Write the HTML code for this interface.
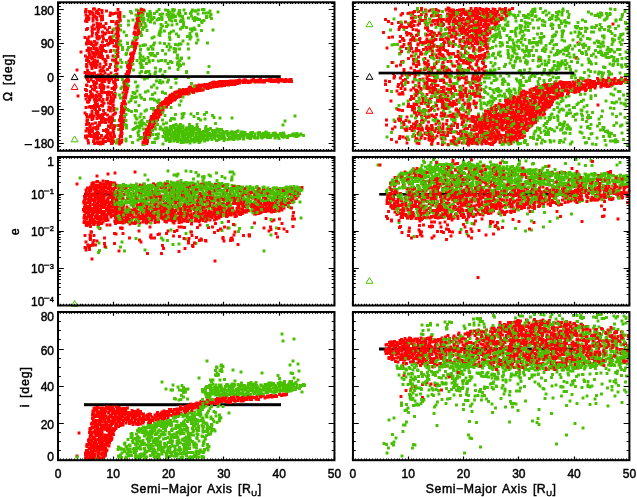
<!DOCTYPE html>
<html><head><meta charset="utf-8"><style>
html,body{margin:0;padding:0;background:#fff;}
svg{display:block;filter:blur(0.35px);}
text{font-family:"Liberation Sans",sans-serif;fill:#000;stroke:#000;stroke-width:0.45px;}
</style></head><body>
<svg width="637" height="497" viewBox="0 0 637 497">
<rect x="84" y="193" width="32" height="2.6" fill="#000"/>
<rect x="379.2" y="193" width="195" height="2.6" fill="#000"/>
<rect x="84" y="403.2" width="197" height="3" fill="#000"/>
<rect x="379" y="347.5" width="195" height="3" fill="#000"/>
<g transform="scale(.5)" stroke-width="5.8" stroke-linecap="square" fill="none"><path stroke="#ff0000" d="M1025 17h0m-19 2h0m-72 7h0m-5 0h0m-2-7h0m-5 12h0m-12-8h0m-3-3h0m-12 8h0m-14 3h0m-8 0h0m-11-11h0m-57 7h0m-3 3h0m-566-11h0m-65 5h0m6 15h0m1-3h0m8 0h0m0 6h0m7-6h0m30 7h0m548-4h0m6 4h0m7 4h0m13-2h0m26-9h0m7 7h0m16-2h0m27 0h0m6-6h0m69 11h0m3-9h0m4-5h0m0 5h0m1 8h0m41-3h0m229 6h0m-241 9h0m-16-8h0m-26 12h0m-14-13h0m-6 5h0m-16-3h0m-52 4h0m-27-3h0m-15 4h0m-536 6h0m-6-9h0m-77 24h0m5 0h0m8 2h0m3-10h0m629 11h0m1-2h0m30 2h0m10-11h0m2 7h0m274 11h0m-187 4h0m-3-7h0m-41 10h0m-5-13h0m-33 7h0m-22 7h0m-5-5h0m-9-5h0m-21-3h0m-28 13h0m-586-4h0m-11 2h0m-11-6h0m-7 5h0m-3-2h0m-22 15h0m22 0h0m4 2h0m19-5h0m15 0h0m47-3h0m569 3h0m3 7h0m1-3h0m12-6h0m11 3h0m30 0h0m5 5h0m5 1h0m34-12h0m0 15h0m33 3h0m-2 1h0m-16 8h0m-65-7h0m-15 8h0m-13-11h0m-12 12h0m-584-4h0m-50-9h0m-9 6h0m-4-3h0m-12 12h0m-4-2h0m-2 12h0m19 3h0m5 2h0m53-6h0m532-4h0m8-2h0m7 9h0m25-8h0m21 3h0m8 2h0m26-3h0m0 9h0m7-4h0m4 2h0m21-10h0m37 6h0m12-2h0m2-1h0m224 24h0m-244 2h0m-50-11h0m-1 10h0m-31-5h0m-43-6h0m-4 0h0m-18 4h0m-3 5h0m-12-3h0m-232 6h0m-302-4h0m-3-6h0m-29 9h0m-3-4h0m-4-4h0m-10 1h0m-33 0h0m0 19h0m75-7h0m131 12h0m11-3h0m11-1h0m9-2h0m5 0h0m19 4h0m3-9h0m11-1h0m31 3h0m39-6h0m0 4h0m44-3h0m209 8h0m25 4h0m20-8h0m51 10h0m21-1h0m13-10h0m46 2h0m5 5h0m6-1h0m140 0h0m12-5h0m29 0h0m2 3h0m35-8h0m10 13h0m3-10h0m0 2h0m52-5h0m2 6h0m-84 14h0m-35 5h0m-38-5h0m-35 4h0m-90-4h0m-2 8h0m-20-5h0m-38 1h0m-3-5h0m-7 8h0m-8 3h0m-15-14h0m-63 9h0m-411-3h0m-42 2h0m-122 3h0m-59-8h0m-15 13h0m36 1h0m6 7h0m17-4h0m2 10h0m4-4h0m5 2h0m21-8h0m2 7h0m572-4h0m29 8h0m2-10h0m24 6h0m20-11h0m11 1h0m54 1h0m120 10h0m13-4h0m7-2h0m2-4h0m2 9h0m-13 15h0m-14-9h0m-12 0h0m-5 5h0m-20-1h0m-8 7h0m-30-10h0m-17 13h0m-3-7h0m-55-7h0m-4 7h0m-11 2h0m-8-6h0m-1-2h0m-43 10h0m-3 1h0m-1-12h0m-19 5h0m-10-6h0m-495 6h0m-7 8h0m-83-9h0m-21 3h0m-15 5h0m-11 2h0m-22 10h0m10-4h0m1 6h0m9-5h0m6 6h0m19 0h0m578 2h0m3-5h0m43-1h0m89-8h0m15 13h0m33-11h0m1 3h0m56 1h0m50-6h0m-24 20h0m-5 11h0m-13-3h0m-16 1h0m-5-1h0m-11 1h0m-4-8h0m-23 7h0m-27-7h0m-7-1h0m-66 4h0m-7 6h0m-1-9h0m-32-3h0m-2-2h0m-12 5h0m-533 4h0m-56-2h0m-4-7h0m-12 11h0m-24-9h0m-11 13h0m-1-9h0m-16-6h0m-2 9h0m71 18h0m45 0h0m4-8h0m492-1h0m69 11h0m28 1h0m42-3h0m11-10h0m5 13h0m66-10h0m18 11h0m29-15h0m-25 26h0m-6 5h0m-20-8h0m-15 5h0m-9-9h0m-8 3h0m-2-2h0m-2 3h0m-32 8h0m-58 0h0m-18-12h0m-24 3h0m0 8h0m-22-10h0m-12-3h0m-557 0h0m-1 12h0m-4-6h0m-9-6h0m-23 14h0m-11-3h0m6 4h0m781 1h0m-98 43h0m21-5h0m5 1h0m311 20h0m-150 0h0m-107 1h0m-26-9h0m-46 7h0m-58-10h0m-16 12h0m-548-5h0m-83 22h0m674-9h0m41-1h0m58 8h0m58-9h0m35 0h0m142 6h0m7-2h0m56 23h0m-52-6h0m-16 1h0m-19 1h0m-36 5h0m-10-5h0m-25 3h0m-14-7h0m-72 5h0m-57 3h0m-39 1h0m-32-6h0m-40-7h0m-61 12h0m-553-12h0m-25-2h0m-53 0h0m265 22h0m180-3h0m221 8h0m7-7h0m6 3h0m31-5h0m6 3h0m54 7h0m41-1h0m12 2h0m9-7h0m23 2h0m11-3h0m1-3h0m14 1h0m63 5h0m32 6h0m21 1h0m33-4h0m40 4h0m18-14h0m5 1h0m-134 21h0m-9-2h0m-38 2h0m-29-1h0m-15 8h0m-6-4h0m-13 4h0m-24-5h0m-20 4h0m-12 1h0m-31-7h0m-33-2h0m-15 0h0m-14-2h0m-44 1h0m-12 7h0m-9 0h0m-9-6h0m-6-4h0m-197 12h0m-27-9h0m-46 4h0m-5 2h0m-107 3h0m-89-9h0m-6 4h0m-75 6h0m-13 1h0m-6-7h0m0 3h0m-34-11h0m-1 6h0m39 17h0m7 7h0m2-5h0m10-5h0m21 6h0m3 3h0m27-5h0m15-5h0m3 1h0m86-3h0m32 14h0m6-3h0m52-4h0m3-7h0m0 4h0m7 8h0m2-11h0m29 10h0m8-2h0m15-4h0m5 0h0m265 3h0m37 4h0m12-4h0m29 6h0m28-2h0m6-7h0m33-4h0m2 11h0m1-9h0m3 6h0m10 4h0m4-5h0m2 0h0m15-3h0m11 5h0m3-4h0m9 2h0m11-2h0m6-7h0m30 0h0m12 1h0m-1 28h0m-87-2h0m-73-7h0m-11 1h0m-1-5h0m-51 5h0m-32-5h0m-9 3h0m-21 7h0m-194-4h0m-4 0h0m-26 0h0m-50 8h0m-78 1h0m-15-13h0m-4 8h0m-5-1h0m-44-8h0m0 1h0m-41 2h0m-18 4h0m-11 6h0m-19-2h0m-8 2h0m-22-13h0m-3 12h0m-19-11h0m-8 1h0m-17-2h0m-24 18h0m15-2h0m53 7h0m95 6h0m33-7h0m490-2h0m71 1h0m28 7h0m-15 15h0m-445-6h0m-52 7h0m-137-1h0m-100 0h0m-37 8h0m10 7h0m6-10h0m94 3h0m117-3h0m-41 22h0m-174 15h0m831 132h0m38-10h0m29 2h0m8 4h0m9-5h0m24 4h0m7 0h0m34 10h0m1-4h0m7 2h0m50 2h0m21 9h0m-110-1h0m-12-1h0m-13 0h0m-5 4h0m-9 5h0m-5-14h0m-11 2h0m-1 5h0m-23 1h0m0 2h0m-2-1h0m-10 3h0m-19 2h0m-50-11h0m-2 8h0m-37 0h0m-140 17h0m29-4h0m2-1h0m9 3h0m8 3h0m6-8h0m6-1h0m8 2h0m40 4h0m5-7h0m15 2h0m9 1h0m47 6h0m3 0h0m7-13h0m31 9h0m41 6h0m32-6h0m11-1h0m13-5h0m11 1h0m1 9h0m36-5h0m9 7h0m13-13h0m18 8h0m29 2h0m18 3h0m4 13h0m-8-11h0m-82 8h0m-1-7h0m-5 2h0m-2-2h0m-15 4h0m-14 7h0m-49-8h0m-16 10h0m-8-12h0m-1-2h0m-1 10h0m-29-2h0m-33-7h0m-4 8h0m-14-4h0m-11-6h0m-82 6h0m-19-2h0m-24 0h0m-5 3h0m-16 0h0m-3 3h0m-22-1h0m-11 10h0m5 3h0m24 2h0m9 6h0m9-14h0m0 14h0m6-5h0m10 5h0m8-12h0m5 5h0m3 4h0m5-6h0m84-3h0m9 10h0m97-9h0m0 8h0m4-1h0m2 4h0m1-4h0m34-4h0m39 7h0m42-4h0m22-1h0m-137 14h0m-31-3h0m-225 9h0m287 4h0m8 0h0m55 0h0m-343 45h0m35 18h0m-2-4h0m-275-5h0m-17 3h0m-5 0h0m-14 1h0m-4 2h0m-93 1h0m-2 0h0m-217 17h0m2 1h0m155-2h0m2-2h0m5-3h0m79-3h0m10-3h0m-96 20h0m-1-4h0m-20 0h0m-10 13h0m-29-6h0m-32 3h0m-7-8h0m-51 2h0m-31-4h0m0 6h0m-2-6h0m-2-2h0m22 16h0m85 14h0m4-1h0m27-7h0m-97 15h0m-27 7h0m-24-3h0m-22 9h0m52 4h0m5 1h0m-1 16h0m-8-4h0m-29 7h0m-6 16h0m4-4h0m23 2h0m13-8h0m3 4h0"/>
<path stroke="#48c000" d="M1124 30h0m-97 0h0m-9 0h0m-3-8h0m-38 6h0m-7 3h0m-78-12h0m-57-2h0m-427 2h0m-25 5h0m-23 3h0m-2-2h0m-2 3h0m-8 2h0m-3-8h0m-11 7h0m-33-2h0m-1-4h0m-23 1h0m-4-4h0m-32 21h0m60 3h0m2-5h0m21 0h0m20-4h0m21-2h0m423 5h0m34 7h0m250-13h0m18 12h0m22-11h0m2 1h0m16 7h0m7-6h0m1 11h0m61-12h0m1-1h0m32 7h0m9-1h0m10 6h0m-20 12h0m-31-8h0m-49 4h0m-27 9h0m-67-1h0m-15-1h0m-12 2h0m-38-10h0m-54 4h0m-1-7h0m-55 13h0m-557-10h0m-1 0h0m-43 13h0m1 2h0m22 9h0m35-2h0m41-7h0m0 5h0m13-4h0m444 1h0m32-2h0m14 6h0m81-4h0m20 4h0m48-1h0m8-6h0m68 4h0m16 3h0m114 4h0m2-3h0m-34 10h0m-39 11h0m-43-15h0m-16 10h0m-29-7h0m-4 2h0m-5 0h0m-8 1h0m-20-1h0m-5 8h0m-3-1h0m-6-1h0m-36 1h0m-7 3h0m-96-11h0m-56-4h0m-38 9h0m-11 1h0m-391-4h0m-42 3h0m-60 1h0m-5 1h0m-20-9h0m-9 13h0m39 3h0m4 9h0m5-9h0m0 9h0m10 0h0m536 1h0m1-2h0m7-10h0m0 6h0m5-5h0m57 9h0m95 1h0m14-7h0m15 0h0m28 1h0m19-3h0m21 9h0m13-7h0m5-4h0m34 11h0m18 4h0m8-10h0m29 2h0m1-4h0m19 10h0m18-5h0m-14 13h0m-91-2h0m-37 10h0m-19 0h0m-67-1h0m-5-11h0m-24-1h0m-79 3h0m-89 3h0m-470-2h0m-46 6h0m-21-7h0m-52 10h0m-16-3h0m54 8h0m0 5h0m1 8h0m766-3h0m5-12h0m34 15h0m1-4h0m52 0h0m42-11h0m60 2h0m10 3h0m-30 15h0m-60 9h0m-12-1h0m-77-9h0m-7 3h0m-24 0h0m-25 2h0m-4-5h0m-20 11h0m-6-6h0m-69-2h0m-22-1h0m-2 0h0m-9 9h0m-57 0h0m-456-13h0m-43 10h0m-5-4h0m-78 15h0m72-1h0m595 2h0m92 2h0m1-6h0m3 0h0m6 5h0m1 1h0m30 2h0m29-8h0m171 27h0m-149-3h0m-4-4h0m-56 4h0m-19-1h0m-22-3h0m-21 5h0m-54-9h0m0 4h0m-25 2h0m-62 3h0m-476-9h0m-95 14h0m9 1h0m10 2h0m6 3h0m550 7h0m12 1h0m31-4h0m11-6h0m1 4h0m46-3h0m27-3h0m1 11h0m53-14h0m101 11h0m35 3h0m95-6h0m-4 8h0m-20 9h0m-23 5h0m-51-13h0m-5 6h0m-2 0h0m-9-4h0m-203 6h0m-36-3h0m-61 3h0m-9 2h0m-36-2h0m-451-2h0m-84 6h0m12 10h0m10 3h0m86-1h0m2-6h0m14 1h0m6 5h0m7-6h0m45 9h0m150-4h0m269 2h0m31-7h0m24 1h0m53 0h0m8 7h0m48-5h0m114-3h0m10 6h0m30-2h0m73 4h0m-9 17h0m-65 1h0m-1 2h0m-13-1h0m-34-3h0m-12-10h0m-2 14h0m-21-8h0m-58-7h0m-193 11h0m-28 3h0m-244-12h0m-4 8h0m-135-3h0m-104 1h0m-35 2h0m-4-3h0m-4-2h0m-6 1h0m-3 7h0m-4-7h0m-25 8h0m32 2h0m28 13h0m14-11h0m4 0h0m7-2h0m19 12h0m8 3h0m8-2h0m23-12h0m12 8h0m6-2h0m31 1h0m7 6h0m3-1h0m5-5h0m1-1h0m11 1h0m17 0h0m4 0h0m93 7h0m3 0h0m4-3h0m8-1h0m189-2h0m31-4h0m53-1h0m23 5h0m4-7h0m22 9h0m33-6h0m119 7h0m12-11h0m2 8h0m9 4h0m6-4h0m24-5h0m6 6h0m13-8h0m44 9h0m17-7h0m6 0h0m16 7h0m6 4h0m27-11h0m-62 16h0m-21 9h0m-5-10h0m-24 9h0m-14-6h0m-55 1h0m-26 6h0m-14-1h0m-153-8h0m-372 0h0m-60 2h0m-12 1h0m-46 3h0m-53 1h0m-8-7h0m-97 4h0m-1 6h0m93 2h0m538 1h0m50 1h0m122-2h0m156 1h0m-325 30h0m69 8h0m17 7h0m20-1h0m27 0h0m7 1h0m2-9h0m5 8h0m25-5h0m26 0h0m66-1h0m27 1h0m24-7h0m2 2h0m50 7h0m-45 17h0m-11 3h0m0 1h0m-28-4h0m-18 0h0m-29 4h0m-19-2h0m-39-6h0m-10 6h0m-15 0h0m-14-4h0m-26-7h0m-19 2h0m-42-1h0m-17 1h0m-13-1h0m-5 8h0m-2-10h0m-18 0h0m-4 3h0m-5-2h0m-13-1h0m-1 6h0m-41 5h0m-335-4h0m-5 0h0m-112 6h0m-58 0h0m30 16h0m29 0h0m19 0h0m40-10h0m11 9h0m44-5h0m339-1h0m3-7h0m1 4h0m61 4h0m11-4h0m15 2h0m30 8h0m8 0h0m15-5h0m0 1h0m92 1h0m16 4h0m10-10h0m8-5h0m5 12h0m6-5h0m3 7h0m16-5h0m10-6h0m3 4h0m12-3h0m21-4h0m24 3h0m14 6h0m21-1h0m13-4h0m5 5h0m2-1h0m19-4h0m-6 15h0m-40 11h0m-21-10h0m-8 1h0m-30 10h0m-45-1h0m-21-3h0m-42-3h0m-11 2h0m-19 2h0m-29 0h0m-11-5h0m-17-4h0m-27-2h0m-9 2h0m-25 8h0m-4-7h0m-20-4h0m-5 10h0m-18-6h0m-11 2h0m-3 0h0m-5 2h0m-38 3h0m-180-1h0m-3-3h0m-51 1h0m-33-3h0m-29 1h0m-7-1h0m-39 4h0m-9-9h0m-5 3h0m-2-2h0m-43 7h0m-29 6h0m-25 1h0m-1-7h0m-28-5h0m-8-3h0m-20 9h0m-1-6h0m19 28h0m30-7h0m2 1h0m31-8h0m126 0h0m18 6h0m281-1h0m1-3h0m69-2h0m3 0h0m13 14h0m59-11h0m5-3h0m52 14h0m37-7h0m37-8h0m39 8h0m1 3h0m8 1h0m9-1h0m3 2h0m24-4h0m5-2h0m34 11h0m-9-1h0m-6 2h0m-100 4h0m-1-3h0m-49 0h0m-104-4h0m-9 6h0m-24 7h0m-9-3h0m-2 5h0m-42-6h0m-11 1h0m-4-4h0m-216-3h0m-2 2h0m-33-3h0m-16-1h0m-39 9h0m-13 1h0m-24-2h0m-147-1h0m-67 6h0m10 4h0m63 11h0m18-11h0m50 1h0m41 6h0m19 6h0m19-7h0m84-1h0m282-6h0m70 6h0m62 3h0m41 16h0m-208 3h0m-563-13h0m209 29h0m35-4h0m25-2h0m314 7h0m162-9h0m15 2h0m36 2h0m32 3h0m-129 8h0m-106 5h0m-286-3h0m-356 20h0m26 5h0m114-15h0m9 1h0m193 21h0m-238-2h0m914 137h0m-50-6h0m-53 3h0m-154 4h0m-86 9h0m165-2h0m24 1h0m15 2h0m34-4h0m56-1h0m8 5h0m11 6h0m72 16h0m-10-11h0m-20 9h0m-52-1h0m-23-7h0m-59 9h0m-7 0h0m-48 1h0m-3-12h0m-108 19h0m49-3h0m16 12h0m55-1h0m63 1h0m42-6h0m53-3h0m26-4h0m37 23h0m-7-1h0m-8-7h0m-8 13h0m-1-6h0m-11 8h0m-27-8h0m-24 2h0m-17 1h0m-52-8h0m-100 0h0m-5 12h0m-13-6h0m-7 2h0m-86 2h0m-54 16h0m39 3h0m14-3h0m9-10h0m19 2h0m14 6h0m1 5h0m35-13h0m39 0h0m17 6h0m12 7h0m2-5h0m24-10h0m22 9h0m9 5h0m85-12h0m2 10h0m8-2h0m2 4h0m3-9h0m5 0h0m19 8h0m14-3h0m12-6h0m-3 21h0m-18 2h0m-35 2h0m-2-6h0m-27 4h0m-13 4h0m-1-5h0m-19-7h0m-67 5h0m-12-4h0m-81 2h0m0 5h0m-14-11h0m-20 15h0m-8-7h0m-11 6h0m-47-1h0m-19-5h0m-15-1h0m-37 5h0m-348 1h0m-4-1h0m-9 19h0m149-5h0m213-10h0m16 2h0m36 11h0m23-4h0m9-5h0m12 3h0m33 3h0m13-10h0m48 12h0m4 3h0m44-6h0m6-3h0m31-2h0m5 0h0m105 8h0m11-11h0m23 10h0m29-8h0m-11 27h0m-43-7h0m-40 2h0m-79 3h0m-28-1h0m-22-3h0m-57-8h0m-37 15h0m-7-13h0m-4-2h0m-5 15h0m-2-6h0m-50-2h0m-27-2h0m-9-3h0m-262 10h0m-13 3h0m-9-1h0m-36-1h0m-19 1h0m-60-3h0m-91 15h0m44 0h0m39-3h0m11-7h0m28 1h0m1 3h0m3 4h0m5-6h0m16 5h0m4-3h0m39-2h0m7 10h0m5 1h0m15 1h0m9-11h0m6-3h0m30 2h0m9 1h0m6 0h0m222 6h0m12 2h0m9-10h0m8 2h0m4 6h0m2 3h0m47-8h0m22 6h0m75 0h0m23 4h0m8-6h0m87 7h0m23-10h0m73 0h0m0 7h0m25 0h0m-46 8h0m-59 1h0m-38 7h0m-141-11h0m-9 6h0m-6 1h0m-50 5h0m-5 1h0m-75-3h0m-306-5h0m-15 2h0m-2-5h0m-51 3h0m-33 4h0m-7-10h0m-39 10h0m-9 6h0m65 9h0m380-3h0m31 2h0m38 2h0m20-3h0m57-7h0m205 7h0m90-2h0m-166 14h0m-87-3h0m-64 3h0m-59 8h0m-51-2h0m-386 0h0m-36 4h0m-13-6h0m-54 21h0m3 1h0m3-6h0m22-6h0m1-1h0m10 12h0m8-9h0m11 11h0m12-4h0m28-3h0m2 4h0m401-10h0m247 4h0m-202 14h0m-444 11h0m-7-13h0m-1 5h0m-15-1h0m-12-5h0m-9 7h0m-17-7h0m-4 4h0m-22-1h0m0 9h0m-12 2h0m-4-5h0m-4-4h0m-10 1h0m-12-3h0m-4 4h0m-1-4h0m-6 10h0m-4-1h0m-2-3h0m-5 2h0m-15 14h0m7 4h0m4-3h0m1-1h0m29-8h0m7 12h0m4-13h0m2 12h0m2-3h0m10-4h0m26 5h0m10 4h0m4-2h0m2 0h0m15-6h0m7-2h0m0 7h0m739-5h0m-20 18h0m-707 3h0m-8-9h0m-5 8h0m-3-4h0m-2 8h0m-1-6h0m-9-2h0m-3 3h0m-8 0h0m-17 4h0m-20 1h0m-15-12h0m-35 10h0m-39 18h0m13-12h0m0 9h0m2-3h0m4 6h0m8-5h0m1-2h0m7-7h0m7 12h0m16-7h0m33 5h0m12-1h0m7 4h0m27-13h0m4 9h0m3 0h0m13 2h0m9-2h0m9-5h0m361-4h0m48 0h0m-21 16h0m-406 2h0m-6 0h0m-8 2h0m-75-2h0m-16 0h0m-21 3h0"/>
<path stroke="#ff0000" d="M1019 20h0m-88 9h0m-6-9h0m-10 1h0m-17-4h0m-5 3h0m-50 0h0m0 9h0m-6-6h0m-8 0h0m-9 3h0m-542-4h0m-50 5h0m-39-9h0m-9 10h0m-8-5h0m1 13h0m0 4h0m1 3h0m2-10h0m16 1h0m34 9h0m12 0h0m585 2h0m7-12h0m46 7h0m0 6h0m23-3h0m1-6h0m9 4h0m10-4h0m18-5h0m5 11h0m11-11h0m10 5h0m8 5h0m15-8h0m1 4h0m5 2h0m-29 22h0m-24-9h0m-22-4h0m-645 7h0m-35-6h0m-1 6h0m-4-8h0m-17 12h0m-8-8h0m-22 6h0m-15 17h0m14-3h0m1-6h0m34 10h0m5-11h0m54-1h0m507 10h0m67-4h0m32 0h0m43 5h0m7 3h0m12-7h0m11-4h0m18 2h0m-2 12h0m-3 10h0m-63-1h0m-17-5h0m-3 5h0m-8 4h0m-29-8h0m-29 6h0m-13-11h0m0 8h0m-595-8h0m-8 3h0m-16-1h0m-7 1h0m-9 4h0m5 17h0m1 5h0m23-12h0m0 7h0m601-2h0m17-7h0m15 5h0m25-4h0m12 13h0m2-9h0m8 8h0m5-10h0m4 2h0m25 2h0m43-1h0m9 9h0m2-4h0m5-3h0m177 12h0m-190-2h0m-14 2h0m-7 8h0m-3 3h0m-6-2h0m-105-6h0m-24 5h0m-540 0h0m-27-11h0m-3 1h0m-2 6h0m-5-8h0m-31 10h0m-11-8h0m-10 3h0m10 16h0m8 2h0m20-6h0m9 0h0m10 4h0m24-1h0m0 11h0m567-7h0m42 0h0m46-4h0m27 5h0m1 0h0m20 3h0m0 2h0m259 14h0m-284-2h0m-5-10h0m-74 10h0m-8 4h0m-10-13h0m-6 8h0m-18-4h0m-589 6h0m-6-1h0m-15-1h0m-13-1h0m-19-7h0m23 20h0m7 10h0m9-12h0m7-3h0m15 0h0m212 12h0m6-1h0m4-2h0m37-4h0m34-1h0m48-1h0m294-1h0m10 9h0m5-11h0m21 12h0m41 3h0m130-1h0m30-5h0m13-2h0m14 3h0m9 2h0m27-11h0m14 0h0m5 2h0m13-3h0m40 1h0m-57 18h0m-29 5h0m-28-8h0m-7 8h0m-9 2h0m-13 1h0m-3-2h0m-15-9h0m-2 12h0m-9-9h0m-2-1h0m-102 0h0m-23 7h0m-8-5h0m0 3h0m-3-3h0m-61-1h0m-1-2h0m-4 0h0m-18 11h0m-489-4h0m-12 7h0m-1-1h0m-2 1h0m-146-7h0m-9-6h0m-1 10h0m-13 3h0m5 2h0m1 11h0m13-1h0m12-10h0m4 6h0m2 7h0m112 1h0m10-5h0m1-2h0m7-6h0m522 4h0m3-3h0m7-2h0m10 0h0m9 4h0m25 3h0m11-6h0m11 7h0m76 4h0m16-6h0m25-4h0m15 11h0m1-8h0m11 1h0m28-5h0m-8 17h0m-26 3h0m-42-6h0m-17 14h0m-17-14h0m-62 1h0m-20 14h0m-3-15h0m-65 11h0m-2 3h0m-17-6h0m-611-2h0m-13-2h0m-2-1h0m-4 8h0m-21-5h0m-8 12h0m9 8h0m5 5h0m17-8h0m4-2h0m0 3h0m20 4h0m6-10h0m12 1h0m4-2h0m55 11h0m1-3h0m546-9h0m4 11h0m18 1h0m30-5h0m17-4h0m5 9h0m57 1h0m6-1h0m25 2h0m35-14h0m40 6h0m3-2h0m87 8h0m-112 14h0m-15 1h0m-4-4h0m-22-1h0m-5-2h0m-3 0h0m-1-3h0m-19 11h0m-5-7h0m-2-2h0m-35 11h0m-6-1h0m-19-13h0m-18 6h0m-3-4h0m-13-1h0m-22 7h0m-15-4h0m-3 8h0m-46-3h0m-4 5h0m-31-14h0m-548 13h0m-3-2h0m-1 4h0m-4-2h0m-12-9h0m-4 1h0m-2 0h0m-14 3h0m-5 3h0m-6 6h0m12-1h0m9 15h0m20-5h0m7 4h0m4-10h0m17 1h0m2-4h0m44 12h0m12-3h0m509-8h0m2 3h0m17 10h0m7-14h0m21 9h0m30 4h0m16-12h0m25 2h0m3-4h0m18 14h0m21 1h0m7-13h0m13 11h0m43-11h0m3 3h0m4 1h0m8-5h0m6 0h0m-9 18h0m-19-1h0m-7 13h0m-2-14h0m-10 11h0m-17-11h0m-7 13h0m-20-7h0m-1-1h0m-8 5h0m-6-7h0m-17 0h0m-7 1h0m-17-3h0m-17 4h0m-1-6h0m-24 10h0m-7-3h0m-59-2h0m-555 3h0m-3-7h0m-1-1h0m-1 13h0m-29-10h0m-19 11h0m-3-7h0m-1 4h0m-4-10h0m-7 8h0m687 7h0m48 0h0m-18 43h0m94 11h0m0 2h0m-89 7h0m-76-4h0m-627 16h0m5 3h0m13 1h0m8-2h0m576 1h0m5-12h0m4 3h0m25-2h0m42 2h0m60 2h0m5 0h0m61-2h0m35 7h0m9-10h0m55 9h0m112-5h0m-37 23h0m-16-4h0m-9 6h0m-12-15h0m-3 1h0m-15 4h0m-13-2h0m-1 8h0m-5-9h0m-3 10h0m-6 2h0m-61-2h0m-204-1h0m-7 0h0m-11-9h0m-18 2h0m-349 2h0m-11 1h0m-26-7h0m-23 4h0m-11-3h0m-148 7h0m-9-3h0m-1-3h0m-2 0h0m-13 6h0m-6 7h0m-8-2h0m-10-1h0m11 18h0m7 1h0m1-12h0m0 8h0m5 0h0m12 4h0m8 0h0m3-4h0m150-7h0m98 8h0m38 0h0m91-4h0m179 4h0m19-9h0m46 5h0m10-2h0m15 2h0m60 0h0m0 0h0m10 0h0m26-7h0m4-1h0m21 11h0m5-4h0m61 3h0m12-3h0m62 1h0m23 7h0m6-4h0m18-5h0m13 7h0m22-1h0m3-1h0m4-2h0m40 12h0m-105-3h0m-7-2h0m-2 2h0m-18 7h0m-22-4h0m0 6h0m-46-8h0m-3 2h0m0 4h0m-13 3h0m-32-12h0m-7 7h0m-3-3h0m-14 8h0m-6-9h0m-3 10h0m-3-1h0m-3-1h0m-19 1h0m-18-6h0m-16-3h0m-6 0h0m-21 6h0m-39-9h0m-23 13h0m-3-8h0m-10 10h0m-6-7h0m-11-3h0m0 6h0m-15-8h0m-7 4h0m-217 7h0m-17-9h0m-23-4h0m-11 9h0m-20-1h0m0 4h0m-3-6h0m-59-4h0m-26 9h0m-28-6h0m-35-4h0m-15 7h0m-12 1h0m-20-8h0m-21 12h0m-50 0h0m-1-2h0m-20-12h0m-16 10h0m-4-5h0m-4 5h0m-1-3h0m-1-7h0m-2 4h0m27 12h0m0 1h0m0 5h0m2 3h0m8-2h0m5 7h0m5-13h0m10 14h0m22-11h0m2 11h0m3-11h0m41 10h0m5 0h0m26-2h0m66-9h0m9 1h0m34 7h0m17-11h0m9 10h0m16-7h0m34 9h0m40-6h0m38 3h0m203-1h0m4 5h0m9 0h0m5-7h0m20 9h0m10-12h0m20 7h0m22-5h0m22 8h0m35 0h0m31-7h0m2-2h0m2 4h0m9-4h0m23 5h0m18 0h0m92-2h0m94 9h0m-87 1h0m-126 12h0m-9-1h0m-53-3h0m-17-4h0m-12 3h0m-19-5h0m-14 0h0m-2 9h0m-1-12h0m-8 4h0m-20 6h0m-1-8h0m-14-1h0m-3 4h0m-20-2h0m-27 2h0m-2-4h0m-187-1h0m-38 8h0m-4 2h0m-89-10h0m-25 1h0m-1 7h0m-9 0h0m-16-2h0m-13 4h0m-7-10h0m-18 6h0m-6 4h0m-12 4h0m-9-6h0m-12-5h0m-1 3h0m-26-6h0m-54 9h0m-5 2h0m-8-6h0m-37-1h0m-5-1h0m-11 6h0m-8 7h0m9 5h0m63 4h0m56-3h0m95 1h0m22 0h0m111 1h0m271-1h0m145 8h0m-39 1h0m-62 0h0m-26 7h0m0 0h0m-355 6h0m-160-7h0m-56-3h0m-65 12h0m-3 15h0m13-4h0m88-10h0m106 11h0m18-11h0m45 2h0m-121 15h0m673 148h0m3 6h0m6-2h0m8 4h0m13-9h0m6-3h0m7 11h0m10 1h0m26-10h0m5 1h0m2-4h0m3 10h0m5-5h0m39-2h0m0 9h0m8 1h0m51 12h0m-17-7h0m-27-2h0m-61 4h0m-2 7h0m-2-10h0m-14 14h0m-3-1h0m-3-6h0m-2 3h0m-6 1h0m-29-12h0m-8 3h0m-1 11h0m-36-7h0m-24-3h0m-17 10h0m-1-3h0m-158 17h0m40-7h0m9 1h0m5 0h0m43 1h0m4 5h0m9 1h0m8-8h0m0 6h0m9-11h0m50 12h0m52 1h0m17-9h0m9-2h0m9 4h0m32-4h0m10 8h0m18 1h0m62-3h0m1-1h0m4-2h0m3 6h0m18 3h0m43-13h0m4 10h0m-154 5h0m0 14h0m-7-13h0m-4 13h0m-46-12h0m-7 4h0m-10 0h0m-31 2h0m-32-1h0m-8-1h0m-15-4h0m-31 10h0m-11-9h0m-5 11h0m-21-12h0m-9 11h0m-7 1h0m-3 0h0m-5-2h0m-11-3h0m-9 5h0m-4-2h0m-11-5h0m-8-5h0m-19 17h0m38 0h0m12 0h0m5 0h0m20-2h0m12 3h0m12-2h0m21 4h0m13 1h0m7-1h0m8 4h0m49-5h0m14 8h0m25-1h0m13-6h0m7 8h0m40-4h0m2 1h0m3-6h0m23 6h0m2-8h0m144-1h0m15 6h0m-8 13h0m-41 6h0m-84-5h0m-9 3h0m-2-3h0m-90 7h0m-3-2h0m-1-4h0m-109-5h0m-3 4h0m-12 6h0m-26-5h0m-8-5h0m-6 4h0m-59-2h0m-5-1h0m17 28h0m230-13h0m-184 27h0m-32 13h0m8-5h0m40-3h0m-343 22h0m-34 7h0m-45-3h0m-253 19h0m200-1h0m6-8h0m22 0h0m43-6h0m-89 17h0m-9 4h0m-6 6h0m-15 1h0m-1-5h0m-51 7h0m-14-7h0m0 3h0m-18 1h0m-46-1h0m-5-4h0m-6-6h0m-2 14h0m-7-6h0m-11 1h0m1 17h0m4-9h0m21 12h0m2-9h0m2 6h0m16-2h0m9 11h0m-38 0h0m-12-1h0m21 22h0m6 3h0m0 17h0m-9-3h0m-2 5h0m-15-9h0m-4 0h0m-16 22h0m18 1h0m20-9h0m1 11h0m-21 5h0m-11 2h0m-25-5h0"/>
<path stroke="#48c000" d="M1250 23h0m-54 5h0m-103 2h0m-30 1h0m-42-3h0m-1-3h0m-57 5h0m-23-2h0m-7-6h0m-32 5h0m-35 0h0m-20-2h0m-424 4h0m-9-3h0m-42 1h0m-3-7h0m-9 1h0m0 9h0m-10-10h0m-12 4h0m-40 6h0m-2-2h0m-34-5h0m-23 18h0m94 4h0m8-5h0m11 1h0m9-9h0m1 11h0m33-6h0m9 5h0m414 5h0m34-10h0m8 1h0m1 0h0m26 9h0m22-12h0m123 0h0m40-2h0m8 5h0m7 3h0m15-5h0m21 6h0m11 3h0m23 0h0m76-3h0m-61 14h0m0 7h0m-44-1h0m-25-11h0m-25 5h0m-34-4h0m-11 6h0m-23 0h0m-130-7h0m-71 8h0m-382 1h0m-72-12h0m-7 14h0m-3-12h0m-50 11h0m26 10h0m33-3h0m498 0h0m14-2h0m81-2h0m3 4h0m41 11h0m10-7h0m19 4h0m31 3h0m18-2h0m43-7h0m114 8h0m5-7h0m26-5h0m-13 23h0m-14-9h0m-13 15h0m-19-10h0m-26 6h0m-12-4h0m-54-7h0m-23 1h0m-45 0h0m-12-1h0m-24 12h0m-14-9h0m-11 5h0m-98 5h0m-17-13h0m-15 8h0m-25-2h0m-459 2h0m-6 2h0m-47-4h0m-2 4h0m-27 2h0m-12 2h0m-13-7h0m-13 3h0m3 9h0m36 12h0m21-1h0m29-2h0m18-4h0m6 6h0m581-4h0m41 2h0m9 3h0m11-2h0m20 0h0m12-3h0m5 2h0m17 3h0m2-12h0m5 7h0m5-5h0m4 10h0m42-1h0m5-1h0m4-3h0m16 5h0m11-13h0m14 3h0m5 4h0m42 6h0m46 5h0m-71 8h0m-2-2h0m-1 3h0m-23 0h0m-15-11h0m-58 7h0m-34-6h0m-13 0h0m-15 11h0m-3-11h0m-140 1h0m-521 8h0m-45-12h0m-12 12h0m-6 3h0m-13-1h0m40 16h0m1-3h0m37-6h0m500 7h0m12-4h0m73-2h0m11-3h0m71 1h0m59-4h0m7 0h0m13 12h0m16-8h0m1-1h0m11 6h0m119-8h0m5 23h0m-52 1h0m-6-9h0m-56 1h0m-25 10h0m-4 1h0m-7-2h0m-8-4h0m-4-2h0m-24 5h0m-5-3h0m-77-1h0m-7 0h0m-2 7h0m-23-10h0m-58 8h0m-584 0h0m-15-2h0m-42 20h0m65-6h0m20 9h0m489-4h0m34-4h0m5 0h0m50 6h0m39 2h0m13-1h0m69-13h0m0 2h0m0 8h0m18-10h0m30 6h0m26 6h0m125 10h0m-59-2h0m-98 6h0m-1 2h0m-62-8h0m-6 0h0m-19 0h0m-3-2h0m-21 6h0m-24-3h0m-24 2h0m-45 2h0m-8 2h0m0 3h0m-21-15h0m-3 13h0m-63-6h0m-395 1h0m-78 2h0m-36-4h0m-6 4h0m-2-1h0m5 19h0m35-6h0m56 4h0m509 4h0m4-3h0m11-5h0m4-5h0m16 0h0m54 8h0m9 6h0m13-13h0m2-2h0m2 4h0m2 4h0m12 1h0m120-7h0m47 6h0m15-8h0m47 14h0m-90 14h0m-157-7h0m-31-2h0m-592-1h0m-44 5h0m31 22h0m18-1h0m46 2h0m18-3h0m416 0h0m73-5h0m12 6h0m28-8h0m144 8h0m17-12h0m15 7h0m13 2h0m29 2h0m10-10h0m18 8h0m38-5h0m-46 24h0m-13-3h0m-107-8h0m-109 5h0m-39 7h0m-124 2h0m-418 0h0m-1-2h0m-5-4h0m-18 0h0m-1 5h0m-35-14h0m-92 11h0m44 20h0m44-14h0m26 8h0m13 0h0m33 2h0m6-1h0m7-1h0m9 1h0m1 3h0m11-2h0m19-4h0m28 0h0m57 3h0m1-2h0m14 3h0m1 4h0m20-5h0m19 3h0m9 1h0m12 1h0m292-7h0m124 4h0m15-12h0m41 3h0m18 10h0m37-12h0m7 1h0m19 6h0m4 2h0m43 7h0m-29 4h0m-57 4h0m-72 1h0m-43 3h0m-30-9h0m-73 11h0m-14-1h0m-74-12h0m-240 1h0m-17 2h0m-34-1h0m-48 2h0m-3-2h0m-17 3h0m-20-6h0m-21 7h0m-13 1h0m-4 4h0m-3-7h0m-6-1h0m-9 9h0m-13-2h0m-2-9h0m-7 0h0m-24-1h0m-8-1h0m-17 12h0m746 4h0m18-1h0m68 0h0m44 0h0m70 2h0m-382 41h0m31-1h0m20 1h0m3-8h0m29 5h0m7 4h0m20-2h0m22-8h0m90 11h0m145-8h0m14 26h0m-37 0h0m-8 0h0m-6-3h0m-31 1h0m-2-1h0m-32-3h0m-8 1h0m-23 2h0m-3-4h0m-38-4h0m-9 7h0m-7-7h0m-6-3h0m-2 12h0m-1-8h0m-46 10h0m-10-13h0m-1 9h0m-13 0h0m-5-2h0m-2-6h0m-22-1h0m-9-2h0m-19 14h0m-14-14h0m0 14h0m-18-11h0m-9 1h0m-22 10h0m-1-8h0m-4 7h0m-22-1h0m-406 2h0m-21 0h0m-25-8h0m-36 0h0m-40 18h0m34 6h0m32-5h0m46 5h0m4 0h0m25 1h0m345-2h0m9 1h0m5-1h0m1-11h0m12 3h0m5-3h0m2 3h0m35 6h0m2-9h0m3 8h0m9-9h0m16 2h0m26 0h0m2 4h0m13-4h0m6 11h0m4-11h0m19 2h0m2 0h0m25-4h0m0 4h0m1-1h0m2-3h0m59 2h0m10 10h0m3 1h0m15-1h0m9-7h0m11 4h0m49 2h0m1-3h0m8-1h0m2-5h0m13 3h0m10 0h0m5-2h0m12-4h0m15 3h0m1 9h0m15 2h0m14-13h0m1 5h0m2 4h0m3-5h0m-1 23h0m-37-5h0m-9-1h0m-64 9h0m-1-5h0m-13-4h0m-3 2h0m-3-2h0m-9-5h0m-10-1h0m-7 1h0m-3 12h0m-7-13h0m-26 2h0m-13 2h0m-45-1h0m-21 4h0m-2 6h0m-47-11h0m-52 4h0m-14 1h0m-5-2h0m-12-2h0m0 11h0m-10-14h0m-228 8h0m-15-2h0m-36 3h0m-12 1h0m-44-1h0m-11 5h0m-64-5h0m-12-4h0m-12-5h0m-10 15h0m-30-8h0m-5 4h0m-1 4h0m-10-14h0m-10 13h0m-4 0h0m-22-9h0m-41-1h0m-18 1h0m-1-2h0m-6 26h0m1-6h0m48 5h0m4-12h0m5 13h0m46 2h0m54-15h0m3 9h0m17 5h0m64-3h0m1-5h0m7-2h0m1-4h0m5 2h0m7 3h0m1-3h0m58 10h0m39-2h0m5-9h0m215 0h0m7 2h0m23 4h0m34-2h0m3 5h0m4 2h0m16 0h0m32-1h0m1-11h0m6 14h0m83-6h0m2 2h0m34 5h0m53-4h0m22-11h0m13 8h0m78 4h0m8-7h0m-79 16h0m-48-3h0m-29 4h0m-13-4h0m-37 3h0m-23-4h0m-35 9h0m-29-8h0m-6 11h0m-5-2h0m-37-5h0m-19 1h0m-34 7h0m-1-11h0m-28 4h0m-233 2h0m-19-1h0m-45-1h0m-5 0h0m-6-4h0m-6 4h0m-54-1h0m-80-4h0m-27 8h0m-14-3h0m-7 3h0m-10 2h0m-12-9h0m-14 24h0m72-2h0m75-7h0m27 4h0m342-3h0m17-2h0m44 9h0m12 0h0m10 5h0m19-6h0m3-6h0m38-1h0m-335 18h0m-209 1h0m-25-5h0m-16 7h0m-17-4h0m-96-3h0m133 46h0m-131 16h0m151-7h0m-193 14h0m762 136h0m-4 1h0m-102 13h0m6-1h0m14 0h0m18 5h0m75-7h0m86-4h0m69 8h0m66 0h0m55-10h0m-30 26h0m-11 1h0m-30-5h0m-18-8h0m-41 12h0m-88-6h0m-3 3h0m-41-7h0m-11 10h0m-51 3h0m-74 7h0m22 1h0m31 7h0m27-12h0m95 5h0m61 5h0m11-11h0m12 14h0m1-14h0m50 13h0m17-7h0m6-1h0m9 6h0m36-7h0m6-4h0m13 5h0m-44 15h0m-16 7h0m-13 3h0m-39-8h0m-1 1h0m-4 0h0m-25-1h0m-70 5h0m-4 2h0m-50-9h0m-22 1h0m-10-6h0m-6 13h0m-18-4h0m-11-7h0m-2 13h0m-61 8h0m31-3h0m11 6h0m21 5h0m19-10h0m0 5h0m1-1h0m44 2h0m25-6h0m11 8h0m39-4h0m35 2h0m37-11h0m24 12h0m9-10h0m7-1h0m2 8h0m36 3h0m5-8h0m30 6h0m3-8h0m14 6h0m-40 10h0m-1 1h0m-11 5h0m-31 0h0m-38-4h0m-60 10h0m-48 1h0m-1-10h0m-12 2h0m-11 6h0m-7 2h0m-27-2h0m-6-6h0m0 6h0m-6-2h0m-26 3h0m-8-2h0m-6-12h0m0 11h0m-19-7h0m-6-4h0m-5 12h0m-3-5h0m0 7h0m-7-12h0m-54 13h0m-238-5h0m-137 9h0m23 1h0m16 4h0m319-7h0m19 0h0m6 3h0m9 0h0m1 1h0m19 4h0m11 4h0m34-13h0m17 10h0m4 1h0m18-2h0m26-9h0m11 9h0m9-7h0m11 4h0m1 5h0m10 3h0m13-12h0m29 1h0m48 0h0m8-3h0m22 4h0m14 2h0m6-5h0m87 10h0m1-5h0m18 10h0m-25 11h0m-8-1h0m-129-1h0m-53-8h0m-61 1h0m-71-2h0m-1 5h0m-19 10h0m-2-2h0m-31-13h0m-28 6h0m-17 1h0m-220-3h0m-162 4h0m-28-4h0m-74 8h0m40 17h0m6-3h0m35 1h0m14-8h0m2-1h0m0 6h0m1-5h0m0 2h0m17-3h0m3 0h0m23-2h0m14 4h0m16 10h0m5-12h0m6 9h0m7-8h0m1 2h0m11 7h0m26-7h0m2 10h0m13-4h0m11-10h0m0 5h0m4 8h0m225-13h0m15 13h0m11-10h0m10 5h0m16 3h0m17-12h0m17 0h0m11 11h0m12 2h0m2-6h0m52-1h0m12-6h0m58 14h0m47-5h0m2 1h0m45 5h0m9-13h0m42 2h0m-10 20h0m-166-4h0m-6 9h0m-135-6h0m-26-3h0m-8 2h0m-7 7h0m-281-13h0m-23 2h0m-5 4h0m-8-4h0m-1 1h0m-19 4h0m-3-2h0m-31 0h0m-11 0h0m-81 2h0m75 18h0m365-2h0m10 2h0m131-1h0m19-8h0m170 11h0m47-2h0m-195 16h0m-41-2h0m-516 0h0m-11-1h0m-29 6h0m-3 1h0m-22 0h0m20 14h0m3-3h0m6-1h0m22-5h0m25 3h0m0 4h0m339-1h0m10-4h0m25 8h0m126-1h0m139 6h0m-268 1h0m-3 0h0m-379 9h0m-4 2h0m-3-4h0m-6 6h0m-1-15h0m-10 3h0m-7 2h0m-24 1h0m-2-3h0m-11 6h0m-16 4h0m-4-11h0m-23 1h0m-10 0h0m-1 4h0m-8-4h0m-6 11h0m-17-1h0m-19 18h0m33-7h0m65 3h0m19-1h0m3-9h0m5 2h0m13 10h0m11-4h0m1-9h0m5 14h0m10-10h0m522 9h0m-156 13h0m-406-9h0m-10 7h0m-2 6h0m-4-14h0m-10 10h0m-15-9h0m-1 4h0m-2 10h0m-16-11h0m-18 8h0m-1-3h0m-13-1h0m-1-1h0m-10-5h0m-6 8h0m-19 3h0m6 10h0m7-5h0m5 13h0m9-14h0m8 1h0m1-1h0m12 1h0m7 0h0m35 13h0m10-5h0m1 5h0m7-12h0m7 1h0m3 8h0m23-5h0m7-3h0m3 13h0m-16 0h0m-15 5h0m-9-1h0m-15-5h0m-16 4h0m-19-4h0m-40 2h0m-17-2h0m-103 2h0"/>
<path stroke="#ff0000" d="M983 24h0m-16 4h0m-16-10h0m-20 8h0m-11 3h0m-24-13h0m-53 1h0m-52 1h0m-551 12h0m-8-4h0m-7 2h0m-5 3h0m-7-9h0m-30 2h0m11 23h0m40-4h0m6-9h0m0 6h0m571 4h0m15-2h0m3 1h0m9-10h0m13 0h0m12-1h0m18 5h0m2 8h0m12-3h0m7-5h0m11 10h0m6-7h0m4-1h0m19-5h0m9 13h0m2-2h0m9-2h0m5-2h0m5-4h0m18 7h0m9-7h0m-25 14h0m-4-3h0m-8 1h0m-5 3h0m-3 1h0m-15 10h0m-5-13h0m-6 5h0m-5 0h0m-5-2h0m0 3h0m-10 5h0m-9-1h0m-4-4h0m-19-7h0m-13 14h0m-6-1h0m-59-3h0m-564 2h0m-37-4h0m-1 3h0m-12-6h0m-9 3h0m3 17h0m19-1h0m15-7h0m56 1h0m6 5h0m493-7h0m130 14h0m7-9h0m19-3h0m9 3h0m6 3h0m14-4h0m1 5h0m4-1h0m8-5h0m1-3h0m8 5h0m-2 19h0m-15-5h0m0 2h0m-9 9h0m-13-12h0m-4 9h0m-11-8h0m-13-1h0m-33 10h0m-7-12h0m-5 3h0m-4 8h0m-6-7h0m-11 0h0m-5 3h0m-11-8h0m-592 2h0m0 11h0m-15-6h0m-9 4h0m-7 0h0m-10-2h0m-15 7h0m5 1h0m7 14h0m2-2h0m7-5h0m6-3h0m32 4h0m35-9h0m552 1h0m9 5h0m12 6h0m3-9h0m18 12h0m30-8h0m1 4h0m66-7h0m116 18h0m-112 1h0m0 3h0m-8-6h0m-19 0h0m-20 2h0m-17 5h0m-15-9h0m-1 12h0m-1-14h0m-35 5h0m-13-3h0m-9 10h0m-22-1h0m-543-10h0m-31 14h0m-27-14h0m-11 10h0m-11 4h0m-1-11h0m-4 7h0m-2-8h0m-3 6h0m-2-9h0m2 17h0m2 12h0m17-13h0m8 0h0m4 14h0m27-1h0m1-1h0m27-2h0m568-10h0m9 15h0m19-9h0m35 2h0m25 4h0m25-7h0m5 5h0m6 4h0m2-13h0m15 13h0m-15 14h0m-28-9h0m-85 12h0m-8-10h0m-2-3h0m-11 4h0m-11-6h0m-21 3h0m-215 12h0m-30 0h0m-288-1h0m-3-5h0m-16 6h0m-1-11h0m-2 1h0m-5 5h0m-18 4h0m-10 0h0m-7-2h0m-10 0h0m-4-11h0m14 30h0m3-15h0m11 11h0m2 3h0m22-11h0m20 1h0m148 6h0m22-3h0m11-2h0m0 8h0m12-10h0m19 6h0m8-7h0m5 5h0m14-3h0m11 0h0m2-2h0m31-2h0m6 2h0m4 1h0m13-2h0m11-1h0m236 6h0m2 6h0m1-11h0m32 5h0m0 8h0m19-13h0m6 9h0m68-4h0m6-1h0m19-3h0m3-2h0m135 10h0m26-6h0m4 7h0m4 4h0m12 0h0m6-11h0m11-3h0m22 6h0m5-1h0m3 0h0m15 8h0m13-1h0m6-1h0m16-9h0m0 2h0m11-3h0m6 1h0m-106 21h0m-4-1h0m-13-7h0m-3 6h0m-10 9h0m-3-9h0m-4-2h0m-6-1h0m-4 0h0m-7-2h0m-16 9h0m-5 4h0m-4-13h0m-16 8h0m-2 5h0m-5 0h0m-4-1h0m0 2h0m-88-9h0m-9-6h0m-36 1h0m-15 1h0m-22 1h0m-14-1h0m-16 1h0m-68 2h0m-388 4h0m-9-7h0m-1 10h0m-26-3h0m-5 3h0m-90-11h0m-9 9h0m-19 3h0m-10-5h0m-2 6h0m-10-6h0m-7 5h0m-16-1h0m-9 1h0m0 2h0m6 9h0m6-6h0m7 5h0m12 4h0m129-3h0m2-1h0m6-5h0m1 2h0m5-2h0m14-1h0m421 9h0m41-9h0m29 12h0m30-2h0m11-4h0m5 1h0m9 3h0m13-5h0m1-5h0m92 11h0m14-11h0m9 9h0m3-4h0m9 5h0m13 3h0m8 1h0m3-11h0m3 0h0m3 8h0m7 2h0m7-7h0m3-6h0m-9 17h0m-44 4h0m-1-6h0m-3 11h0m-10-5h0m-2 7h0m-4-7h0m-1 8h0m-1-6h0m-9-4h0m-3-1h0m-29 11h0m-41-14h0m-45 1h0m-38 1h0m-50 11h0m-6-1h0m-3-1h0m-460-10h0m-12 12h0m-5-12h0m-98 13h0m-24-9h0m-2-5h0m-22 21h0m20-4h0m17 2h0m9 12h0m7-9h0m18 3h0m59 4h0m18-9h0m1 0h0m479 11h0m30-13h0m2 6h0m11-8h0m45 8h0m38-2h0m5 4h0m12-1h0m1 0h0m11 2h0m1-3h0m13-2h0m8 8h0m9-2h0m3-6h0m2-3h0m0 10h0m1-8h0m1 6h0m5-8h0m0 12h0m4-8h0m30 1h0m5 7h0m4-14h0m3 7h0m9-7h0m13 6h0m1-4h0m-5 22h0m-2-9h0m-36 1h0m-7-1h0m-3 7h0m-3 7h0m-5-13h0m0 2h0m-43 1h0m-14 4h0m-25-4h0m-10 11h0m-39-13h0m-12 9h0m-1 0h0m-40 2h0m-50-3h0m-472-9h0m-83 3h0m-14 0h0m-9 8h0m-21-12h0m1 18h0m4 2h0m0 6h0m9 3h0m1-13h0m6 9h0m19 6h0m3-4h0m75-3h0m528-7h0m7-1h0m11 2h0m13 9h0m22-10h0m3 1h0m26 7h0m29 3h0m34 1h0m22-4h0m21 6h0m19-11h0m5 7h0m9-2h0m6-7h0m1 2h0m-7 12h0m-2 4h0m-10 0h0m-2 2h0m-20 8h0m-7-1h0m-9-3h0m-13 5h0m-6-4h0m-1-10h0m-2 10h0m-8 0h0m-11-6h0m-3 0h0m-22 9h0m-7-5h0m-34-3h0m-14-2h0m-6 1h0m-14 0h0m-35 2h0m-9-5h0m-23 5h0m-490 8h0m-50-4h0m-17-6h0m-4 6h0m-5-5h0m-13 6h0m-15 3h0m97 2h0m669-1h0m30 1h0m4 45h0m196-11h0m31 22h0m-19 6h0m-42-3h0m-51-3h0m-140-3h0m-24-6h0m-37 14h0m-93-6h0m-7 7h0m-579 15h0m111 0h0m446 1h0m44-12h0m35 7h0m21-4h0m34-1h0m40 1h0m1-2h0m15 9h0m32-12h0m51 1h0m46-2h0m52 5h0m18 6h0m6-2h0m17 4h0m2-1h0m53 13h0m0 5h0m-12-1h0m-8-13h0m-35 10h0m-53-6h0m-4-2h0m-27 6h0m-17 7h0m-3 0h0m-11-1h0m-17 1h0m-18-2h0m-70 0h0m-8-1h0m-5-11h0m-4 1h0m-4 11h0m-29-9h0m-1 8h0m-64-4h0m-19 6h0m-359-1h0m-46-2h0m-3-10h0m-78 12h0m-40-11h0m-9 13h0m-56-6h0m-2-1h0m-25-6h0m-5 7h0m-8-1h0m-15 5h0m-1-3h0m-11 1h0m-8 12h0m4 8h0m16-6h0m6-3h0m8 4h0m9 2h0m6-12h0m15 7h0m2 1h0m53-2h0m33 2h0m15-4h0m24 0h0m3 6h0m146 5h0m14-4h0m63-6h0m186 2h0m10-2h0m1 6h0m29-8h0m16 0h0m4-2h0m18 5h0m5 1h0m17-3h0m14 3h0m18 7h0m19 0h0m2-14h0m5 6h0m5 0h0m7 7h0m3-4h0m2-6h0m10 7h0m6-2h0m12 1h0m3-3h0m4-5h0m8 5h0m19 3h0m17-9h0m7 4h0m1 6h0m3 0h0m29 4h0m59-10h0m5 0h0m7 4h0m8-7h0m9 14h0m3-8h0m1 3h0m11-2h0m2 2h0m1 1h0m14 1h0m6-7h0m25-3h0m5 11h0m3-10h0m3 0h0m6 0h0m5 5h0m1-4h0m0 8h0m12-3h0m1 0h0m-54 19h0m-66-11h0m-12-1h0m-5 8h0m-16-5h0m-24 7h0m-1 2h0m-10 0h0m-1-3h0m-3 6h0m-23-6h0m-5 4h0m-3-5h0m-4-6h0m-6 9h0m-16 1h0m-15-1h0m-1-2h0m-5-8h0m-29 7h0m-4 2h0m-4-8h0m-6-2h0m-3 14h0m-10-11h0m-17 1h0m-16 3h0m-16-7h0m-51 7h0m0 4h0m-8 0h0m-21-11h0m0 11h0m-9-8h0m-11 11h0m-213-7h0m-44 4h0m-5 1h0m-2-6h0m-11 3h0m-4 4h0m-25 2h0m-2-4h0m-22-2h0m-16-7h0m-14 11h0m-51 0h0m-16-2h0m-7-3h0m-23-7h0m-80 9h0m-11 4h0m-11-13h0m-6 4h0m-12-5h0m-2 0h0m-16 4h0m-13 15h0m6 4h0m10-5h0m7 4h0m2-3h0m17 5h0m21 1h0m1 1h0m2-3h0m18 8h0m1-11h0m3 1h0m24-5h0m9 6h0m8 9h0m8-5h0m3-2h0m6-1h0m1-5h0m8 4h0m2-4h0m13 7h0m6-5h0m6 6h0m23-4h0m10 3h0m0 2h0m7-1h0m0 4h0m7-10h0m10 6h0m10 4h0m2 0h0m25-3h0m1-5h0m4 7h0m28-2h0m8-3h0m21 2h0m17-6h0m5-2h0m11 5h0m21-7h0m239 4h0m13 9h0m23-3h0m6 0h0m23 4h0m8-12h0m5 1h0m2-1h0m7 8h0m7 5h0m10-12h0m22 2h0m18 9h0m25-12h0m1 9h0m14-11h0m14 7h0m24 0h0m1-3h0m30 3h0m149-4h0m-4 14h0m-41 10h0m-183 4h0m-34-14h0m-9-1h0m-12 3h0m-11-3h0m-10 3h0m-25 11h0m-82-5h0m-366-4h0m-11-4h0m-2-1h0m-5 2h0m-3 8h0m-18-3h0m-33-2h0m-2 2h0m0 6h0m-8-4h0m-6 0h0m-27 3h0m-1-6h0m-3 5h0m-3-11h0m-9 3h0m-8 0h0m-1 9h0m-12 2h0m-36-9h0m-2 4h0m-7 0h0m-4-5h0m-44 5h0m-2-2h0m-4-1h0m0 7h0m-13 0h0m5 3h0m41 2h0m186 0h0m25 4h0m376-1h0m17 10h0m44-9h0m20 0h0m177 4h0m-172 7h0m-43 7h0m-3-3h0m-18 7h0m-19-11h0m-305 7h0m-12-1h0m-41 4h0m-263-11h0m-2 8h0m0 6h0m-1-1h0m-4 13h0m10-5h0m191-2h0m84-2h0m15 8h0m-181 18h0m-123-10h0m0 3h0m849 152h0m18-1h0m7 2h0m63-7h0m7-2h0m1 2h0m11 9h0m19-7h0m15 1h0m71 16h0m-4 1h0m-5-8h0m-13 7h0m-12 2h0m-6 4h0m-24 0h0m-8-1h0m0 1h0m-13-3h0m-2 2h0m-1-4h0m-14 0h0m-4-6h0m0 8h0m-18-12h0m-1 2h0m-1 10h0m-16-4h0m-12-5h0m-7 10h0m-4-10h0m0 4h0m-22 5h0m-4-5h0m-4-2h0m-8 10h0m-11-7h0m-14-5h0m0 11h0m-5-4h0m-3 0h0m0 3h0m-4-9h0m-9 11h0m-28-7h0m-38 2h0m-1 3h0m-21 2h0m-93 8h0m5 3h0m11-6h0m3 11h0m18-6h0m12 5h0m20 0h0m8-7h0m14 7h0m5-4h0m9-3h0m5 5h0m4 2h0m1 0h0m1-4h0m29 5h0m31-8h0m10-4h0m12 2h0m22 6h0m13-1h0m16 2h0m2-2h0m3-3h0m3-6h0m0 2h0m5 12h0m9-14h0m25 1h0m3 4h0m13-6h0m3 15h0m5-14h0m23 11h0m19-12h0m9 1h0m3 9h0m12-4h0m10 2h0m25-6h0m3 6h0m9 0h0m13 7h0m-6 12h0m-9-2h0m-10-7h0m-16 9h0m-28-6h0m-13 7h0m-28-9h0m-19 3h0m-5-3h0m-6 9h0m-18-10h0m-21 5h0m-24 1h0m-18-8h0m-4 14h0m-6-9h0m0 3h0m-19-8h0m-22 15h0m-11-14h0m-37 3h0m-21-3h0m0 2h0m-9 11h0m-28-11h0m-1 6h0m-10-4h0m-23-5h0m-1 2h0m-8-2h0m-1 5h0m-6 7h0m-25-12h0m-1 3h0m-6 5h0m-2-7h0m-8 8h0m-1-4h0m-6 6h0m-1 3h0m13 17h0m2-15h0m5 2h0m1 3h0m5-2h0m10 9h0m9 1h0m10-5h0m9-1h0m23-2h0m15 0h0m7 1h0m6-2h0m66-1h0m2 10h0m9-8h0m5 0h0m16 9h0m16-10h0m21 6h0m14-2h0m11-6h0m4 4h0m9-1h0m3-1h0m14 5h0m13 6h0m4-5h0m27-1h0m19 0h0m13-5h0m3 6h0m10-8h0m2-2h0m5 7h0m6 7h0m16-14h0m5 5h0m21 16h0m-99 1h0m-12-6h0m-23 7h0m-74-1h0m-26 6h0m-48-11h0m-44 0h0m-13 6h0m-15 7h0m-5-9h0m-7 5h0m-1-8h0m-46 4h0m285 13h0m-230 29h0m-311 23h0m-4 1h0m-26 2h0m-7 0h0m-8 1h0m-1-1h0m-36 4h0m-37 1h0m-199 15h0m128-1h0m21 0h0m2 1h0m41-10h0m5 3h0m5 0h0m19-5h0m7 0h0m21 0h0m4 0h0m-127 16h0m-20 1h0m-11 3h0m-14 6h0m-4 2h0m-12-1h0m-19-5h0m-14 7h0m-20-9h0m-3 1h0m-7-7h0m0 10h0m-14 5h0m-5-14h0m-9 2h0m-3 2h0m-2 5h0m-8-10h0m-6 12h0m-2-6h0m-1 8h0m3 4h0m1 8h0m4-1h0m25-7h0m9 1h0m1 9h0m4 3h0m15-6h0m18-6h0m22-2h0m38 5h0m4-2h0m-53 13h0m-39 4h0m-23 2h0m-5-5h0m-4 4h0m-9-2h0m-9 3h0m-5 2h0m10 15h0m4-6h0m8 2h0m0 4h0m7 5h0m7-7h0m4-3h0m5 2h0m-6 12h0m-3 2h0m-5 0h0m-4 7h0m-1-8h0m-3 2h0m-7 1h0m-7-5h0m-2 8h0m-3 7h0m-2-13h0m-7-1h0m-3 8h0m-3 21h0m6-1h0m9-3h0m2-5h0m23 5h0m-4 9h0m-8 3h0m-19-4h0m-8 4h0"/>
<path stroke="#48c000" d="M1213 27h0m-12-1h0m-18 2h0m-45 1h0m-3-6h0m-9-2h0m-2 4h0m-11 0h0m-47-6h0m-1 3h0m0 6h0m-18 3h0m-11 0h0m-27-11h0m-27 8h0m-66-2h0m-50-7h0m-469 1h0m-16 7h0m-43-2h0m-13 3h0m-30 3h0m-13-13h0m-3 6h0m-16 2h0m9 20h0m3-13h0m33 2h0m6 5h0m10-5h0m13-2h0m25 7h0m21-8h0m7 3h0m30-2h0m3 4h0m427 8h0m64-3h0m29-8h0m35 0h0m3 0h0m23-2h0m28 10h0m67-3h0m13 1h0m53 0h0m6 3h0m82 15h0m-16-6h0m-53 2h0m-10 3h0m-22-2h0m-21-3h0m-42-1h0m-39 3h0m-5 9h0m-5-12h0m-6 5h0m-37 2h0m-63-6h0m-13 1h0m-1 3h0m-8 0h0m-40-1h0m-499 0h0m-40-2h0m-11-4h0m0 8h0m-32-3h0m-5 5h0m-58 13h0m48 4h0m44-10h0m20 1h0m36 6h0m7 1h0m482 3h0m65-9h0m59 4h0m3 2h0m2-6h0m38-1h0m74 6h0m4-1h0m33-6h0m8-2h0m58 8h0m16 17h0m-18-3h0m-49 3h0m-28-7h0m-16 7h0m-9-8h0m-29 9h0m-16-9h0m0 5h0m-38 8h0m-16-4h0m-68-9h0m-53 13h0m-40-5h0m-26 1h0m-489-3h0m-88-5h0m-9 23h0m20 4h0m3-9h0m25 7h0m17-9h0m9 0h0m42-1h0m3 6h0m26-5h0m577 2h0m72-3h0m2-1h0m31 15h0m26-11h0m5 3h0m48 4h0m39-9h0m26 11h0m26-5h0m-121 19h0m-10-10h0m-41-1h0m-5 9h0m-19-5h0m-73 0h0m-35-3h0m-48 10h0m-48-11h0m-451 4h0m-48 6h0m-7-1h0m-41-1h0m-15 20h0m92-9h0m2 0h0m12 12h0m403-10h0m66 6h0m38 1h0m4-10h0m7 9h0m30-8h0m10 9h0m57 0h0m21-7h0m32 9h0m52-13h0m22 3h0m11-4h0m110 1h0m-29 17h0m-10 2h0m-19 4h0m-17 4h0m-102 0h0m-13-9h0m-45 5h0m-18-3h0m-9-1h0m-1 8h0m-5 0h0m-21-5h0m-32 2h0m-43-5h0m-1 2h0m-57 0h0m-535 3h0m-34 6h0m-1 15h0m69-12h0m13 2h0m26 2h0m480-6h0m6 1h0m10 2h0m2 10h0m4-5h0m129-2h0m22-6h0m0 7h0m35 4h0m7 0h0m5-8h0m36-2h0m11 0h0m6 8h0m69-7h0m34-2h0m11 8h0m18 15h0m-46 8h0m-30-2h0m-15-8h0m-13-4h0m-55 0h0m-13 4h0m-34 5h0m-3-8h0m-6 5h0m-25-4h0m-126 6h0m-32-3h0m-9 6h0m-505-4h0m-29-2h0m-16 8h0m-32-1h0m-6-12h0m-11 12h0m10 7h0m6-2h0m23 1h0m19 4h0m12-1h0m65-4h0m492 8h0m5-9h0m115 13h0m7-3h0m25-10h0m19 10h0m2-9h0m51-2h0m44 9h0m12-9h0m86 13h0m9-1h0m-69 17h0m-31-9h0m-15-4h0m-24 8h0m-9 7h0m-18-11h0m-4 5h0m-26-7h0m-15 9h0m-94 2h0m-2-6h0m-1-5h0m-29 7h0m-3-6h0m-9 5h0m-14-4h0m-24 10h0m-568-11h0m-5 11h0m-10 1h0m25 12h0m109 2h0m432-11h0m29 4h0m45 8h0m7-1h0m190 0h0m15-5h0m19-6h0m99 7h0m21 13h0m-48 9h0m-55-15h0m-24 11h0m-35 4h0m-86-2h0m-4-3h0m-55 4h0m-73-14h0m-3 0h0m-459 13h0m-46 2h0m-33-9h0m-12 8h0m-11-1h0m-28-10h0m-2 12h0m-8 0h0m-43-14h0m-3 13h0m44 3h0m17 1h0m26 11h0m36 2h0m7-8h0m1-2h0m23 5h0m4-2h0m8 5h0m1-13h0m6 3h0m0 2h0m1 9h0m5 1h0m4-1h0m9-10h0m1 7h0m6-6h0m0 1h0m12-3h0m0 12h0m17-7h0m8 4h0m3 3h0m1-3h0m12 3h0m3-2h0m2-4h0m6 1h0m12 0h0m4-1h0m12 4h0m17-3h0m4 1h0m5 4h0m47-3h0m10 2h0m227-1h0m34-6h0m5-6h0m41 7h0m15-2h0m16 6h0m7-11h0m15 1h0m34 9h0m50 3h0m26-7h0m23 3h0m1-1h0m6-8h0m25-1h0m9 2h0m46-1h0m36 8h0m16 15h0m-1 4h0m-11-11h0m-10 8h0m-39 5h0m-91-11h0m-63 4h0m-18 0h0m-14-3h0m-13-1h0m-9 4h0m-14 8h0m-6-14h0m-8 9h0m-4-9h0m-3 7h0m0 5h0m-3-10h0m-8 3h0m-50-3h0m-42-2h0m-248-1h0m-5 1h0m-4 1h0m-33 1h0m-2-2h0m-11 1h0m-35 4h0m-9-6h0m-7 1h0m-6 0h0m-16 3h0m-32 2h0m-4 1h0m-6-2h0m-5-4h0m-2 11h0m-10-5h0m-5 0h0m-21 6h0m-2-6h0m-46-4h0m-36 0h0m-15 10h0m632 5h0m12-2h0m303 2h0m-338 34h0m5 5h0m20 0h0m7 6h0m20-7h0m3 0h0m29 4h0m3-8h0m13 10h0m117-1h0m112 17h0m-18 0h0m-41-2h0m-4-3h0m-36 5h0m-16-3h0m-12 3h0m-6-8h0m-3 3h0m-7-2h0m-6 0h0m-7 1h0m-23-4h0m-1 11h0m-10-13h0m-1 8h0m-2 5h0m-4-15h0m0 12h0m-9-1h0m-25-1h0m-2-6h0m-11-4h0m-11 3h0m-8 0h0m-13 6h0m-8 2h0m-7 4h0m-1-10h0m-6 8h0m-9-1h0m-7-1h0m-10-5h0m-4-3h0m-3 10h0m-13-4h0m-2 1h0m-12 2h0m-34-1h0m-343 1h0m-308 8h0m175 7h0m11 3h0m8-14h0m10 15h0m32-3h0m20 2h0m18-5h0m16-5h0m14-2h0m0 4h0m323 7h0m3-3h0m15 2h0m13-4h0m2 5h0m17-12h0m5 11h0m4-5h0m44-7h0m0 5h0m12-3h0m8 6h0m1-8h0m43 14h0m5-5h0m3-1h0m9-8h0m1 2h0m9 9h0m5-8h0m30 4h0m8 2h0m0 5h0m6-5h0m16-9h0m17 2h0m14 1h0m2 3h0m3-3h0m16 3h0m18 0h0m6 2h0m2-1h0m4 1h0m12-2h0m15-3h0m3 12h0m7-12h0m9 9h0m6-6h0m5 7h0m9 2h0m5 0h0m10-4h0m6 4h0m9-5h0m14 0h0m10 6h0m-40 4h0m-2 7h0m-22-8h0m-17 10h0m-6-4h0m-46-8h0m-34 2h0m-10 1h0m-1 7h0m-1-2h0m-2 1h0m-26-6h0m-17 8h0m-25-3h0m-15-7h0m-7 13h0m-19-4h0m-20-7h0m-6 5h0m-15-9h0m0 6h0m-4-1h0m-6 8h0m-9-3h0m-23 3h0m-9-2h0m-18 3h0m-10-7h0m-12 0h0m-10 2h0m-17-1h0m-205-2h0m-3 3h0m-7 0h0m-3-3h0m-10 4h0m-57-3h0m0 7h0m-8-6h0m-17 5h0m-14-1h0m-6-8h0m-5-1h0m-30 2h0m-5 4h0m-9-1h0m-22-7h0m-11 6h0m-45-5h0m-49 3h0m-1 1h0m-5-6h0m-8 12h0m-1 2h0m-1-2h0m-15-10h0m-6 4h0m-10-4h0m-8 26h0m1-10h0m1 2h0m0 4h0m7 6h0m7-8h0m1 7h0m7-10h0m3 2h0m5 8h0m11-12h0m2 4h0m5 2h0m14 8h0m5-6h0m18 6h0m5-13h0m22-2h0m14 1h0m6 14h0m25-6h0m10-5h0m3-1h0m6 11h0m19-10h0m5 11h0m3 0h0m4-10h0m6-3h0m33 5h0m13 5h0m2-10h0m7 6h0m25 4h0m3-3h0m23-1h0m0 5h0m6-4h0m3-3h0m216 3h0m11-7h0m29-2h0m11 5h0m8 9h0m63-14h0m37 2h0m19 2h0m35 5h0m16-8h0m10 0h0m42 13h0m1-14h0m4 9h0m7-4h0m7-5h0m19 8h0m28 5h0m7 1h0m83-3h0m-39 6h0m-82 0h0m-37 4h0m-17 10h0m-27-2h0m-44-5h0m-22-7h0m-37 0h0m-4 1h0m-38 6h0m-16-1h0m-36 8h0m-5-15h0m-5 1h0m-30 1h0m-182 2h0m-47 8h0m-6-5h0m-3-6h0m-1 4h0m-8-5h0m-43 1h0m-2 0h0m-64 10h0m-20-10h0m-15 12h0m-11-4h0m-43 6h0m-29-9h0m-4 7h0m-8-3h0m-3-3h0m0 5h0m-5-3h0m-2 4h0m-11 2h0m-1-9h0m0 7h0m-4-11h0m-8 8h0m-10-9h0m-13 3h0m33 14h0m17 4h0m24-3h0m4-1h0m26 2h0m11 0h0m1-1h0m36 8h0m1 3h0m86-9h0m77 0h0m267-2h0m5 9h0m7-3h0m1-5h0m28 4h0m21 3h0m11 1h0m67-10h0m37 6h0m-146 12h0m-311 3h0m-126-1h0m-5 1h0m-74-7h0m5 28h0m128-10h0m581 12h0m-670 2h0m-109 13h0m74 12h0m-97 13h0m952 127h0m-14 5h0m-99-4h0m-57 6h0m-136 13h0m8-4h0m66 9h0m30-3h0m77-7h0m13-1h0m4 9h0m5 2h0m3-5h0m41 0h0m12-6h0m3 10h0m88 11h0m-17-7h0m-100 13h0m-35-6h0m-85-2h0m-46 0h0m-17 5h0m-2-5h0m-51 17h0m6-1h0m18 8h0m19-3h0m19-2h0m15-5h0m133 6h0m30-8h0m6 1h0m16 7h0m53-1h0m11 0h0m10 1h0m19-4h0m8 24h0m-29 1h0m-5-4h0m-40-3h0m-17-8h0m-7 5h0m-9 8h0m-12-1h0m-16-8h0m-26 5h0m-18-8h0m-27 7h0m-24-6h0m-237 16h0m9 10h0m44-9h0m43 9h0m29 3h0m21-1h0m9-8h0m5 1h0m46-5h0m31 0h0m10-1h0m4 9h0m1 2h0m3 0h0m25-10h0m11 5h0m10-3h0m9 6h0m3 1h0m1 0h0m18 2h0m24-4h0m18-6h0m3 5h0m27 3h0m12 3h0m3-10h0m0 4h0m12 4h0m8-4h0m7 3h0m13-4h0m2 4h0m5 13h0m-13 7h0m-9-11h0m-3 7h0m-25-1h0m-6-9h0m-13 8h0m-27 3h0m-12-9h0m-35 11h0m-2-4h0m-7-8h0m-4 0h0m-8-2h0m-2 0h0m-1 9h0m-3 5h0m-1-5h0m-6-7h0m-32 8h0m-1 2h0m-2 3h0m-18-13h0m-8 10h0m-21-1h0m-12 2h0m-4-10h0m0 12h0m-11-9h0m0 5h0m-12 0h0m-7-10h0m-1 14h0m-18-13h0m-24 13h0m-8-11h0m-8 2h0m-2-2h0m-16 0h0m-1-1h0m-6-1h0m-14 6h0m0 4h0m-417 3h0m-1-1h0m-19-12h0m171 25h0m222-11h0m18 12h0m62 3h0m16-4h0m11-5h0m0 3h0m2-8h0m7 6h0m6-3h0m25 6h0m6 0h0m5-1h0m7 5h0m17-1h0m18-5h0m29-8h0m29 1h0m11 12h0m32-10h0m6 0h0m0 5h0m10-4h0m8-4h0m14 6h0m23-4h0m24 9h0m19-10h0m-43 26h0m-24 0h0m-23-8h0m-19 0h0m-81-2h0m-10 7h0m-77 6h0m-34-13h0m-31 13h0m-279 1h0m-25-1h0m-6 0h0m-20 1h0m-70-5h0m-128 18h0m80-3h0m37 0h0m13 2h0m13-1h0m5-6h0m0 6h0m10-1h0m3-5h0m2-3h0m7 9h0m7 0h0m18-10h0m5 4h0m5-2h0m3 1h0m1 6h0m0 6h0m11-2h0m8-3h0m4-7h0m1 8h0m11-11h0m14 3h0m224 0h0m0 5h0m1-8h0m125 2h0m25 5h0m12 3h0m17-2h0m6 6h0m10 1h0m102-10h0m24-5h0m18 7h0m66 17h0m-257 6h0m-9-6h0m-100-3h0m-40 10h0m-2-8h0m-3-2h0m-267-5h0m-37 0h0m-29 1h0m-3 2h0m-1 1h0m-8 3h0m-23-4h0m-2 3h0m-24-2h0m0 11h0m-8-9h0m-1-3h0m-2 4h0m-52 8h0m57 5h0m384 7h0m29-1h0m37 4h0m142 0h0m25 7h0m-597 9h0m-34-11h0m-7 7h0m-1-1h0m-1-6h0m0 10h0m-6-5h0m-7 0h0m-4 2h0m-5 2h0m-57 16h0m24-3h0m2 4h0m8-10h0m12 12h0m3-14h0m7-1h0m18 11h0m13-6h0m2 8h0m16-8h0m18-2h0m710 12h0m-727 8h0m-8 2h0m-4 6h0m-14-7h0m-10-4h0m-1 11h0m-11-4h0m-11 2h0m-6 2h0m-13-5h0m-22-7h0m-11-3h0m-8 11h0m-3-3h0m-9 0h0m-5-2h0m0 8h0m-8 14h0m23-3h0m2 2h0m10-7h0m1 9h0m1-13h0m11 14h0m4-1h0m5-2h0m2-10h0m15 6h0m8-3h0m52 3h0m9-7h0m515 6h0m-153 17h0m-376-5h0m-29 6h0m0 2h0m-8 2h0m-17-3h0m-9-7h0m-1 5h0m-11 3h0m-18 0h0m-9-8h0m-20-1h0m-1 8h0m-2-2h0m-17-2h0m-1-3h0m-6 8h0m-10-2h0m13 16h0m23 7h0m5-3h0m8-11h0m9 12h0m2-8h0m2 5h0m5-6h0m20-2h0m13 5h0m11-2h0m0-1h0m8-4h0m5 4h0m6-3h0m13 6h0m11 1h0m5-2h0m-1 12h0m-24 0h0m-5 2h0m-16-1h0m-7 3h0m-41-3h0m-6-2h0m-18 3h0m-2-4h0m-6 2h0m-3 2h0m-41-2h0m-1-2h0"/>
<path stroke="#ff0000" d="M998 30h0m-12-12h0m0 9h0m-5-4h0m-8-5h0m-7 7h0m-6-8h0m-9 14h0m-7 0h0m-2-14h0m-3 6h0m-16 5h0m-8-5h0m-13-3h0m-1 11h0m-5-2h0m-21 1h0m-11 1h0m-39-3h0m-539 0h0m-3-9h0m-46 7h0m-33-5h0m-6-2h0m-1 8h0m-4-3h0m-7 6h0m-7-7h0m-7 7h0m17 2h0m14 5h0m2-5h0m0 6h0m7 9h0m21-1h0m43 1h0m2-11h0m2 6h0m4-5h0m541 7h0m1-8h0m24 5h0m2 1h0m22 0h0m32 1h0m17 3h0m4-6h0m3 0h0m8-1h0m12-6h0m6 14h0m5-8h0m8-6h0m7 9h0m6 2h0m1-6h0m11 9h0m8-8h0m-13 17h0m-2 0h0m-7 6h0m-19-6h0m-2 5h0m-32-3h0m-7 3h0m-13-3h0m-3 2h0m-17-11h0m-24 1h0m-12 6h0m-25 3h0m-3-6h0m-16 1h0m-8 1h0m-517-6h0m-49 7h0m-7 4h0m-7-5h0m-12-2h0m-6 1h0m-17 8h0m-11-3h0m21 10h0m2-5h0m8 8h0m1-8h0m1 9h0m26-5h0m5 4h0m541 3h0m27 3h0m1-1h0m7-12h0m1 5h0m9 1h0m1 8h0m9-8h0m45-5h0m22 7h0m3 1h0m9-10h0m19 2h0m4 0h0m0 3h0m8 9h0m1-2h0m10 3h0m6-13h0m2 1h0m0 12h0m7-3h0m3 2h0m1-14h0m2 14h0m5-12h0m-8 28h0m-9-7h0m-8 1h0m-3-6h0m-1-2h0m-1 7h0m-8-1h0m-13-2h0m-2-2h0m-7 9h0m-22 0h0m-11 3h0m-19-4h0m-14-9h0m-7 5h0m-2-1h0m-39 8h0m-6-10h0m-526 4h0m-2-7h0m0 10h0m-7-4h0m-29 1h0m-1-3h0m-1 8h0m-6 0h0m-3-7h0m-10 3h0m-10 7h0m-25 4h0m0 11h0m8-13h0m8 4h0m2 9h0m23-7h0m48-2h0m544-4h0m13 7h0m39 4h0m13 0h0m2-8h0m36 10h0m15-7h0m28-7h0m0 15h0m5-1h0m2-11h0m-17 18h0m-2 1h0m-1-5h0m-4 2h0m-7 7h0m-1 5h0m-20-4h0m-3-10h0m-30 3h0m-28 11h0m-30-15h0m-591 10h0m-22-3h0m-13-5h0m-7 0h0m-5 4h0m-5 9h0m-3-4h0m-3 11h0m8-4h0m9 4h0m3-4h0m6 12h0m6-6h0m2-3h0m7 6h0m4-4h0m37-6h0m3 13h0m574-9h0m7 9h0m9-3h0m3-1h0m5-9h0m7 9h0m0 0h0m5-9h0m16 7h0m358 20h0m-37 3h0m-246-3h0m-12 2h0m-24-3h0m-30-1h0m-3-2h0m-1-1h0m-36 7h0m-3-10h0m-40 11h0m-23-3h0m-208 3h0m-59 0h0m-304-8h0m-13 8h0m-2-10h0m-5 1h0m-4 1h0m-9 3h0m-7-6h0m-2-4h0m-1 4h0m8 12h0m7 11h0m1 2h0m1 2h0m9-5h0m18-5h0m33-1h0m1-3h0m5 1h0m137 10h0m11-2h0m8 0h0m15-6h0m1 4h0m1-1h0m8 3h0m2-7h0m13 0h0m4 7h0m13-7h0m7-2h0m2-1h0m7 5h0m0 0h0m5-5h0m5 5h0m8-5h0m14 2h0m10-1h0m9 0h0m20 3h0m22-1h0m247 1h0m28 1h0m7-4h0m11 0h0m28 2h0m8 8h0m18 1h0m16-6h0m19 3h0m140 4h0m8-1h0m1-4h0m12-4h0m4 5h0m1-4h0m1 2h0m5-2h0m2 3h0m13 7h0m8-2h0m13-3h0m4-8h0m4 4h0m1 6h0m8-1h0m4-4h0m7-5h0m14 10h0m2-11h0m0 8h0m3-7h0m0 10h0m1 0h0m5-6h0m11 1h0m12-5h0m-75 17h0m-8-1h0m-7-1h0m-5 7h0m-8-3h0m-17 8h0m-3-2h0m0 2h0m-4-11h0m-6 9h0m-12-2h0m-15-7h0m-4 2h0m-7 7h0m-1-7h0m0 5h0m-26-3h0m-4 2h0m-88-8h0m-4 11h0m-3 0h0m-2 1h0m-2 1h0m-1-1h0m-9 2h0m-2-13h0m-14 12h0m-7-8h0m-6-5h0m-4 3h0m-35 1h0m-1 5h0m-29-1h0m-3-3h0m-11-1h0m-20-3h0m-4 11h0m-395-8h0m-11 1h0m-19-2h0m-1 2h0m-10 0h0m-4 1h0m-104 0h0m-3 8h0m-22-10h0m-5-3h0m-1 8h0m-13 0h0m-11 5h0m-10-10h0m-16 1h0m5 14h0m1 3h0m2-6h0m5 1h0m5 12h0m2-4h0m6-9h0m15 7h0m7 8h0m5-9h0m4-4h0m17 8h0m93-4h0m1-2h0m10 2h0m504 4h0m20-1h0m2-2h0m1 1h0m18 0h0m18 1h0m43-9h0m69 10h0m8-3h0m1 5h0m6 1h0m4-10h0m15-3h0m4 10h0m5-8h0m22 5h0m0 8h0m9-14h0m12-1h0m-9 17h0m-7 5h0m-3 0h0m-4-4h0m-12 12h0m-10-7h0m-1 8h0m-11-13h0m-1 11h0m-9-5h0m-11 4h0m-25 2h0m-10-12h0m-7 11h0m-2 1h0m-1-8h0m-5 3h0m-43 3h0m-5-5h0m-19 6h0m-28-4h0m-4-9h0m0 6h0m-22 3h0m-6 5h0m-20 1h0m-9-6h0m-1-4h0m-2 7h0m-8-12h0m-491 9h0m-5 5h0m-70-5h0m-25-6h0m-5 7h0m-15-10h0m-12 5h0m-3-5h0m-2 3h0m-8 2h0m4 23h0m3-4h0m6 5h0m9-6h0m12-1h0m6 4h0m23-6h0m0 11h0m5-5h0m589-6h0m26 3h0m4 2h0m5-4h0m24 3h0m27 4h0m1-5h0m7 2h0m46-3h0m13 8h0m10-6h0m5-7h0m7 2h0m3 11h0m1-3h0m8-3h0m1-7h0m4 9h0m3-10h0m3 10h0m3 5h0m1-15h0m15 5h0m8 0h0m4 5h0m2-2h0m3 3h0m8-1h0m-11 6h0m-12 6h0m-5 3h0m-3-9h0m-7 3h0m-4 9h0m-1 3h0m-1-9h0m-1 4h0m-1-1h0m-2-8h0m-28 6h0m-1 3h0m-7-2h0m-6 3h0m-7-7h0m-3 4h0m-3 4h0m-9-2h0m-19 4h0m-3-11h0m-7 10h0m-46-5h0m-47-3h0m-9 9h0m-3-11h0m-3 6h0m-4-1h0m-15-7h0m-508 13h0m-7 0h0m-52-1h0m-5-11h0m-11 11h0m-55-9h0m-2 18h0m12-3h0m1 4h0m5 7h0m2-3h0m4-11h0m1 11h0m16-8h0m0 4h0m14-7h0m1 1h0m14 12h0m48-1h0m2-3h0m8 3h0m1-2h0m3-8h0m539 1h0m1-3h0m0 15h0m10-15h0m11 15h0m12-6h0m4-7h0m14 13h0m1-13h0m17 6h0m21 7h0m30-7h0m8 6h0m9-6h0m3 6h0m3-14h0m2 1h0m3 0h0m2 6h0m2 2h0m1 5h0m7-11h0m7-1h0m6 9h0m4-4h0m6 0h0m4 2h0m0 1h0m13-6h0m11 0h0m-18 12h0m-10 3h0m-2 3h0m-3-4h0m-4 9h0m-25-11h0m-1 2h0m-5 11h0m-5-7h0m-5 0h0m-5 9h0m-9-15h0m-7 3h0m0 4h0m-7 1h0m-8-1h0m-4-1h0m-1 6h0m-26 3h0m-4-6h0m-608-6h0m-4 11h0m-1-11h0m-3 0h0m-1 3h0m-1-2h0m-75-1h0m-6 9h0m-8 0h0m-21-12h0m-1 14h0m-6-14h0m702 53h0m33-4h0m9 6h0m86-1h0m143 11h0m-15 8h0m-9 0h0m-133-7h0m-45 12h0m-11-13h0m-8 14h0m-12-12h0m-82 7h0m-2-8h0m-641 28h0m28-3h0m576-8h0m3 1h0m20 5h0m35 3h0m20-1h0m6 4h0m1-6h0m27 4h0m24 1h0m10-8h0m15-4h0m14 10h0m23-9h0m92 2h0m10 0h0m2-3h0m92 7h0m16 6h0m55 6h0m-12-1h0m-13-4h0m-21 15h0m-10-3h0m-2 1h0m-18-4h0m-13-3h0m-2 5h0m-3-8h0m-82 5h0m-12-5h0m-3 7h0m-27 2h0m-7-4h0m-8-2h0m-30-4h0m-2 4h0m-18-4h0m-10 6h0m-25 2h0m-9 2h0m-3-11h0m-11 3h0m-4 11h0m-6-13h0m0 7h0m-12 6h0m-17-4h0m-7 3h0m-16 0h0m-33-14h0m-5 10h0m-34-3h0m-176 0h0m-25 2h0m-40 2h0m-12 0h0m-60-5h0m-59-4h0m-78-2h0m-2 6h0m-6 1h0m-97 3h0m-5 4h0m-2-7h0m-1 1h0m-8-3h0m-8 4h0m0 3h0m-4-5h0m-2-4h0m-3 0h0m-4 7h0m-2-7h0m-11 5h0m-3 11h0m19 4h0m2 1h0m6 4h0m1-1h0m4-2h0m8-3h0m2-5h0m7 7h0m4-1h0m6 5h0m25 0h0m25-9h0m35-2h0m35 11h0m12-3h0m23 6h0m13-8h0m8 5h0m36-1h0m4 4h0m13-10h0m1 6h0m23 4h0m4 0h0m2-13h0m2 2h0m8-4h0m62 2h0m24 4h0m2 4h0m7-9h0m185 2h0m9-3h0m12 3h0m9 9h0m10 1h0m6 0h0m37-5h0m1 3h0m26-3h0m16 7h0m3-5h0m4-8h0m5 12h0m15-7h0m0 8h0m4-15h0m6 6h0m12 8h0m16 1h0m16-2h0m5-10h0m8 11h0m41-12h0m5 11h0m10-2h0m4-4h0m12-7h0m0 4h0m10-4h0m0 5h0m1 6h0m5 3h0m18-6h0m7-5h0m2 3h0m30 8h0m9-3h0m1-7h0m14-3h0m47 2h0m6 12h0m3-13h0m4 0h0m15 8h0m10-8h0m-65 14h0m-6 0h0m-47 4h0m-39-4h0m-4 1h0m-13 3h0m-26-2h0m-5 13h0m-5-9h0m-9-6h0m-1 12h0m-14-9h0m-10 8h0m-13-3h0m-8 7h0m-2-6h0m-6-7h0m-52 1h0m0 7h0m-7-6h0m-3 10h0m-19-1h0m-15-11h0m-1 13h0m-5-6h0m-2 4h0m-13-10h0m-5 4h0m-10 5h0m-2 1h0m-6-7h0m-11-4h0m-2 9h0m-25-10h0m-16-1h0m-207 5h0m-17 5h0m-1-5h0m-16 2h0m0 1h0m-12-3h0m-6 5h0m-7-3h0m-7 8h0m-19-5h0m-46 0h0m-9 3h0m-6-3h0m-13-8h0m-6 0h0m-6 2h0m-4 11h0m-3-12h0m0 6h0m-2 4h0m-6-11h0m0 4h0m-18-6h0m-29 2h0m-3 12h0m-2-4h0m-29-8h0m-1 13h0m-12-6h0m-11-3h0m-22 3h0m-37-6h0m-5 3h0m-5-1h0m-12 2h0m-6 6h0m-5-9h0m-21 9h0m-6-2h0m-3 8h0m5 7h0m5 3h0m4-12h0m0 14h0m5-14h0m4-1h0m5 10h0m5-8h0m4 10h0m9-8h0m2-1h0m3 9h0m2-5h0m1-3h0m4 4h0m2-4h0m0 4h0m2-4h0m1 9h0m3-2h0m1-4h0m23 8h0m5-3h0m2 2h0m1-8h0m47 7h0m1-11h0m16 10h0m14-3h0m3-4h0m3 2h0m2-2h0m0 9h0m10 0h0m9-8h0m12 6h0m8-11h0m19 9h0m2-5h0m3 6h0m9-3h0m6-1h0m5-1h0m1-4h0m2 10h0m6-4h0m0 3h0m2-7h0m1 6h0m11-7h0m8-3h0m1 5h0m3 5h0m2 4h0m7-2h0m7-9h0m4 5h0m3-4h0m18 5h0m7 2h0m2-8h0m1-3h0m5 7h0m9-7h0m3 0h0m4 1h0m2 2h0m0 5h0m4-3h0m11 1h0m6-2h0m213 3h0m27 4h0m2 1h0m1 2h0m14-6h0m4 5h0m15-3h0m18-9h0m15 11h0m3-3h0m1-7h0m17 13h0m28-6h0m2-7h0m12 7h0m6 5h0m18-1h0m49 0h0m1-3h0m4-3h0m13-3h0m8-4h0m8 1h0m-17 22h0m-75 3h0m-5-10h0m-12 7h0m-44 5h0m-4-10h0m-6 1h0m-17-2h0m-7 1h0m-10-1h0m-3 6h0m-373-6h0m-17 0h0m-15 3h0m-5 2h0m-19 1h0m-14 2h0m-10-7h0m-6 8h0m-6-2h0m-15 4h0m-27-4h0m-6 3h0m-8-8h0m-20 5h0m-9-1h0m0 3h0m-7 2h0m-15 2h0m-9-1h0m-9-8h0m-2 4h0m-21 1h0m-23-4h0m-14-6h0m-7 14h0m-10-2h0m-7 0h0m-1-8h0m11 12h0m7 0h0m11 1h0m3 8h0m78 5h0m76-1h0m9-7h0m20-6h0m66 6h0m18-5h0m75 10h0m44-6h0m252 7h0m9-10h0m18 3h0m34 10h0m43-5h0m6-10h0m-84 28h0m-309-2h0m-56-4h0m-31 0h0m-75 5h0m-10-11h0m-36 8h0m-46 2h0m-42 2h0m-30-9h0m-41 4h0m-6-7h0m-12 7h0m0 24h0m15-5h0m9-8h0m16 11h0m167-7h0m9 7h0m3-7h0m76-6h0m-227 22h0m192 20h0m598 133h0m10 0h0m3-13h0m14 10h0m4 2h0m9-4h0m0 2h0m2-4h0m2-5h0m7 10h0m5-4h0m12-5h0m25 9h0m16-4h0m119 22h0m-25-7h0m-15-4h0m-11-1h0m-12 0h0m-3 1h0m-20-2h0m-22 0h0m-3 0h0m-8 1h0m-1-1h0m-4 0h0m-10 6h0m-2 1h0m-2 0h0m-3-9h0m-1 4h0m-22-1h0m0 3h0m-9 2h0m-2 1h0m-2-3h0m-18 1h0m-1-1h0m-8-1h0m-7 10h0m-3-13h0m-12 4h0m-33 0h0m-12 3h0m-185 16h0m0 6h0m10-10h0m4 9h0m4-7h0m0 5h0m1 3h0m9-5h0m14-6h0m6 7h0m9-7h0m12 7h0m43-7h0m18 2h0m7-5h0m5 12h0m19-5h0m9 4h0m3-11h0m4 5h0m8 3h0m3-1h0m7 3h0m39-4h0m4-7h0m1 9h0m2 1h0m6 5h0m19-10h0m9 8h0m10-2h0m32 0h0m4-4h0m9 5h0m3 3h0m7-11h0m31 6h0m15-1h0m68 21h0m-7-2h0m-7-1h0m-16-3h0m-7-7h0m-17 0h0m-6 1h0m-5 1h0m-18 5h0m-4-3h0m-18-2h0m0 8h0m-5-6h0m-14-4h0m0 11h0m-12-4h0m-8-5h0m-6 6h0m-6-7h0m-9 5h0m-3 8h0m-50-5h0m-13-1h0m0 2h0m-32 0h0m-30 4h0m-28-14h0m-12 14h0m-15 0h0m-22-13h0m-31 8h0m-22-1h0m-3-7h0m-25 7h0m-21 2h0m-1-8h0m-7 8h0m-2-9h0m6 25h0m24-5h0m1 9h0m1-11h0m16 2h0m2 5h0m28-10h0m2 14h0m27-7h0m0 2h0m65-10h0m1 11h0m19-10h0m1 14h0m2-7h0m14 3h0m10-3h0m26 3h0m12-7h0m18 3h0m6-7h0m18 12h0m16 3h0m2-6h0m16-1h0m4 1h0m4-7h0m3 2h0m26-1h0m4 12h0m39-2h0m5-13h0m9 0h0m12 6h0m22-6h0m-28 25h0m-10-6h0m-53-3h0m-1 3h0m-1-3h0m-5 2h0m-1 12h0m-11 0h0m-42-6h0m-22-7h0m-13 14h0m-17 0h0m-15-4h0m-32-3h0m-21 4h0m-28-1h0m-6-5h0m-86 5h0m-5-5h0m-9-2h0m-6 0h0m268 14h0m-206 42h0m-346 14h0m-15-1h0m-21 1h0m-1 5h0m-26-5h0m-11 1h0m0 3h0m-1-1h0m-4 0h0m-245 17h0m162-2h0m2 0h0m2 1h0m5 2h0m12-8h0m6-4h0m13-3h0m0 9h0m6-8h0m22 2h0m33-2h0m-87 15h0m-32 11h0m-2-4h0m-2-4h0m-3 1h0m-1-1h0m-7 0h0m-2 1h0m-1 10h0m-2-4h0m-2 5h0m-2-7h0m-2-1h0m-9 4h0m-1 2h0m-20 0h0m-41 1h0m-8-13h0m-5 0h0m0 8h0m-3-7h0m-3 7h0m-1-8h0m-8 9h0m-14-1h0m-8-7h0m-5 6h0m-14-7h0m0 26h0m6-10h0m3 2h0m2 6h0m2 3h0m6 0h0m13-12h0m3 15h0m1-7h0m2 0h0m11 7h0m3-14h0m9 13h0m30-6h0m5-1h0m5 0h0m9 4h0m11-3h0m4-2h0m10-6h0m-80 18h0m-3 0h0m-20-1h0m-1 3h0m-2 4h0m-7-7h0m-1 6h0m-13-6h0m-14 5h0m-5 6h0m-1 5h0m1 9h0m4-3h0m7-3h0m4-2h0m19 12h0m8-7h0m1 8h0m-9 2h0m0 9h0m-11-6h0m-4 0h0m-5 7h0m-4 1h0m-5-2h0m-3-3h0m-9 14h0m24 6h0m5-10h0m5 9h0m1-7h0m3 7h0m2-5h0m-17 11h0m-8 5h0m-5 0h0"/>
<path stroke="#48c000" d="M1230 19h0m-9-1h0m-17 12h0m-14 1h0m-13-7h0m-51-6h0m-8 5h0m-13 8h0m-14-9h0m-10-5h0m-11 1h0m0 5h0m-71-5h0m-27 7h0m-52-3h0m-7 3h0m-38-4h0m-22 10h0m-435-5h0m-26-4h0m-54 9h0m-20-12h0m-29 3h0m-3 0h0m-14 8h0m-24 3h0m18 7h0m22-1h0m12 4h0m5-5h0m4 8h0m8-7h0m1-2h0m5-3h0m20-1h0m45 5h0m25-3h0m428 0h0m10 8h0m17-11h0m14 1h0m45 4h0m70 1h0m46 3h0m15-5h0m12-3h0m47 5h0m97-2h0m1-4h0m27 7h0m2-6h0m8 14h0m-33 6h0m-65 3h0m-98-3h0m-4-5h0m-36 3h0m-10 6h0m-15 3h0m-18-6h0m-17 2h0m-669-1h0m-9 0h0m-21-5h0m-16 10h0m-17 15h0m47-1h0m37 0h0m32 5h0m17-7h0m0 1h0m23 5h0m14-6h0m431 1h0m12-8h0m31 8h0m18-1h0m11 1h0m12 0h0m79-3h0m11-2h0m20 11h0m1-4h0m25-2h0m68-9h0m12 4h0m36-1h0m0 11h0m44-6h0m3 4h0m34-6h0m3 10h0m-44 14h0m-7-12h0m-58 12h0m-33-11h0m-3 4h0m-34-2h0m-51 8h0m-53 1h0m-566-14h0m-58 8h0m-18-2h0m-67 21h0m28-8h0m44 2h0m27-3h0m7 0h0m473 10h0m97-11h0m56 13h0m12-4h0m29-7h0m0 3h0m12-5h0m47 4h0m17 3h0m29-3h0m3-2h0m1 2h0m52 7h0m10-3h0m4-3h0m14 5h0m9-7h0m11-1h0m17 5h0m-37 11h0m-23 12h0m-58 0h0m-12-1h0m-41-11h0m-40 7h0m-17-10h0m-33 4h0m-9 9h0m-14-3h0m-28-5h0m-7 0h0m-42 1h0m-23 0h0m-5-3h0m-77 10h0m-426-4h0m-16 4h0m-3-2h0m-10-2h0m-45-7h0m-12 7h0m56 22h0m25-14h0m63 4h0m458 8h0m17-6h0m24 0h0m20 6h0m44-1h0m5-8h0m54 9h0m20-3h0m16-5h0m15-3h0m2 0h0m114 4h0m10 9h0m2 2h0m-17 0h0m-12-1h0m-21 1h0m-26 10h0m-42 4h0m-3-10h0m-14 0h0m-5 8h0m-17-4h0m-4-8h0m-68 8h0m-10-9h0m-4 6h0m-88-5h0m-13 7h0m-1-1h0m-4 6h0m-32-7h0m-23 5h0m-399-10h0m-90 5h0m-26-1h0m-71 2h0m47 21h0m44-11h0m15 3h0m2-4h0m46 7h0m551-7h0m17 4h0m11 3h0m30-7h0m43 2h0m4 3h0m3 0h0m41 8h0m29-10h0m40 0h0m16-3h0m42 3h0m14 8h0m27-6h0m-29 23h0m-52 0h0m-23-10h0m-34 4h0m-2 7h0m-19 2h0m-12-12h0m-8 10h0m-7-1h0m-26-11h0m-9 3h0m-28 2h0m-6-5h0m-8 8h0m-60 6h0m-10-9h0m-57 0h0m-20 3h0m-462 2h0m-109 0h0m-8 12h0m0 2h0m52 1h0m514-5h0m5 6h0m11-9h0m31 1h0m62 8h0m39 2h0m15-8h0m54-2h0m9 9h0m9-1h0m10 4h0m27-6h0m24-5h0m118 10h0m8 2h0m-76 3h0m-47 9h0m-3-2h0m-16 1h0m-35 0h0m-46-11h0m-50 11h0m-3-9h0m-26-2h0m-53 8h0m-8 6h0m-30-10h0m-3-3h0m-526 6h0m-21 2h0m0 3h0m-53-1h0m-20-1h0m-8 3h0m99 4h0m18 12h0m8-8h0m62-4h0m410 7h0m19-6h0m14 7h0m36 0h0m8-9h0m4 12h0m60 3h0m22 0h0m15-14h0m11 10h0m86 0h0m43-9h0m13 2h0m9 0h0m2 4h0m79 18h0m-11-4h0m-34 1h0m-26-4h0m-35 11h0m-9-10h0m-4 5h0m-5-2h0m-29 0h0m-3 4h0m-70-1h0m-84-8h0m-24-1h0m-4-1h0m-29 15h0m-7-13h0m-67 4h0m-408 9h0m-1 0h0m-28-3h0m-10 0h0m-4-3h0m-5 2h0m-6-10h0m-26 8h0m-34 1h0m-44 9h0m41 3h0m14 8h0m10 0h0m15-2h0m17-12h0m1 5h0m0 4h0m1 5h0m4-8h0m1 6h0m2 3h0m8-8h0m2 7h0m7-13h0m11 9h0m1 4h0m3-11h0m2 8h0m3-6h0m7 2h0m9 0h0m15-6h0m0 7h0m3-2h0m11 7h0m9-11h0m7 8h0m2-7h0m11 9h0m22-6h0m5 9h0m14-2h0m8-3h0m7 2h0m17-1h0m6 2h0m50 2h0m246-9h0m71-1h0m10 2h0m40 6h0m3 1h0m29-14h0m70 2h0m52 1h0m107 4h0m7 4h0m17 16h0m-8-1h0m-119 0h0m-8-1h0m-15-1h0m-8-8h0m-10 2h0m-6 1h0m-11 8h0m-9 4h0m-82-2h0m-4-10h0m-26 0h0m-4-3h0m-4 4h0m-7 8h0m-10 0h0m-16-7h0m-71 2h0m-224-6h0m-23-1h0m-14 0h0m-33 1h0m-14 1h0m-22 0h0m-19 5h0m-4-1h0m-3 0h0m-13-3h0m-6-2h0m-30-1h0m-5 3h0m-11-1h0m-8 10h0m-12-1h0m-8-6h0m-1 5h0m-10-2h0m-15 2h0m-5-5h0m-2 2h0m-3 2h0m-108-1h0m64 9h0m468 41h0m101 2h0m3-2h0m23-1h0m33 6h0m15-5h0m11-1h0m9 3h0m4-3h0m13 1h0m13-6h0m6 6h0m34 4h0m16-5h0m30-2h0m191 2h0m-17 21h0m-1 1h0m-27-3h0m-5 1h0m-16 1h0m-2-2h0m-7 0h0m-24 2h0m-28 1h0m-3-5h0m-14 0h0m-11 0h0m0 3h0m-7-3h0m-1 0h0m-4 0h0m-13-5h0m-39 1h0m-2-1h0m-5 8h0m-4-12h0m-12 2h0m-13-1h0m-4-2h0m-22 0h0m-3 15h0m-38-2h0m-12-3h0m-10-10h0m-19 14h0m-1-11h0m-9 6h0m-5-1h0m-11-6h0m0 6h0m-6 4h0m-14-3h0m-4 1h0m-4 3h0m-2-10h0m-2 10h0m-13-8h0m-3 3h0m-388 2h0m-41-1h0m-10-2h0m-65 24h0m5 0h0m20-3h0m20 3h0m21-1h0m23-5h0m2-8h0m36 0h0m350 9h0m11-4h0m0 3h0m3 4h0m1-5h0m7 4h0m10-1h0m15-5h0m9-3h0m17 1h0m15 4h0m9 0h0m4 0h0m17 1h0m4 2h0m4-6h0m3 3h0m4 0h0m1-5h0m11 0h0m4 2h0m2 9h0m1-14h0m43 5h0m7 0h0m8 0h0m26 9h0m1-8h0m6-2h0m1-3h0m20 2h0m1 4h0m12-4h0m6 10h0m5-2h0m14 0h0m19-7h0m27 4h0m11 2h0m19 5h0m30-15h0m15 3h0m11 8h0m19-10h0m2-1h0m3 8h0m2-1h0m1-4h0m-13 19h0m-11 7h0m-55 0h0m-21-9h0m-23 4h0m-7-4h0m-8 6h0m-10 1h0m-2-4h0m0 6h0m-8-12h0m-34 3h0m-17 2h0m-4-6h0m-22 2h0m-17 1h0m-4 2h0m-8 7h0m-10 0h0m-1-7h0m-6-2h0m-22 7h0m-1-3h0m-5 6h0m-2-3h0m-18-9h0m-17 11h0m-12-7h0m-11 10h0m-1-15h0m-11 2h0m-23-2h0m-1 13h0m-12-2h0m-8-2h0m-11 6h0m-10-13h0m-3 6h0m-17 2h0m-4 1h0m-1-11h0m-2 2h0m-9 13h0m-169-3h0m-20 0h0m-19-3h0m-10 2h0m-1-3h0m-18 0h0m-15 6h0m-5-5h0m-4-2h0m-12-2h0m-2 5h0m-5-4h0m-2 9h0m-10-8h0m-8 3h0m-8 3h0m-2 2h0m-3-3h0m-4-4h0m-6-6h0m-4 3h0m-5-3h0m-3-1h0m-14 9h0m-5 3h0m-6-10h0m-14 2h0m0 6h0m-4-7h0m-7 1h0m-1 8h0m-2-10h0m0 6h0m-8 2h0m-2-7h0m-9 10h0m-2-6h0m-1-7h0m-1 2h0m-7 9h0m0 3h0m-12-2h0m-1-2h0m-3-2h0m-8-2h0m-1 2h0m-6-5h0m-13 5h0m-4-9h0m-3 10h0m-1-1h0m-1-7h0m-1 4h0m-18 5h0m-4-6h0m-5 3h0m-6-2h0m-21-5h0m-3 8h0m0 6h0m-12 5h0m7 9h0m3-9h0m18 11h0m7-10h0m3 9h0m3-14h0m10 8h0m7-7h0m1 4h0m6 3h0m5-7h0m4 12h0m4-8h0m3 7h0m18-5h0m13-6h0m10 12h0m3-11h0m32 2h0m0 2h0m4-4h0m2 10h0m10-7h0m4 9h0m2-8h0m10 0h0m29-1h0m9 4h0m1-9h0m21 9h0m8 5h0m2 0h0m3 0h0m2-5h0m11 3h0m2-9h0m2 6h0m19 6h0m10-5h0m7-9h0m4 12h0m8-10h0m28 0h0m9 3h0m200 1h0m19-6h0m47 11h0m8-12h0m14 9h0m31-4h0m2 7h0m32 2h0m34-4h0m0 2h0m1-12h0m27 3h0m35 8h0m9-11h0m62 5h0m5 0h0m24 9h0m7-12h0m0 6h0m32-4h0m6 3h0m20-5h0m1 0h0m18-2h0m8 12h0m-194 7h0m-33 12h0m-31-7h0m-70-7h0m-3 9h0m-1-2h0m-1 2h0m-7 0h0m-12-1h0m-21-1h0m-9-5h0m-14 7h0m-259-8h0m-11 8h0m-6 3h0m-33-2h0m-11 2h0m-26 0h0m-13-11h0m-15-2h0m-2 4h0m-3-4h0m-3 10h0m-1-7h0m-1 6h0m-2 6h0m-12-8h0m-44 8h0m-13-12h0m-11 4h0m-5 2h0m-13-3h0m-8 5h0m-27-9h0m-12-2h0m-9 13h0m-12-7h0m-3-3h0m-5-2h0m-11 3h0m-5 3h0m-13-1h0m-12 7h0m-6-10h0m-1 6h0m17 11h0m9 2h0m20-3h0m4 9h0m2-8h0m30 5h0m10-8h0m9 6h0m4 0h0m6-7h0m20 3h0m4 6h0m6-6h0m1 5h0m33-8h0m30 5h0m59 1h0m320 8h0m36 0h0m119-10h0m92 3h0m24 2h0m26 11h0m-52 6h0m-129 3h0m-118-9h0m-416-1h0m-25 6h0m-23-7h0m-53 3h0m-50 8h0m-53 8h0m219-2h0m62 12h0m76-7h0m-230 20h0m35 12h0m-161 17h0m1038 128h0m-3 3h0m-24 1h0m-5-9h0m-39 9h0m-52 1h0m-67-6h0m-5 0h0m-79 7h0m-117 11h0m84 2h0m77 3h0m17-4h0m33-10h0m12 1h0m48 5h0m41 5h0m13 3h0m29-1h0m31-6h0m-26 10h0m-53-1h0m-2 4h0m-35 9h0m-2-11h0m-27 2h0m-9 9h0m-4-11h0m-15 8h0m-8-8h0m-23 5h0m-53-2h0m-5 1h0m-13-2h0m-60-4h0m-1 1h0m-29 13h0m-7-11h0m-11 1h0m52 24h0m8-1h0m53-5h0m24-5h0m2 2h0m16 6h0m8-6h0m18 11h0m36-2h0m6-10h0m3 5h0m25 7h0m25-2h0m22-10h0m42 12h0m7-14h0m19 3h0m8 6h0m11 3h0m1-8h0m10 13h0m-9-1h0m-1 13h0m-4-11h0m-6 1h0m-13 3h0m-24-6h0m-23 9h0m-3 1h0m-4 3h0m-38-2h0m-31-9h0m-1 12h0m-5-4h0m-6-9h0m-31 13h0m-22 0h0m-28-10h0m-34 3h0m-2 5h0m-8 0h0m-7-9h0m-7 0h0m-25 4h0m-3 0h0m-17-5h0m-15 9h0m-10-4h0m-24-5h0m-23 16h0m36 3h0m1 7h0m20-3h0m28-1h0m17-3h0m8-6h0m28 3h0m37-2h0m5 0h0m8 6h0m60 5h0m10-2h0m1-8h0m6 1h0m15-1h0m4 1h0m32 4h0m3-3h0m21 2h0m8 9h0m20-11h0m1 2h0m7 8h0m14-14h0m4 14h0m8 0h0m9-10h0m2 3h0m24-3h0m2 8h0m-9 5h0m-2-1h0m-2 6h0m-8-4h0m-1-2h0m-9 9h0m-20-4h0m-22 6h0m-6-1h0m-14 1h0m-2 4h0m-5-10h0m-6-1h0m-10 5h0m-6 5h0m-5-13h0m-24 12h0m-1-2h0m-42-11h0m-10 5h0m-14-5h0m-2 3h0m-3 5h0m-1-5h0m-12 11h0m-1 1h0m-3-1h0m-4 0h0m-24-14h0m-3 5h0m-19-2h0m-12 6h0m-8 1h0m-4 3h0m-14-11h0m0 11h0m-4-3h0m-3 3h0m-13-6h0m-6 5h0m-2-9h0m-16 11h0m-16-14h0m-25 1h0m-401 9h0m-12 20h0m1 0h0m4-1h0m1 1h0m3-9h0m158 1h0m198-5h0m2 13h0m11-4h0m48 5h0m6-8h0m3 2h0m5 6h0m4-7h0m26 7h0m6-11h0m67 7h0m7-11h0m5 3h0m24 1h0m8-1h0m31 11h0m9-9h0m6 9h0m23-13h0m78 12h0m1 0h0m52-9h0m31 1h0m-73 22h0m-8-3h0m-85-4h0m-24 1h0m-18-1h0m-29 8h0m-7-11h0m-10 1h0m-4 0h0m0 4h0m-18-5h0m-41 3h0m-4 5h0m-3 1h0m-88 1h0m-25-9h0m-243 9h0m-57 2h0m-15 2h0m-48-8h0m-9 1h0m-35 22h0m9-9h0m25 1h0m3 1h0m0 3h0m42 2h0m4-9h0m4 7h0m2 5h0m1-7h0m7 4h0m14-4h0m13-1h0m3-6h0m9 0h0m0 13h0m26-1h0m1-13h0m5 15h0m2 0h0m9-8h0m245 6h0m43-2h0m7-8h0m7-3h0m12 15h0m16-13h0m11 7h0m26 4h0m18-4h0m67-9h0m13 5h0m73 1h0m58 0h0m35 2h0m-125 21h0m-71-7h0m-50 1h0m-32 0h0m-333-7h0m-56 2h0m-16-1h0m-6 3h0m-4-1h0m-12-3h0m-18 4h0m-15 2h0m-8-1h0m-11-1h0m-4 5h0m-2-1h0m-4-7h0m-27 14h0m-5-5h0m-5-6h0m-36 10h0m-24 0h0m-2-1h0m56 15h0m3 2h0m15-1h0m13 0h0m391-2h0m15-4h0m6-7h0m27 4h0m38 6h0m108-7h0m11 5h0m108-6h0m76 10h0m-400 4h0m-358 10h0m-46 4h0m-12-13h0m-25 12h0m-7 2h0m-16 0h0m-29 12h0m15 4h0m4-2h0m6-11h0m1 1h0m5 8h0m16-3h0m5 3h0m8-2h0m6-9h0m1 15h0m5-7h0m7 1h0m4-5h0m5 11h0m1-1h0m10-12h0m10-2h0m2 13h0m4-3h0m515 3h0m66-1h0m-598 11h0m-6-3h0m-22 5h0m-3-6h0m-3 10h0m-2-4h0m-10-1h0m-6 4h0m-1-12h0m0 11h0m-16-8h0m-33-1h0m-1 10h0m-9 2h0m-9 1h0m-18-2h0m-15 17h0m11-14h0m16 14h0m9-3h0m1-7h0m18 1h0m4 1h0m16 7h0m1-7h0m3 4h0m8-9h0m23 5h0m5-1h0m22 3h0m6 3h0m7-6h0m368 0h0m7 7h0m169 18h0m-134-5h0m-453-5h0m-16-4h0m-2 4h0m-2-1h0m-7 9h0m-18-5h0m-2 8h0m-30-11h0m-21 4h0m-2-4h0m-34 12h0m8 3h0m21-2h0m12 1h0m8 8h0m2-4h0m1 2h0m13 1h0m1-6h0m6 6h0m11-4h0m1 3h0m3-1h0m7 4h0m3-8h0m4 6h0m23 3h0m9-10h0m26 4h0m375 4h0m-392 10h0m-32-4h0m-11 1h0m-21 1h0m-41-2h0m-25 2h0"/>
<path stroke="#ff0000" d="M1014 27h0m-4 1h0m-6-7h0m-11 5h0m-2 4h0m-2-2h0m-1-4h0m-11-5h0m-2 8h0m-1-7h0m-3 1h0m-12 6h0m-7-9h0m-5 11h0m-7-7h0m-13 1h0m-3 4h0m-1-7h0m-17 9h0m-2-6h0m-5-1h0m-21 0h0m-3 9h0m-17-9h0m-6 6h0m-26-3h0m-10 2h0m-533 0h0m-1-1h0m-4 4h0m-57-4h0m-26-4h0m-2 4h0m-21-7h0m28 13h0m3 8h0m1-1h0m33-5h0m38 7h0m565-1h0m25 3h0m2-2h0m15-1h0m5-1h0m7-1h0m3-6h0m13 10h0m4-10h0m4 15h0m8-10h0m6 9h0m14-6h0m13-3h0m1-2h0m12-2h0m6-1h0m1 8h0m13-7h0m14 4h0m-28 13h0m-2-1h0m-3 7h0m-2 6h0m-20 1h0m-2-11h0m-1 3h0m-2 6h0m-5-9h0m-3 3h0m-3 4h0m-4-10h0m0 12h0m-11-11h0m0 9h0m-68-9h0m-15 12h0m-4-2h0m-30-12h0m-522 2h0m-5 13h0m-3-15h0m-36 10h0m-27-2h0m-9-8h0m-3 5h0m-1-4h0m-2 0h0m-1 5h0m-1 13h0m1 6h0m1 3h0m23-11h0m3 9h0m13 4h0m1-14h0m1 7h0m33-7h0m1 2h0m6 2h0m525 5h0m33-3h0m20 8h0m1-8h0m6-1h0m11 10h0m20-3h0m18-2h0m2 3h0m4-9h0m23-4h0m0 15h0m4-8h0m6 6h0m5-7h0m18-1h0m-9 13h0m-10 2h0m-8-2h0m-23-2h0m-16 13h0m-17-9h0m-24 1h0m-6 3h0m-2-4h0m-2 1h0m-3 10h0m-16-5h0m-15-10h0m-3 7h0m-549-1h0m-3 7h0m-1-3h0m-37-9h0m-6-1h0m-1 1h0m-1 5h0m-20 9h0m-9-5h0m-8-2h0m-1-1h0m-4 0h0m-3-6h0m-1 20h0m3-2h0m9 9h0m11-2h0m4 5h0m2-4h0m32-6h0m0 8h0m26-1h0m3-2h0m2 5h0m508-15h0m45 5h0m42-5h0m37 14h0m9-3h0m17-10h0m0 13h0m18 1h0m6-13h0m12 3h0m7 26h0m-2-2h0m-5-8h0m-7-4h0m-36 1h0m-31 11h0m-12-10h0m-2 12h0m-37-3h0m-51 1h0m-518-8h0m-4 8h0m-26 1h0m-11-6h0m-9-5h0m-4 7h0m-58 18h0m19-8h0m16-1h0m2 0h0m11 11h0m31-11h0m1 7h0m25-6h0m1-4h0m3 1h0m566 12h0m21-13h0m13 13h0m5-6h0m16-1h0m33-6h0m2 14h0m3 0h0m2-1h0m28-12h0m299 29h0m-288-6h0m-8 1h0m-39-7h0m-26-1h0m-14-1h0m-18 7h0m-26-7h0m-250 15h0m-19 0h0m-9 0h0m-296-14h0m-1 6h0m-1-7h0m-1 11h0m-2-7h0m-31-2h0m-15 9h0m-2-1h0m-5-2h0m-4-1h0m-7-5h0m-15 25h0m3-8h0m27 2h0m3 8h0m20-10h0m2 11h0m2 1h0m1-2h0m17-1h0m1-4h0m5-5h0m126 11h0m11-1h0m1 1h0m9 0h0m0 1h0m4-4h0m9 3h0m6 1h0m1-8h0m1 1h0m1-2h0m2-1h0m0 8h0m0 1h0m4-4h0m5-4h0m2 2h0m0 3h0m9-6h0m0 6h0m3-1h0m3-5h0m6 4h0m8 0h0m4-4h0m0 4h0m9-5h0m11-2h0m6 0h0m5 2h0m4-2h0m5 2h0m1-3h0m0 3h0m14-2h0m4 2h0m15-4h0m4 0h0m2 3h0m14-1h0m1 0h0m3 0h0m1 1h0m14 0h0m188-1h0m41 1h0m26 9h0m16-1h0m4-11h0m13 11h0m10-10h0m39 13h0m12-14h0m9 12h0m13 0h0m150 2h0m6 0h0m2-6h0m8-2h0m9 1h0m13 3h0m0 3h0m8-3h0m10 4h0m2 1h0m12-7h0m17 4h0m9-6h0m2 6h0m3-1h0m7-8h0m8-3h0m15 2h0m5 5h0m1 0h0m-76 9h0m-7 7h0m-8-6h0m-11 5h0m-2 3h0m-2 3h0m-2-7h0m-31 3h0m-4-2h0m-9-6h0m-10 6h0m-1-1h0m-4 6h0m-5 2h0m-1-9h0m-114 11h0m-23-6h0m-10 0h0m-17 2h0m-21-4h0m-23 1h0m-6 5h0m-21-2h0m-27 1h0m-12-6h0m-377-6h0m-8 0h0m-9 5h0m-3 0h0m-5-5h0m-8 7h0m-4-4h0m-3 7h0m-6-4h0m0 3h0m0 2h0m-2 1h0m-4-3h0m0 3h0m-4-6h0m0 3h0m0 5h0m-1 1h0m-3-3h0m-104-4h0m-1 6h0m-3-12h0m0 2h0m-29 9h0m-3-3h0m-4-1h0m-6-7h0m-22 12h0m-13 8h0m17 1h0m1 0h0m9 0h0m22 6h0m1-11h0m1 4h0m3 4h0m18 5h0m4-2h0m3-9h0m84 6h0m6-2h0m0 5h0m3-3h0m5-2h0m3-8h0m5 2h0m470 3h0m16 10h0m3-4h0m29-1h0m34 5h0m39-5h0m2-9h0m61 8h0m3 1h0m5 2h0m4-8h0m2 9h0m4-10h0m0 9h0m10-9h0m9 3h0m0 5h0m12-1h0m1-1h0m6-9h0m4 11h0m8-7h0m4 3h0m6-7h0m6 11h0m9-6h0m0 7h0m2-4h0m3-2h0m6-2h0m-16 18h0m-4-6h0m-6 12h0m-6-6h0m-16 5h0m-3 4h0m-4-15h0m-8 6h0m-2 7h0m-7 0h0m-9-7h0m-12-3h0m0 5h0m-8-7h0m-4 4h0m-7-2h0m0 4h0m-2 4h0m-9-8h0m-2 9h0m-38-5h0m-12-7h0m-1 6h0m-18 4h0m-11-9h0m-11 0h0m-7 8h0m-5-5h0m-14-1h0m-8 4h0m-32-6h0m-8 6h0m-3-2h0m-6 0h0m-487-5h0m-5 3h0m0 5h0m-1-3h0m-2-3h0m-4 3h0m-7 10h0m-59-15h0m-8 9h0m-15 0h0m0 3h0m-11 0h0m-27-7h0m-6 0h0m0 3h0m-3 14h0m23 7h0m3-9h0m11 9h0m85 0h0m3 2h0m4-13h0m5-1h0m0 10h0m0 4h0m2-5h0m522-10h0m11 7h0m14-1h0m19-4h0m21 7h0m5 1h0m12-4h0m13 2h0m7 6h0m8-4h0m6 1h0m9 2h0m6-5h0m2-4h0m8 11h0m3-8h0m7 4h0m8-4h0m4 6h0m4-3h0m2-6h0m1 4h0m8-6h0m5 1h0m6 11h0m21-6h0m2-2h0m0 8h0m8-6h0m0 6h0m3-3h0m15 0h0m1-1h0m1 1h0m2-10h0m-10 20h0m-9 7h0m-2-4h0m-1 3h0m-15-8h0m-2 4h0m-10-5h0m0 6h0m-16-1h0m-10 0h0m-2-6h0m0 11h0m-3 2h0m-4-14h0m-3 6h0m-13-6h0m-6 13h0m-4 0h0m-2-12h0m-5 14h0m-7-4h0m-7-8h0m-23 1h0m-12 5h0m-8 2h0m-30-8h0m-13 12h0m-24-6h0m-41-8h0m-485-1h0m-5 2h0m-1 5h0m-9-4h0m-1 10h0m-51-7h0m-2-4h0m0 8h0m-1 4h0m-2-5h0m-4 2h0m-13-10h0m-2 5h0m-12-1h0m-1-4h0m-11 9h0m-19 4h0m-2-7h0m0 17h0m3 6h0m13-12h0m1-1h0m8 14h0m4-10h0m13 10h0m7-7h0m1 6h0m13-12h0m1-2h0m0 8h0m51 6h0m1-12h0m5-1h0m525 4h0m19 9h0m2-10h0m5 6h0m3-9h0m6 12h0m37-4h0m21 2h0m15 3h0m11-10h0m5 0h0m6-1h0m5 6h0m5-5h0m1-2h0m2 7h0m4 2h0m6-11h0m0 13h0m2-6h0m14-3h0m9 11h0m5-14h0m0 1h0m6 7h0m3-7h0m2-2h0m19 10h0m13-8h0m3 3h0m-22 12h0m-11 4h0m-13-5h0m-10 6h0m-6 0h0m-1 5h0m-2 2h0m-5-7h0m-2-3h0m-29 11h0m-6-3h0m-1-3h0m-8-4h0m-15-4h0m-4 13h0m-8-8h0m-8 5h0m-36-3h0m-7 1h0m-21 7h0m-6-10h0m-18 9h0m-21-2h0m-498-1h0m-2 2h0m-3-3h0m-65 4h0m-2-11h0m0 5h0m0 7h0m-6-6h0m-1-4h0m-16-1h0m-5 1h0m-1 1h0m-1-6h0m-4 4h0m-4-4h0m-10 0h0m-4 2h0m725 15h0m41 1h0m-177 40h0m137 5h0m46-15h0m24 12h0m259 19h0m-72-8h0m-73 2h0m-37 4h0m-19-6h0m0 7h0m-18-10h0m-46 3h0m-8-5h0m-14 7h0m-17-5h0m-68 5h0m-24-4h0m-614 7h0m-23 16h0m1-12h0m12 10h0m9 1h0m14 3h0m127-2h0m503 3h0m12-7h0m4-2h0m15 3h0m18-1h0m11-6h0m7 5h0m40-3h0m23 11h0m150-8h0m16 5h0m6-9h0m3 11h0m17 0h0m59 10h0m-9-4h0m-4 8h0m0 2h0m-12-4h0m-3-5h0m-1 6h0m-11 3h0m-3-7h0m-14 8h0m-1-2h0m-29-1h0m0 3h0m-2-2h0m-3-8h0m-19 5h0m-2 3h0m-72-3h0m-7 4h0m-9 1h0m-11-10h0m-2 9h0m-13-11h0m-23 1h0m-7-2h0m-4 4h0m-2 7h0m-3-12h0m-23 8h0m-50 6h0m-1-9h0m-20-6h0m-3 7h0m-2 8h0m-6-2h0m-5-5h0m-274 6h0m-76 1h0m-60-7h0m0 5h0m-50-2h0m-27 4h0m-2-7h0m-11 5h0m-20-7h0m-12 3h0m-19-5h0m-26 7h0m-42 2h0m-13-10h0m-1 4h0m-19 7h0m-1-7h0m-3-3h0m-1 8h0m-5-10h0m-11 6h0m-3 1h0m-4-7h0m-3 4h0m-12 19h0m2 4h0m2-12h0m7 2h0m2 10h0m3-6h0m3-3h0m1 10h0m10 1h0m6-13h0m1-1h0m14 1h0m28 3h0m46 9h0m18-4h0m7-3h0m2 3h0m40-6h0m10 4h0m18 3h0m27-11h0m10 7h0m4 5h0m18-9h0m2 9h0m17-4h0m3 5h0m8 1h0m35-14h0m6 0h0m19 2h0m18 7h0m8 6h0m13-1h0m4 0h0m2-8h0m198-3h0m0 3h0m38-5h0m6 7h0m3 0h0m11 2h0m18-1h0m10 6h0m3-14h0m2 13h0m9-12h0m0 7h0m9 4h0m7-13h0m1 14h0m4-12h0m0-1h0m0 9h0m11-10h0m6 8h0m1 2h0m0 3h0m1 1h0m18-14h0m8 5h0m10 10h0m2-8h0m12-6h0m3 6h0m6 2h0m15-8h0m1-1h0m2 4h0m1-1h0m4-3h0m11 10h0m27-9h0m8 5h0m8 9h0m23-6h0m3-5h0m16 7h0m1-8h0m6 4h0m4-7h0m15 1h0m7 8h0m11-9h0m6 9h0m7-7h0m7 6h0m1 7h0m13-12h0m5 12h0m10-8h0m25 0h0m19 2h0m4-6h0m14 6h0m2-2h0m-47 12h0m-14-3h0m-3 0h0m-38 5h0m-24 0h0m-13-3h0m-1 1h0m-4 2h0m-4 0h0m-16-3h0m-2 1h0m-3 6h0m-3-3h0m-8-4h0m-21 6h0m-5 1h0m-1 0h0m-1 0h0m-8-9h0m-13 3h0m-3 5h0m-5-1h0m-15-7h0m-2 9h0m-1-1h0m-5-3h0m-6-5h0m-7 15h0m-1-7h0m-18-4h0m-1 5h0m-6-9h0m0 4h0m-14 0h0m-1 7h0m0 1h0m-5-8h0m-1 7h0m-7-5h0m-2 2h0m-6-3h0m-9 10h0m-2-2h0m-14-13h0m-4 14h0m-7-14h0m-19 10h0m-20-7h0m-1-3h0m-8 13h0m-13-4h0m-2-6h0m-18 6h0m-7 3h0m-3 0h0m-12 0h0m-6-5h0m-205 2h0m-5-4h0m-13 3h0m-9 6h0m-3-7h0m-3 1h0m-3-1h0m-13 1h0m-1-6h0m-9 11h0m-1-13h0m-5 13h0m-16 0h0m-9-9h0m-9 3h0m-26 8h0m-9-1h0m-7 0h0m-2-8h0m-8 1h0m0 4h0m-4 2h0m-2 1h0m-17-12h0m-11 8h0m-19 3h0m-40 0h0m-5-1h0m-3-10h0m-25 11h0m-13-4h0m-5 2h0m0 4h0m-1-5h0m-21 4h0m-9-1h0m-3 2h0m-15-2h0m-1-3h0m-8 2h0m-5-7h0m-6-2h0m0 6h0m-1 6h0m-2-14h0m-4 2h0m-3-3h0m-2 9h0m-1 2h0m-1-5h0m-4 5h0m-2-10h0m-6-1h0m0 2h0m-1 4h0m-12 16h0m1 9h0m5-14h0m5 7h0m7-1h0m6-2h0m2 6h0m9-1h0m2 4h0m12-10h0m1-4h0m4 13h0m7 2h0m3-7h0m11 5h0m5 1h0m7-3h0m5-2h0m8-3h0m1-5h0m3 10h0m1-5h0m11 2h0m8 6h0m10-2h0m4-10h0m10-2h0m3 0h0m4 14h0m4-3h0m12 0h0m18 0h0m16 1h0m3-7h0m12 6h0m8-10h0m10 9h0m23-9h0m11 0h0m2 11h0m1-12h0m16 5h0m17 3h0m2 1h0m5-1h0m4-2h0m4 1h0m24-6h0m16 6h0m20-4h0m246 8h0m4-7h0m5-4h0m5 13h0m5-10h0m0 2h0m4 1h0m6 7h0m16-10h0m2 10h0m1-2h0m20-6h0m8 4h0m16 6h0m17-13h0m14 3h0m0 4h0m2 6h0m15-9h0m4 4h0m2-5h0m0 5h0m28-8h0m5 7h0m2-4h0m15-4h0m7 0h0m4 5h0m19 0h0m213 16h0m-198 5h0m-162-7h0m-12-2h0m-1 10h0m-17-12h0m-8 6h0m-14-2h0m-4-3h0m-37 7h0m-219 7h0m-107-4h0m-15-10h0m-9 1h0m-9 1h0m-16-3h0m-2 5h0m-3-1h0m-2-2h0m-3 9h0m-4-2h0m-2 0h0m-1-1h0m-9-5h0m-7 8h0m-1-9h0m-2 2h0m-3 6h0m-2-1h0m-18 0h0m-3-9h0m-2 6h0m-2-6h0m0 5h0m-9 7h0m-3-4h0m-6-7h0m-7 10h0m-6-2h0m-1 4h0m-13-1h0m0 0h0m-6-8h0m-8-3h0m0 4h0m-4 1h0m-1-3h0m-7 8h0m-2 4h0m-5-10h0m-1 4h0m-2-2h0m-7-5h0m-10 9h0m-8 2h0m-6-2h0m-14-3h0m-3 0h0m-5-6h0m-5 13h0m-4-7h0m-1 2h0m0 4h0m-3-9h0m-3-2h0m-2 7h0m-6-9h0m-10 11h0m-1-7h0m-4 5h0m7 8h0m20-1h0m24 1h0m40-2h0m98 6h0m83 4h0m133 5h0m245-7h0m20-5h0m24 1h0m12 11h0m58 0h0m57-10h0m2-2h0m5 7h0m-10 10h0m-15 2h0m-35 2h0m-17-7h0m-86 8h0m-405-8h0m-27 13h0m-18-7h0m-6 6h0m-10 0h0m-9-4h0m-26-6h0m-17 2h0m-13 7h0m-71-8h0m-3 19h0m141 10h0m-191 2h0m777 56h0m57 99h0m2 1h0m13-3h0m3 0h0m2-5h0m18 5h0m24 1h0m10-6h0m20 6h0m2 1h0m13-5h0m9 2h0m0 2h0m4-5h0m100 15h0m-9 8h0m-12-4h0m-9-10h0m-16 13h0m-4 1h0m-3-6h0m-29-3h0m-3 7h0m-8-5h0m-5 2h0m-2-1h0m-13 5h0m-14 1h0m-7-8h0m-10-1h0m-7-6h0m-16 0h0m-3 1h0m-6 14h0m-5 0h0m-9-9h0m-6 7h0m-2-4h0m-3 1h0m-10 2h0m-20-12h0m-39 14h0m-10-2h0m-3 3h0m-1-9h0m-8 1h0m-6 3h0m-156 19h0m6-1h0m0 3h0m16-5h0m2 4h0m11-6h0m36 7h0m9-1h0m3-12h0m20 13h0m2-11h0m0 5h0m40 3h0m49-6h0m4 8h0m2-13h0m6 12h0m5 0h0m6 2h0m3 0h0m1-15h0m13 4h0m8 4h0m4 3h0m6-7h0m16 5h0m4-9h0m0 2h0m9 1h0m2 10h0m6-5h0m1 7h0m9-11h0m15 11h0m2-15h0m0 5h0m0 1h0m5-1h0m9 0h0m23 3h0m1-8h0m6 0h0m12 15h0m3-8h0m1-1h0m34-6h0m22 11h0m5 1h0m4-12h0m5 11h0m4-7h0m14 0h0m2-2h0m10 17h0m-38 1h0m-3 1h0m-1 2h0m-16 2h0m-1 1h0m-19 3h0m-5-5h0m-17-5h0m0 12h0m-24-5h0m-5-3h0m-3-6h0m-3 11h0m-5-2h0m0 1h0m-4-8h0m-3-3h0m-8 11h0m-8 1h0m-22-12h0m-2 11h0m-12 2h0m-15-7h0m0 7h0m-1-4h0m-17-7h0m-2-2h0m-13 10h0m-28 5h0m-10-11h0m-3 5h0m-34 4h0m-7-2h0m-3-2h0m-7 6h0m-1-10h0m-2 7h0m-11-2h0m-1-4h0m-8 3h0m-17 5h0m-3-13h0m-3 11h0m-14-8h0m0 5h0m-7-5h0m-4 1h0m-15 7h0m-14-12h0m-12 14h0m-2-1h0m-10 0h0m-3-10h0m-6-1h0m-1 12h0m-8 1h0m1 2h0m12 12h0m31-12h0m12 1h0m0 11h0m5 1h0m6-7h0m8-6h0m13 12h0m11-2h0m9 2h0m1-2h0m9-9h0m22 3h0m4 10h0m15-9h0m23 3h0m13 6h0m5-13h0m5 8h0m1-7h0m8 8h0m10 4h0m10 0h0m9-13h0m4 11h0m6-4h0m7-5h0m17 8h0m11-4h0m8-5h0m42 10h0m6-6h0m6-3h0m0 10h0m4-9h0m23 10h0m31-15h0m8 5h0m20-2h0m2-3h0m17 8h0m24 10h0m-74 3h0m-24 10h0m-5-6h0m-18-3h0m-4 7h0m-9-2h0m-1-5h0m-41 3h0m-3-7h0m0 4h0m-1 0h0m-7-3h0m-12-3h0m-12 5h0m-17 3h0m-9-8h0m0 15h0m-6-12h0m-5 9h0m-7-3h0m-48-1h0m-3 0h0m-1-3h0m-8 0h0m-9 3h0m-5-7h0m-7 1h0m-43 8h0m-27-10h0m-3 7h0m-18-5h0m91 23h0m76-6h0m-148 30h0m28 2h0m-71 22h0m-229-4h0m-10 2h0m-4-2h0m-17 2h0m-2 2h0m-3-1h0m-2 0h0m-18 7h0m-5-1h0m-9 1h0m-8-4h0m-1-2h0m-4 3h0m-6-1h0m-17-1h0m-15 2h0m-7 2h0m-1-2h0m-4 0h0m-227 19h0m12 0h0m166-7h0m15-4h0m4 0h0m10 1h0m12-5h0m2 7h0m3-4h0m1-2h0m3 2h0m3-2h0m25 1h0m19-2h0m-104 21h0m-10 0h0m-3 2h0m-10-7h0m-4 10h0m-14-3h0m-13 6h0m-6-5h0m-46 4h0m-4-2h0m-1-3h0m-1 7h0m-3 1h0m-5-10h0m-9 6h0m-4-7h0m-1 10h0m-13-10h0m-1 2h0m-1-4h0m-3 4h0m-1 7h0m-3-4h0m-1-6h0m-2 8h0m-4-11h0m-1 3h0m-2-2h0m-8 8h0m-2 1h0m-5-6h0m-5 4h0m0 3h0m-3 2h0m-5-9h0m0 11h0m-2-14h0m0 4h0m-4 25h0m1-9h0m1-1h0m2 9h0m8-4h0m3 1h0m3-5h0m15 4h0m0 2h0m1-5h0m2-5h0m3 11h0m2-8h0m1 7h0m10 0h0m1-8h0m1-3h0m8 10h0m7-2h0m4-1h0m1-6h0m12 1h0m0 4h0m1-4h0m0 5h0m6-7h0m0 7h0m3-5h0m6 12h0m1-11h0m0 1h0m6-4h0m1 5h0m4-5h0m1 12h0m3-4h0m4 1h0m2-5h0m4-2h0m4 6h0m-50 9h0m-33 3h0m-1 5h0m-3 3h0m-2 2h0m-2 1h0m-3-3h0m-3-10h0m0 12h0m-4-1h0m-7-9h0m-6 5h0m-6 2h0m-1-2h0m-1-1h0m-1-8h0m-2 6h0m-1 7h0m-4-13h0m-3 8h0m-5 23h0m3-9h0m3-4h0m2 11h0m3 1h0m7 1h0m1-8h0m2 4h0m2-9h0m0 13h0m1-8h0m2-1h0m18 8h0m2-2h0m-10 14h0m-1-7h0m-7 9h0m-5-4h0m0 5h0m-3 0h0m-15-13h0m-1 10h0m0 5h0m-3-7h0m-1-4h0m-4 8h0m6 13h0m2 3h0m0 2h0m3-7h0m0 4h0m9-10h0m2 9h0m1-7h0m3 1h0m4 10h0m2-10h0m6 2h0m-2 10h0m-26 0h0m-10 3h0"/>
<path stroke="#48c000" d="M1220 27h0m-17 0h0m-87 2h0m-59 0h0m-28 2h0m-14-4h0m-54-5h0m-16 0h0m-60 1h0m-449 1h0m-16-2h0m-74-3h0m-1 11h0m-1-1h0m-8-8h0m-5-1h0m-17 3h0m-5 4h0m-29 3h0m1 9h0m6-3h0m9 4h0m2-6h0m4-1h0m16 6h0m21-1h0m12-5h0m15 6h0m1 6h0m19-8h0m3 4h0m413 3h0m36-2h0m22 2h0m126 0h0m24-4h0m40-5h0m5 11h0m10-6h0m10 0h0m48 7h0m86-7h0m12 23h0m-1-9h0m-17 1h0m-3 5h0m-7-9h0m-3 4h0m-35-2h0m-37-2h0m-13 6h0m-20-7h0m-18 6h0m-26 0h0m-27-8h0m-3 2h0m-15 4h0m-8 1h0m-12 6h0m-24-4h0m-70-5h0m-28-2h0m-451 11h0m-19-3h0m-17-7h0m-1 3h0m-5 4h0m-41 4h0m-79-11h0m-8 26h0m15-13h0m5 7h0m16 5h0m14-5h0m35-2h0m4-5h0m20 0h0m523 8h0m54-2h0m40 1h0m1 3h0m34-1h0m5-9h0m15 7h0m29 7h0m5-8h0m27-2h0m5 7h0m3-8h0m1 8h0m4-2h0m37-6h0m33-3h0m0 4h0m66-1h0m22 1h0m-44 20h0m-6 5h0m-31-3h0m-3-10h0m-12 12h0m-4-12h0m-64 6h0m-36 4h0m-46-5h0m-22-4h0m-36 13h0m-1-14h0m-71 12h0m-13-3h0m-68 0h0m-374-3h0m-39 2h0m-35 6h0m-7-1h0m-89 2h0m-16 6h0m79 10h0m30-11h0m538 0h0m56 4h0m48-7h0m20 7h0m48-1h0m5-1h0m4-1h0m58 0h0m6 2h0m51 0h0m32 3h0m7 1h0m3-7h0m26-1h0m-5 20h0m-8 2h0m-4-8h0m-11 1h0m-56 4h0m-13 5h0m-19-1h0m-34 0h0m-12-8h0m-39 2h0m-49 11h0m-17-11h0m-28 5h0m-17-8h0m-39 6h0m-6-2h0m-77 8h0m-443-8h0m-7-1h0m-50 5h0m-16-3h0m-8 8h0m-20-6h0m-21 0h0m-7 12h0m32-4h0m45 8h0m28 0h0m28-8h0m492 10h0m2 5h0m19 0h0m24-15h0m69 14h0m17-14h0m0 12h0m8-3h0m40 6h0m68-7h0m3-5h0m4 9h0m4-12h0m22 5h0m13 9h0m12-12h0m17 13h0m70 6h0m-11-3h0m-22 4h0m-74 0h0m-32-3h0m-65 8h0m-14 3h0m-62-8h0m-23-2h0m-38 7h0m-557 1h0m-2 1h0m-41-10h0m-14 6h0m-1 3h0m-15-10h0m-9 18h0m3 10h0m29 0h0m5-4h0m503-6h0m37 8h0m45-5h0m5 4h0m9-4h0m2 0h0m7-6h0m24 8h0m5-9h0m43 1h0m65 1h0m106 8h0m2-3h0m41-7h0m17 1h0m12 0h0m-89 21h0m-18-1h0m-11-2h0m-51 10h0m-39 1h0m-5-12h0m-1 4h0m-17 8h0m-31-7h0m-1-4h0m-12 1h0m0 7h0m-18-5h0m-24 7h0m-28 0h0m-8-9h0m-2 4h0m-2 3h0m-44 3h0m-424-11h0m-54 8h0m-21 0h0m-92 3h0m26 6h0m44 4h0m7 5h0m2-5h0m521 0h0m15 1h0m29-4h0m35 8h0m20-7h0m3-5h0m0 3h0m21 10h0m22 1h0m13-15h0m14 3h0m48 12h0m73-13h0m31 9h0m19-6h0m57 1h0m13 14h0m-137 3h0m-113 7h0m-5-9h0m0 3h0m0 1h0m-9 1h0m-49 4h0m-70-1h0m-20-1h0m-10 1h0m-520-9h0m-29 10h0m-35-3h0m-5-5h0m2 15h0m20 7h0m58-5h0m34-3h0m45 1h0m16 2h0m377 2h0m109-5h0m53 6h0m1 1h0m58 4h0m26-13h0m59 9h0m8 0h0m82 3h0m30 13h0m-93-1h0m-7-4h0m-33-3h0m-27 3h0m-44 3h0m-30-6h0m-53-1h0m-37 7h0m-25-2h0m-43 4h0m-19-9h0m-416-2h0m-7 9h0m-47 4h0m-6 0h0m-57-12h0m0 10h0m-31 0h0m0 5h0m13 3h0m3-2h0m7 8h0m54 3h0m8-7h0m1 3h0m0 1h0m3 6h0m10-12h0m1-3h0m2 15h0m3-15h0m4 2h0m1 5h0m5 8h0m1-11h0m1 8h0m4-7h0m2-5h0m0 13h0m7-10h0m1 11h0m1-2h0m1-1h0m0 4h0m6-12h0m27 12h0m7-2h0m6-4h0m6 5h0m18 1h0m2-4h0m10-2h0m4 0h0m15 6h0m3-6h0m2 5h0m11-1h0m16-4h0m17 2h0m1 3h0m13-4h0m1 2h0m11 3h0m275-1h0m16-4h0m5-10h0m24 7h0m44 0h0m16 3h0m42-6h0m34-1h0m31 6h0m23-3h0m3-6h0m34 6h0m14-3h0m17 8h0m42 1h0m62-2h0m-23 16h0m-94 2h0m-8 1h0m-18-1h0m-11-1h0m-7 3h0m-16-9h0m-18 7h0m-22 0h0m-19-9h0m-96 8h0m-73-3h0m-65-6h0m-208 0h0m-13 0h0m-17-2h0m-8 1h0m-19 0h0m-11 3h0m-4-4h0m0 2h0m-35 0h0m-17 3h0m-8 4h0m-1 0h0m-5-7h0m-4 5h0m-2-6h0m0 3h0m-7-4h0m-6 10h0m-3-7h0m-2 2h0m-4-3h0m-3 7h0m-5-6h0m-3 7h0m-12-8h0m-4 7h0m0 3h0m-1-8h0m-2 5h0m0 3h0m-7-3h0m-1 4h0m-10-5h0m-1-6h0m-3 8h0m-1-6h0m-6 1h0m-27 0h0m-4 1h0m-5 7h0m-24-8h0m-5 3h0m-15-7h0m-9 5h0m900 41h0m-290 6h0m5 10h0m4-3h0m4 3h0m12-4h0m1-2h0m1 5h0m4-6h0m32 4h0m10-1h0m4 4h0m2-3h0m0 1h0m5-3h0m33 4h0m16 0h0m18-9h0m12 8h0m9 1h0m18-12h0m119 9h0m38 16h0m-65 3h0m-6 0h0m-14-2h0m-1-4h0m-9 3h0m0 1h0m-1 1h0m-12 1h0m-3-5h0m0 1h0m-9 4h0m-3-14h0m-7 8h0m-7-5h0m-2 3h0m-1-1h0m-5 10h0m-3-3h0m-1-9h0m-4 1h0m-16-4h0m-3 6h0m-6 2h0m-4 5h0m-7-3h0m-3 3h0m-15-3h0m-2-3h0m-6-5h0m-1 8h0m-1-8h0m-3 13h0m-11-5h0m-9 2h0m-13-9h0m-1 6h0m-7-9h0m-2 9h0m0 5h0m-4-5h0m-3-7h0m-1-2h0m-9 11h0m-3-10h0m-26 9h0m-2-4h0m-11 7h0m-2-6h0m-5-5h0m-3 11h0m-4 1h0m0 1h0m-33-9h0m-1 7h0m-7-5h0m-6-6h0m-11 8h0m-2 2h0m-6 0h0m-9 3h0m-442-3h0m-3 2h0m2 15h0m17 0h0m5 1h0m8 1h0m2-9h0m9-6h0m9 2h0m380 6h0m34-5h0m3 12h0m2-12h0m0 4h0m5 4h0m7-7h0m2 4h0m4-5h0m1 12h0m2-12h0m0 11h0m2-1h0m15-8h0m21 4h0m3 6h0m11-6h0m7 1h0m5 3h0m3 2h0m5-11h0m0 2h0m0 8h0m18-14h0m8 15h0m18-1h0m6-9h0m9 1h0m0 4h0m6-10h0m3 9h0m4 0h0m8 6h0m2-5h0m2 3h0m15 0h0m3-4h0m2 4h0m12-5h0m3 7h0m21-11h0m5 10h0m10-4h0m7 5h0m12-13h0m17 11h0m3-11h0m5 13h0m4-11h0m5-1h0m3 12h0m4 0h0m12-2h0m1-11h0m4 7h0m3-9h0m4 2h0m15 8h0m2-1h0m0 3h0m1 2h0m1-14h0m1 0h0m15 6h0m0 8h0m36-14h0m3 11h0m5 1h0m3 0h0m6-3h0m1 5h0m2-6h0m3-2h0m-25 14h0m-33 9h0m-7-3h0m-17 5h0m-1-13h0m-22-2h0m0 6h0m-6 2h0m-19-6h0m-1 12h0m-7-4h0m-7-7h0m-12-2h0m0 11h0m-1-1h0m-30-11h0m-3 0h0m-2 7h0m-20-1h0m-9 1h0m-7 1h0m-4 0h0m-4 5h0m-1-5h0m-3-6h0m0 9h0m-2-4h0m0 5h0m-13-3h0m-26-1h0m-8 2h0m-6-9h0m-20 1h0m-5-1h0m-8 9h0m-1 4h0m0 1h0m-21-15h0m-6 12h0m-3-5h0m-20 1h0m-1-7h0m-15 7h0m-1-5h0m-15 6h0m-44 2h0m-3-10h0m-190 12h0m-7 0h0m-13 0h0m-3-6h0m-2 8h0m-7 0h0m-7-5h0m-1 4h0m-1-5h0m-7 3h0m-3-4h0m-4 4h0m-12 1h0m-6-7h0m-9 4h0m-14-2h0m-18 2h0m-12-5h0m-14 5h0m-8-3h0m-6 7h0m-1-1h0m-5 0h0m-10-9h0m-3 9h0m-2-3h0m-5-5h0m-5 6h0m-12-8h0m-1 9h0m-2 0h0m-15 0h0m-5-12h0m-7 0h0m-5 7h0m-1-4h0m0 5h0m-5 3h0m-3 3h0m-1-8h0m0 3h0m-2-8h0m-1 3h0m-1-1h0m-1 3h0m-6-5h0m-1 6h0m-15 5h0m-6-11h0m-10 10h0m-1-10h0m-4 14h0m-2 0h0m-12-1h0m-1 1h0m-8-3h0m-15 1h0m-21-10h0m-1 4h0m-6 5h0m-9-7h0m-2 9h0m-7-12h0m2 16h0m0 8h0m17-2h0m17-1h0m0 5h0m5-5h0m4 0h0m15 1h0m12-4h0m0 9h0m1-9h0m0 4h0m19-4h0m8 5h0m7-2h0m4 2h0m1 1h0m1 4h0m5 1h0m3-5h0m9-7h0m2 4h0m1 5h0m3 3h0m2-3h0m9 2h0m3-14h0m1 2h0m3 5h0m3 0h0m16-1h0m11 1h0m4-1h0m0 1h0m7 3h0m3-4h0m3 7h0m1-13h0m4 10h0m5 1h0m2-7h0m4-4h0m8 11h0m14-11h0m3 4h0m4 6h0m6-2h0m19-2h0m0 1h0m14-7h0m2 8h0m2 4h0m4-7h0m0 7h0m3-6h0m19 6h0m4-8h0m2 5h0m1-6h0m3 3h0m2-2h0m6 11h0m3-14h0m5 3h0m0 8h0m3-11h0m4 7h0m8 0h0m3-7h0m0 13h0m211-5h0m1 2h0m4 1h0m1-6h0m15 4h0m16 5h0m12-5h0m15-3h0m12 3h0m80-3h0m34-3h0m20-1h0m18-1h0m1 12h0m38-2h0m3-11h0m5 14h0m3-4h0m13-6h0m31-2h0m7 2h0m4 5h0m19-3h0m14-5h0m23-1h0m6 8h0m6-1h0m18 1h0m5-7h0m-106 17h0m-28 10h0m-25 1h0m-21-7h0m-28-1h0m-18-6h0m-5 4h0m-19-4h0m-21 0h0m-24 0h0m-36 15h0m-2-14h0m-14 5h0m-10 0h0m-2 0h0m-15-2h0m-30 8h0m-237 3h0m-9-14h0m0 4h0m-23 9h0m-17-10h0m-4-2h0m-4-1h0m-12 3h0m-2 0h0m-14 11h0m-2-4h0m-17-8h0m-27 9h0m-1-7h0m-12 0h0m-3-4h0m-4-1h0m-3 2h0m-1 9h0m-2-11h0m-8 6h0m-16 0h0m-8 0h0m-2-1h0m-5-1h0m-11 2h0m-3-4h0m-7 7h0m-2-1h0m-9-8h0m-3 13h0m-4-8h0m-2 0h0m-1-2h0m-2 8h0m-1-2h0m-2-5h0m-6 1h0m-5 4h0m-20-7h0m-7 8h0m-1-10h0m-15 7h0m-3-5h0m-5-1h0m-7 12h0m-1-7h0m-1-6h0m-7 5h0m-3-1h0m-6 1h0m-7 6h0m-5-5h0m-8-6h0m-2 3h0m24 21h0m54-3h0m22 8h0m36-12h0m4 12h0m11 1h0m13-10h0m4-3h0m108 5h0m2 4h0m18-5h0m261-4h0m12 8h0m64-5h0m25 10h0m8-14h0m12 6h0m7-5h0m0 10h0m13-1h0m76 4h0m25-13h0m10 3h0m18 8h0m88 0h0m-43 15h0m-192-10h0m-19 1h0m-42-2h0m-403 13h0m-38-13h0m-54 0h0m-20 5h0m-15-5h0m-1 7h0m-14 7h0m-5-9h0m-23-1h0m-1-4h0m-9 8h0m-66 16h0m80-5h0m809 3h0m-715 13h0m-174 19h0m1015 149h0m-51-5h0m-15 1h0m-22 7h0m-64-4h0m-107 3h0m-15 12h0m19 1h0m49 2h0m41-1h0m30-6h0m11 6h0m43-8h0m114 5h0m6-2h0m-4 25h0m-28-10h0m-26 2h0m-7-7h0m-8 11h0m-7 1h0m-5 2h0m-1-5h0m-6-9h0m-4 15h0m-59-11h0m-68-2h0m-1 8h0m-34 3h0m-148 0h0m-280 13h0m252 5h0m67-3h0m25-6h0m11-6h0m31 13h0m20-1h0m24-10h0m33 4h0m4-3h0m11 2h0m0 3h0m15-2h0m16 0h0m36 2h0m19-4h0m34 1h0m18 1h0m16-3h0m3-2h0m0 3h0m7 7h0m21 4h0m20-3h0m-4 18h0m-36-10h0m-16 5h0m-4-4h0m-7 8h0m-42-8h0m-2 9h0m-41 0h0m-17-2h0m-14-4h0m-6-6h0m-7 12h0m-13-13h0m-33 1h0m-1 8h0m-7 1h0m-48-7h0m-65-3h0m-11 1h0m-12 8h0m-2 5h0m-15-15h0m-11 14h0m-5-12h0m-2 13h0m12 13h0m49-9h0m12 6h0m11-4h0m6 7h0m2-1h0m6-2h0m4-5h0m8-1h0m12 11h0m20-4h0m1-2h0m6-2h0m9 8h0m8 0h0m19 0h0m2-3h0m9 3h0m18-9h0m7 9h0m8-14h0m25 14h0m21-11h0m47 7h0m3-3h0m3 8h0m13-4h0m14 0h0m57 2h0m1-2h0m2 2h0m8-11h0m-12 15h0m-1 9h0m-1-7h0m-17-2h0m-17 2h0m0 5h0m-1-7h0m-9 10h0m-12 4h0m-3-11h0m-4-2h0m-2 10h0m-3-11h0m-11 11h0m-2-11h0m-6 14h0m-11-12h0m-1 11h0m-17-5h0m-22-9h0m-27 11h0m-8 2h0m-5-4h0m-9 3h0m-5-9h0m-29 0h0m-1 0h0m-8 9h0m-1 3h0m-2-14h0m-1 6h0m-7 5h0m0 1h0m-14-10h0m-7-1h0m-29 4h0m-4-4h0m-3 8h0m-3 2h0m-3-6h0m-3 8h0m-10-10h0m-4-4h0m-2 0h0m-1 12h0m-4-4h0m-7-3h0m-12 2h0m0 6h0m-4-4h0m-17 4h0m-13-8h0m-2 10h0m-5-8h0m-38 1h0m-225-6h0m-155 19h0m3 5h0m10-3h0m80 3h0m32 5h0m246-15h0m21 11h0m79 0h0m6-6h0m18 8h0m57 1h0m23-14h0m17 12h0m16-1h0m22-10h0m16 11h0m11-3h0m17 4h0m3-13h0m12 13h0m17-12h0m20 13h0m45-4h0m29-1h0m12 6h0m8-15h0m-123 27h0m-64-9h0m-77 10h0m-1 3h0m-19-14h0m-34 14h0m-18-11h0m-3 1h0m-20 9h0m-9-10h0m-5-1h0m-23 1h0m-1 6h0m-17-9h0m-7 1h0m-2 6h0m-24-4h0m-208 4h0m-4 5h0m-9-2h0m-3 0h0m-11 3h0m-10-9h0m-17 9h0m-196 4h0m10 4h0m3 6h0m9 3h0m4-4h0m36 4h0m13-3h0m0 3h0m7-6h0m4-7h0m2 6h0m3 7h0m6-6h0m10-7h0m2 12h0m6-9h0m7-1h0m1-2h0m4 10h0m3-11h0m6 9h0m14-6h0m5 9h0m4-2h0m2-8h0m4 12h0m11-12h0m1 1h0m4 1h0m8 0h0m0 3h0m3-7h0m0 2h0m1 4h0m0 7h0m3-3h0m5-3h0m13 2h0m10-6h0m3 6h0m4 2h0m6-11h0m0 11h0m1-3h0m3-4h0m4 6h0m2-4h0m8-3h0m0 1h0m6-4h0m1 0h0m226 7h0m5 0h0m35-4h0m33 3h0m1-1h0m5 6h0m13-6h0m35 5h0m23-4h0m8-3h0m88 0h0m32-2h0m64 0h0m76 14h0m-62 14h0m-24-2h0m-43-4h0m-31-4h0m-159 1h0m-25 1h0m-24 9h0m-58-13h0m-291-1h0m-16 1h0m-41 0h0m-4 0h0m-8-2h0m-3 3h0m-2-2h0m-14 0h0m-1 2h0m-10 2h0m-1 1h0m-9-5h0m-12 8h0m-9 6h0m-34-15h0m35 31h0m6-3h0m34 1h0m391-3h0m94-9h0m5 0h0m41 2h0m7 5h0m41 6h0m26-12h0m52 25h0m-702 1h0m-32 3h0m-60 16h0m7-3h0m0 1h0m31-9h0m30 2h0m3 2h0m3-6h0m3-2h0m0 1h0m14-1h0m7 10h0m6-10h0m11 18h0m-10 7h0m-8-2h0m-12 7h0m-21-2h0m-4-2h0m-10-4h0m-3-4h0m-2 5h0m-19-6h0m-2 4h0m-2 5h0m-1-6h0m-1-3h0m0 2h0m-7-1h0m0 12h0m-12-10h0m0 6h0m-12-3h0m-7 0h0m-13 2h0m-16 11h0m0 7h0m2-4h0m9-3h0m15-2h0m6-2h0m2 9h0m3-6h0m0 3h0m5-6h0m7 5h0m8 4h0m23-1h0m7-4h0m4 6h0m6-8h0m20 9h0m1 0h0m560 1h0m-522 17h0m-1 1h0m-2-5h0m-7-3h0m-16 4h0m-7-7h0m-24 3h0m-2 9h0m-1-10h0m-2-4h0m-15 12h0m-5-8h0m-6 7h0m-8 3h0m-3-5h0m-20-9h0m-2 13h0m-5-4h0m-18 5h0m-1-15h0m-21 13h0m-15 1h0m-1 5h0m7-1h0m6 5h0m11-5h0m3 13h0m7-7h0m10 5h0m14-6h0m15 1h0m2 1h0m5 3h0m10-9h0m7 12h0m1-9h0m6-3h0m25 8h0m7-11h0m17 14h0m20-11h0m5-3h0m-34 18h0m-63 2h0m-46 1h0m-19 0h0m-58-1h0"/>
<path stroke="#ff0000" d="M1011 17h0m0 6h0m-6 2h0m-5-7h0m-5 5h0m-5-4h0m0 9h0m-17-3h0m-7-6h0m0 5h0m-3-5h0m-7 1h0m0 3h0m-2 3h0m-2-9h0m-1 7h0m-4-2h0m0 8h0m-2-5h0m-4 1h0m-7 3h0m-2-4h0m-13-5h0m-10 9h0m-4-5h0m-31 1h0m-2-6h0m-2 6h0m-19-5h0m-564 0h0m-10 7h0m-37-2h0m-3 6h0m-33-6h0m-17-7h0m-1 8h0m-15 16h0m23-2h0m11-1h0m34-5h0m35 4h0m3 4h0m562 5h0m4-6h0m50 1h0m5-7h0m0 12h0m6-15h0m5 13h0m1-7h0m1 4h0m6 1h0m4-3h0m14-3h0m3 8h0m1-8h0m8 6h0m11-4h0m11-3h0m2 10h0m2-10h0m9 5h0m2 5h0m18-10h0m2 1h0m9-5h0m-23 17h0m-15 7h0m-1-3h0m-4 7h0m-3-7h0m-8 4h0m-5 4h0m-4 0h0m-4-6h0m-1-3h0m0 1h0m-20 4h0m-1 5h0m-2-5h0m-14-2h0m-2 7h0m-6-8h0m-15-5h0m0 2h0m-15-3h0m-15 11h0m-19-9h0m-15-1h0m-3 3h0m-17 1h0m-525 1h0m-2-3h0m-3 4h0m-1 1h0m-72-8h0m-9 10h0m-2-8h0m-12 28h0m21 0h0m1-3h0m11-8h0m26 7h0m2-9h0m0 13h0m35-9h0m6-3h0m541 1h0m4 1h0m4 7h0m2 2h0m37-4h0m3-7h0m6 5h0m7 8h0m5 0h0m3-11h0m6 10h0m4-12h0m13 3h0m15-5h0m7 3h0m19 0h0m7 9h0m8-3h0m7 21h0m-4-11h0m-11 12h0m-15-4h0m-8-4h0m-1-3h0m-6 2h0m-33-1h0m-30 7h0m-1-11h0m-10 2h0m-36 4h0m-549 5h0m-1-3h0m-34 5h0m-3-7h0m-56-5h0m-4 4h0m5 12h0m14 3h0m1-4h0m0 10h0m1-8h0m1 5h0m17-1h0m24-7h0m0 1h0m27 13h0m4-3h0m1-2h0m532 2h0m33-10h0m44 3h0m3 3h0m1-7h0m5 14h0m45-4h0m16-4h0m27-5h0m-5 16h0m-13 7h0m-16-4h0m-12 5h0m-1 5h0m-5-5h0m-26 2h0m-40-1h0m-19 1h0m-20-6h0m-554 1h0m-2 0h0m-1 5h0m-2-1h0m-25-9h0m-23 11h0m-21-3h0m-14-1h0m10 10h0m15 4h0m2 7h0m32-2h0m22-4h0m2 4h0m3-6h0m577-4h0m56 12h0m12-9h0m18 7h0m40-1h0m279 20h0m-13-1h0m-261-13h0m-3 4h0m-13 0h0m-4 2h0m-3 3h0m-1 5h0m-16-2h0m-10 2h0m-2-2h0m-3-10h0m-11-2h0m-22 2h0m-17 4h0m-5-4h0m-1 13h0m-1-14h0m-39 1h0m-279 13h0m-32 0h0m-249-15h0m-26 14h0m-2-4h0m-12-1h0m-7 5h0m-1-12h0m-4 9h0m-12 3h0m-9-11h0m0 3h0m0 2h0m-2-5h0m-7 0h0m-1 12h0m-2-3h0m9 17h0m5-10h0m1 6h0m4-2h0m9-6h0m3 1h0m0 8h0m12 4h0m3-13h0m9 5h0m0 9h0m3-6h0m19 1h0m2 2h0m5-12h0m141 13h0m10-2h0m1 0h0m8-1h0m2 2h0m9-2h0m4 2h0m5 0h0m6-7h0m0 2h0m2-2h0m10-1h0m3-1h0m3-1h0m0 2h0m3-2h0m1 1h0m0 1h0m8-2h0m12 0h0m0 0h0m3-2h0m25 1h0m3 0h0m0 2h0m8 0h0m10-2h0m9 1h0m2 1h0m4-1h0m3 0h0m3-1h0m19 0h0m6 0h0m2-1h0m197 3h0m18 6h0m53-2h0m8 7h0m10-13h0m2 2h0m13 12h0m4-14h0m1 4h0m198 6h0m4 3h0m1-4h0m5 0h0m1 4h0m13 1h0m5-2h0m7-4h0m7-3h0m5 8h0m7 0h0m4-3h0m4-5h0m7 0h0m2-2h0m5 4h0m4 4h0m4-10h0m0 9h0m1-1h0m7 5h0m2-2h0m3-1h0m11-5h0m1-1h0m8 0h0m2-5h0m4 7h0m12 1h0m2-9h0m2 8h0m2-8h0m0 6h0m-38 10h0m-17 2h0m-1 1h0m-1 2h0m-1-5h0m-6 2h0m-11-1h0m-1 4h0m-1-2h0m-2 3h0m-13 0h0m-1 0h0m-11 9h0m-10-2h0m-7-4h0m-11-5h0m-7 8h0m-1-3h0m-1 6h0m-19-2h0m-6-3h0m-2-6h0m-4 6h0m-6 0h0m-96-8h0m-29 10h0m-3 2h0m-34-7h0m-1-3h0m-11 4h0m-7-7h0m-4 9h0m-11-9h0m-12 0h0m-10 14h0m-1-11h0m-4-4h0m-17 2h0m0 1h0m-9 9h0m-386-11h0m-9 3h0m-7-4h0m-1 5h0m-2-5h0m-5 2h0m-3 1h0m-1 5h0m-2-7h0m0 2h0m-3 2h0m-6 3h0m-7-4h0m-3-1h0m-3 4h0m-9 2h0m-4 1h0m-3 3h0m-95-4h0m-24 6h0m-24-5h0m-1-9h0m0 1h0m-1 6h0m-10 7h0m-11-8h0m-6 21h0m1-1h0m4-7h0m14-3h0m33 5h0m21-3h0m1-1h0m76 11h0m1-1h0m2 2h0m4 0h0m1-9h0m1 10h0m3 0h0m6-8h0m6-5h0m3 0h0m1 1h0m493 2h0m13 7h0m24-6h0m3 3h0m2 6h0m12-2h0m4 2h0m21-15h0m1 8h0m4 6h0m4-13h0m14 14h0m5-1h0m64-8h0m1 9h0m2-8h0m17-5h0m4 8h0m1 3h0m1-13h0m7 4h0m3 6h0m3 5h0m6-14h0m3 3h0m4 9h0m11-8h0m4-5h0m0 6h0m1-1h0m3-2h0m2 7h0m7 5h0m3-4h0m15-10h0m81 17h0m-104-1h0m-4 5h0m-3 1h0m-1 5h0m-4 1h0m-3-8h0m-4 10h0m-10-5h0m-3-4h0m-1 7h0m-4-6h0m-6-5h0m0 7h0m-1-8h0m-4 2h0m-10-2h0m-1 4h0m-18-5h0m-3 5h0m0 5h0m-2-5h0m-17 5h0m-1 1h0m-9 0h0m-7 4h0m-5-1h0m-59-2h0m-36-2h0m-20-5h0m-30 3h0m-505-4h0m-2 2h0m-2 6h0m-5 1h0m-64 1h0m-2-14h0m-1 8h0m-2 6h0m-17-12h0m-35 9h0m-2-2h0m-5 6h0m-1-8h0m-11 0h0m14 22h0m6-11h0m3 2h0m1 1h0m1 5h0m6 0h0m4 3h0m3-9h0m3 11h0m16-11h0m12 5h0m0 6h0m1-14h0m3-1h0m62 4h0m0 3h0m1 6h0m3-4h0m0 4h0m1-10h0m1-1h0m5 4h0m0 3h0m2-9h0m0 5h0m494 5h0m15-9h0m28 9h0m25-2h0m5-1h0m2-3h0m17 0h0m30 10h0m18 1h0m4-1h0m10-5h0m1 3h0m9-10h0m10 7h0m2-2h0m7-1h0m6 3h0m11-2h0m6 6h0m3-2h0m4-3h0m1-7h0m2 4h0m2 9h0m5-12h0m2 10h0m2-4h0m3 6h0m8-11h0m3 11h0m4-12h0m1 2h0m8 8h0m4-5h0m2-5h0m6 1h0m0 1h0m-9 15h0m-4 3h0m-9 6h0m-3-4h0m-2-3h0m-1-1h0m-12 5h0m-1 4h0m-4 1h0m-15-4h0m-21-6h0m-1 10h0m-12-4h0m-5 2h0m-3 1h0m-1-10h0m-3 2h0m-3-5h0m0 7h0m-7 0h0m0 4h0m-1-1h0m-2-6h0m-2 10h0m-5-4h0m-2-3h0m-8-5h0m-4 9h0m-16-2h0m-22 3h0m-16 1h0m-43-10h0m-12 7h0m-12-6h0m-12 0h0m-17-1h0m0 11h0m-478-12h0m-3 3h0m-3 4h0m0 4h0m-3-12h0m0 3h0m-3 5h0m-52-8h0m-31 11h0m-19-2h0m-5 8h0m23 3h0m5 5h0m72 0h0m1 3h0m2-4h0m1-6h0m0 4h0m2 8h0m4-11h0m510-1h0m17-3h0m6 11h0m2-2h0m1-1h0m17-3h0m2-4h0m6 2h0m6 4h0m9-1h0m7-5h0m0 7h0m15-5h0m20 4h0m21 5h0m10 0h0m4 0h0m5-9h0m9-3h0m1 8h0m1-7h0m9 11h0m4-8h0m12 4h0m1 2h0m1-10h0m1 14h0m11 1h0m6-10h0m6-4h0m2 4h0m1 4h0m16 4h0m1-3h0m6 6h0m-15 7h0m0 1h0m-9-5h0m-2 4h0m-1 2h0m-10-7h0m0 10h0m-2-4h0m-7-5h0m-7-2h0m-6 6h0m-2-6h0m-14 11h0m-3 0h0m-5-2h0m-3-10h0m-8 1h0m-3 9h0m-8 5h0m-4-2h0m-33-1h0m-33-12h0m-11 0h0m-2 8h0m-19-4h0m-546-3h0m-1 6h0m-3 7h0m-1-2h0m-3 0h0m-1 1h0m-1-1h0m-44-12h0m-15 11h0m-15-10h0m-1 10h0m-4-1h0m-1-4h0m-8 8h0m-1 1h0m-10-14h0m-14 3h0m66 12h0m646 1h0m79-1h0m134 44h0m123 11h0m-140-1h0m-1 7h0m-30 0h0m-4-13h0m-39 14h0m-14-1h0m-1-6h0m-2 8h0m-19-12h0m-22 1h0m-32 4h0m-13 1h0m-11-5h0m-54 11h0m-8-1h0m-601-4h0m-46 21h0m11-4h0m6 4h0m11-4h0m3 3h0m578-4h0m23-3h0m27-6h0m45 14h0m1-15h0m71 7h0m21 5h0m8-10h0m20 4h0m51 3h0m53 3h0m41 2h0m3-5h0m26 5h0m12-8h0m3 0h0m13 2h0m6 1h0m15-5h0m12 2h0m8 16h0m-3 1h0m-15-1h0m-5 1h0m-7 3h0m-4-5h0m-3 7h0m-2 1h0m-14-8h0m-9 7h0m0 3h0m-19-1h0m-12-1h0m-2-8h0m-1 7h0m-14 2h0m-14-6h0m-14 5h0m-7-1h0m-13-3h0m-44-1h0m-4-7h0m-9 12h0m-21-12h0m-7 13h0m-20-1h0m-27-1h0m-8-5h0m-20-2h0m-9 10h0m-32-12h0m-18-3h0m-4 6h0m-2-1h0m-9 1h0m-15 7h0m-16-3h0m-38 4h0m-8-2h0m-197-3h0m-11 2h0m-8 2h0m-11 0h0m-28-1h0m-10-2h0m-28 0h0m-12-4h0m-10 0h0m-22-3h0m-16 10h0m-10-12h0m-27 10h0m-6-10h0m-50 12h0m-23-3h0m-7-10h0m-13 10h0m-10-6h0m-4-2h0m-18 7h0m-4 4h0m-6-3h0m-14 0h0m-10-1h0m0 5h0m-9-10h0m-1-2h0m-11 12h0m-4-7h0m0 3h0m-5-7h0m-1 12h0m-11-9h0m-8 6h0m0 2h0m-5 8h0m5 4h0m1-4h0m2 2h0m3-3h0m2-1h0m8 3h0m6-6h0m1 10h0m1-5h0m2 2h0m5 0h0m4-8h0m8 0h0m1 10h0m2-7h0m1 8h0m0 2h0m2-1h0m7-11h0m11 12h0m24-9h0m5 8h0m5-9h0m23 8h0m4-5h0m39 6h0m5-6h0m26 6h0m7-11h0m1 1h0m14 11h0m2-10h0m3 6h0m10 2h0m6-11h0m1 3h0m0 8h0m4 2h0m31 1h0m19 0h0m11-6h0m15 0h0m3-7h0m7 4h0m14-4h0m7 12h0m3-10h0m45 1h0m13-2h0m0 11h0m2-10h0m185 9h0m2 1h0m7 2h0m5-14h0m3 14h0m22-9h0m31 4h0m4-5h0m2 7h0m8-12h0m0 13h0m6-2h0m25-5h0m11 1h0m5-3h0m3 7h0m15-5h0m18-6h0m2 5h0m3 2h0m10-4h0m1 11h0m8-14h0m4 8h0m6-5h0m29 4h0m12 8h0m1-10h0m5 3h0m4-3h0m1 2h0m8 2h0m9 0h0m10-2h0m15-3h0m3 8h0m2 3h0m4-3h0m21-6h0m28 5h0m12-9h0m16 10h0m2-10h0m36-2h0m0 14h0m3-8h0m1 6h0m5-5h0m1-2h0m1 1h0m10 8h0m26-3h0m6-9h0m1 2h0m-78 15h0m-57 7h0m-13-9h0m-8 7h0m-15-7h0m-4 12h0m-7-8h0m-10 8h0m-15 1h0m-21-1h0m-2 0h0m-8-13h0m-15 12h0m-25 3h0m-3-11h0m-35 2h0m-13 5h0m-14 4h0m-1-2h0m-15-6h0m-10 8h0m-1-3h0m-38 2h0m-5-7h0m-5-4h0m-3 10h0m-9-9h0m-10 3h0m0 2h0m-17-4h0m-4 9h0m-2-8h0m-6 5h0m-199-11h0m-8 5h0m-22-4h0m-1 6h0m-8 2h0m-6 2h0m-7-4h0m0 3h0m0 3h0m-3-6h0m-7 8h0m-7-7h0m-5 7h0m-4 0h0m-14-7h0m-4-3h0m-9 3h0m-2 1h0m-3-2h0m-5-5h0m-2 5h0m-10-1h0m-2 1h0m-9 1h0m-10-8h0m-28 14h0m-13-5h0m-11 4h0m0 2h0m-4-12h0m-1 11h0m-10-4h0m-12 4h0m-1-13h0m-4 4h0m-17 2h0m-5 7h0m-1-6h0m-9-8h0m-8 9h0m-30-1h0m-1 4h0m-48-12h0m-1 11h0m-8-7h0m0 9h0m-5-5h0m-5-8h0m-1 3h0m-2 6h0m-2 4h0m-2-11h0m-5 2h0m-2-3h0m-2 10h0m-12-2h0m-6 4h0m-5 1h0m-6 1h0m-1-12h0m2 18h0m0 3h0m5 1h0m4-8h0m4 3h0m2 9h0m3-4h0m2-2h0m17 6h0m2-4h0m9-2h0m13-6h0m4-1h0m2 3h0m7-1h0m21 8h0m4-5h0m8 9h0m8-4h0m1 3h0m6-5h0m2 0h0m1-2h0m1-1h0m0 6h0m4-11h0m2 11h0m2-4h0m6-4h0m14 3h0m4-5h0m0 5h0m4 8h0m10-7h0m2-5h0m1 10h0m16-11h0m0 6h0m2 3h0m1 1h0m6-8h0m5 9h0m5 3h0m14 0h0m3-7h0m6 4h0m15-6h0m3 3h0m6 4h0m1-13h0m10 3h0m0 6h0m1 6h0m20-15h0m3 8h0m0 6h0m6-2h0m9-6h0m13 0h0m6-1h0m11 0h0m6-2h0m0 3h0m7-2h0m2 5h0m4-8h0m2 2h0m1 0h0m32-2h0m1-1h0m21 0h0m202 0h0m3 1h0m13 10h0m11 3h0m11-14h0m3 9h0m13-3h0m10-2h0m4 0h0m17 1h0m5-2h0m11 10h0m1-9h0m3 6h0m2 1h0m1-6h0m22-2h0m7-1h0m4 3h0m1 8h0m20 1h0m18-9h0m10-4h0m0 5h0m7 4h0m-18 12h0m-27-4h0m-8 0h0m-2-2h0m-28 4h0m-1-2h0m-49 1h0m-11-1h0m-6 3h0m-17-1h0m-10-1h0m-273 2h0m-59-5h0m-38 3h0m-25-2h0m-18-1h0m-8 3h0m-8 7h0m-18-8h0m-2 3h0m-10 7h0m-16-11h0m-20 4h0m-2-4h0m-3 2h0m-1-1h0m-10 6h0m-4-7h0m-2 1h0m-1 6h0m0 2h0m-14-6h0m-6-2h0m-11 3h0m0 3h0m0 4h0m-4-1h0m-3-9h0m-3 12h0m-7-7h0m-8 8h0m-19-6h0m-1-3h0m-2-4h0m-3 10h0m-4-11h0m0 7h0m-1-4h0m-7 8h0m-3-12h0m-1 14h0m-8-7h0m-3-5h0m-4 0h0m-1 13h0m-2-11h0m-2-1h0m6 13h0m3 1h0m65 7h0m105 7h0m87-2h0m20-5h0m82 6h0m3-8h0m17 3h0m10 1h0m272 5h0m43 0h0m10-5h0m2-8h0m2 9h0m30-10h0m78 6h0m-103 17h0m-9 7h0m-25-7h0m-316-5h0m-82-3h0m-6 12h0m-145-8h0m-139 2h0m-4 21h0m3 2h0m30-6h0m116 4h0m86-10h0m1 1h0m-89 25h0m746 132h0m-58 16h0m6-10h0m4 0h0m11 7h0m2-9h0m1 7h0m4-3h0m6 7h0m13-8h0m5 5h0m3-1h0m8-2h0m7-1h0m14 1h0m25 4h0m20-7h0m2 8h0m7-6h0m3 4h0m90 20h0m-23-9h0m-28-2h0m-11 0h0m-7-2h0m-7 2h0m-12 10h0m-1-3h0m-1 4h0m-10-6h0m-9 4h0m-24 0h0m-1-9h0m-4-3h0m-1 12h0m-6-5h0m-12 7h0m-5-15h0m-18 0h0m-4 0h0m-8 15h0m-3-12h0m-16 0h0m-13 4h0m-2 5h0m-3 3h0m-1-8h0m-2-1h0m-8 2h0m0 1h0m-5-9h0m-7 7h0m-2-7h0m0 6h0m-4-6h0m-17 8h0m-4 0h0m-33 4h0m-141 15h0m17 0h0m1 1h0m4 1h0m24-3h0m9 3h0m7-3h0m7-2h0m4 4h0m2 0h0m7-4h0m5 2h0m1-3h0m7 5h0m7-10h0m35 3h0m6 10h0m6-2h0m16-8h0m9-4h0m4 8h0m0 0h0m7 6h0m17 0h0m15-6h0m15-9h0m5 12h0m1-4h0m2 2h0m14 5h0m3-6h0m6-4h0m13 5h0m5-6h0m9 3h0m4-2h0m3 2h0m24-7h0m4 5h0m0 10h0m17-9h0m6 2h0m7 7h0m15-7h0m8 1h0m28-5h0m2 9h0m11-1h0m5-4h0m10-7h0m10 5h0m2 3h0m22-7h0m-31 17h0m0 3h0m-19 8h0m-4-10h0m-17 0h0m-7 0h0m0 5h0m-3 2h0m-1-4h0m-3-6h0m-16 7h0m-3-5h0m-2 1h0m-6-4h0m-4 14h0m-11-6h0m-2-5h0m0 12h0m-1-9h0m-6 8h0m-10 0h0m-4-5h0m-2 4h0m-1-12h0m-1 1h0m-8 2h0m-2 1h0m-11-4h0m-9 5h0m-3-5h0m-1 9h0m-20-8h0m-1-2h0m-11 5h0m-15 9h0m-6-3h0m-11-11h0m-1 6h0m-3 3h0m-10-9h0m-5 0h0m0 14h0m-8 0h0m-1-10h0m-7 8h0m-5-4h0m-9 5h0m-1-10h0m-45 10h0m-21 1h0m-2-11h0m-18 8h0m-2 4h0m-3-9h0m-8 8h0m-5-12h0m-2 6h0m-5 1h0m-2 0h0m-11 6h0m-6-6h0m-4 6h0m-4-11h0m0 8h0m-2-8h0m-4 2h0m-2-6h0m-1 6h0m-4-2h0m-7 8h0m-14-9h0m-3 12h0m-1-9h0m-5-5h0m-1 18h0m5 10h0m5-6h0m1 3h0m9 2h0m4-12h0m0 10h0m4 5h0m2-5h0m4-2h0m5-7h0m0 13h0m1-10h0m1 8h0m1-4h0m3 0h0m10-4h0m9-1h0m8 3h0m2 6h0m19 3h0m2-2h0m13-6h0m3-4h0m32 9h0m14-11h0m2 0h0m4-1h0m16 0h0m36 5h0m17-4h0m10 4h0m1-5h0m13 8h0m9-8h0m0 15h0m14-5h0m11 1h0m2-11h0m13 14h0m13-6h0m12-4h0m3 9h0m1-5h0m4 2h0m6 1h0m9-6h0m7 10h0m10-14h0m1 8h0m16 5h0m14-12h0m7 4h0m1-2h0m41 8h0m24 6h0m-40-1h0m-9 3h0m-9-1h0m-22 4h0m-35 3h0m-3-2h0m-26-3h0m-1 2h0m0 7h0m-48-4h0m-16 3h0m-2-3h0m-34-1h0m-1-8h0m-4 4h0m-9 0h0m-8 1h0m-22-2h0m-26 3h0m-32-7h0m-35 5h0m-19-2h0m-6 0h0m-2-2h0m-25 6h0m-4-7h0m87 30h0m179-14h0m2 0h0m32 0h0m1 3h0m-212 15h0m-331 34h0m-2 2h0m-21 4h0m-31 4h0m-4-3h0m-9-1h0m-6 4h0m-10-1h0m-4 0h0m-4-2h0m-27 4h0m-223 15h0m12 1h0m132-2h0m12 2h0m5 0h0m1-6h0m1 1h0m5-4h0m0 5h0m2 2h0m1-1h0m0 3h0m4-4h0m11-4h0m20-6h0m0 4h0m2 0h0m15-3h0m3 1h0m4 1h0m4-3h0m-90 16h0m0 8h0m-6-8h0m-3 3h0m-5 5h0m-1-1h0m-3 2h0m-1 2h0m-12-7h0m-4 3h0m-1-1h0m-7 5h0m-3 2h0m-1 0h0m-8-3h0m-16 1h0m-12 0h0m-16-4h0m-2 4h0m-1-5h0m-4 5h0m-6-3h0m0 2h0m0 4h0m-3-15h0m-3 8h0m-3 3h0m-1-5h0m-4 6h0m-4-3h0m-2 2h0m-8 3h0m-5-12h0m-6 3h0m-10 10h0m-3-1h0m-5-14h0m-1 9h0m-14 4h0m12 15h0m1-12h0m3 2h0m1 10h0m3-8h0m2-2h0m0 3h0m1 2h0m14 3h0m9-9h0m1 2h0m4 3h0m1 0h0m1 4h0m3-3h0m3-5h0m0 13h0m5-11h0m4-1h0m0 3h0m1 0h0m0 2h0m1-7h0m2 10h0m1 4h0m4-6h0m1-4h0m1 8h0m5-1h0m2 3h0m5-3h0m6-7h0m1 8h0m3-2h0m10-9h0m0 4h0m1 1h0m2 3h0m4-8h0m13-2h0m4 4h0m8-2h0m7 1h0m-55 13h0m-8 0h0m-39 1h0m-8 8h0m0 5h0m-5-12h0m-3 6h0m-6 3h0m-1-3h0m-2 2h0m-4-7h0m-4 10h0m-1 1h0m-1-14h0m-1 12h0m-4-8h0m-11-4h0m2 16h0m3 0h0m0 11h0m4-10h0m4-1h0m0 0h0m8 1h0m0 12h0m1-1h0m5-2h0m7 4h0m1-13h0m1 11h0m1-6h0m-1 16h0m-15 3h0m-11 0h0m-3 6h0m-16-2h0m1 14h0m3-10h0m4 2h0m1-3h0m0 11h0m6 3h0m3-8h0m7-3h0m2 9h0m4-2h0m-3 10h0m-3 1h0m-2-2h0m-11-1h0m-12 0h0m-3 2h0"/>
<path stroke="#48c000" d="M1245 29h0m-25 0h0m-25 2h0m-97-5h0m-12-1h0m-24-1h0m-23 0h0m-36 0h0m-63 3h0m-27 1h0m-39-2h0m-3-1h0m-6-4h0m-13 1h0m-17-2h0m-13 10h0m-415-4h0m-2-7h0m-9 9h0m-6-6h0m-5-2h0m-38 2h0m-1-2h0m-7 5h0m-19 4h0m-35 1h0m-3 1h0m-25 11h0m23 5h0m3-9h0m4 6h0m3 3h0m54-5h0m4-8h0m17 7h0m12-5h0m18 3h0m4 0h0m5 6h0m4-4h0m5-8h0m418 2h0m25 12h0m38-15h0m25 15h0m17-4h0m15 1h0m18-10h0m13-2h0m11 6h0m18-1h0m5 7h0m34 0h0m1-12h0m3 3h0m6 12h0m25-5h0m19-5h0m25 7h0m83-6h0m45 18h0m-40-2h0m0 7h0m-8-2h0m-10-1h0m-15-3h0m-21 2h0m-2 0h0m-42-2h0m-13-5h0m-3-2h0m-52 12h0m-10-5h0m-17 8h0m-2 0h0m-8-12h0m-6 10h0m-3-5h0m-6-5h0m-18 5h0m-33 0h0m-42-7h0m-14 9h0m-1 1h0m-9-10h0m0 9h0m-101 2h0m-383-9h0m-8 8h0m-2-3h0m-4 6h0m-3-4h0m-17-3h0m-28-5h0m-7 12h0m-37-10h0m-12 0h0m-52 6h0m659 11h0m6-2h0m15 0h0m60 0h0m12 10h0m19-10h0m2 8h0m155-2h0m10-1h0m9 5h0m5 1h0m3-14h0m4 0h0m38 15h0m17-10h0m-2 15h0m-14 0h0m-19 8h0m-9-9h0m-9 3h0m-11 9h0m-10-7h0m-28 3h0m-48 0h0m-19-3h0m-7 6h0m-13-1h0m-19-9h0m-7 2h0m-12-1h0m-11 1h0m-39 2h0m-4-3h0m-28 8h0m-8-11h0m-7 11h0m-7-4h0m-9-2h0m-2-3h0m-17 5h0m-517-7h0m-7 6h0m-57 5h0m-15-3h0m-24 3h0m-8-7h0m-17 2h0m43 12h0m518 8h0m1-10h0m17-1h0m0 7h0m36 1h0m16 3h0m58 3h0m8-4h0m15 0h0m37 0h0m29-6h0m33 3h0m9 0h0m30-8h0m18 1h0m21 11h0m10-12h0m11 14h0m15-5h0m10 4h0m29-3h0m9 3h0m5-9h0m19 22h0m-4 0h0m-3-7h0m-10 0h0m-26-1h0m-15 4h0m-29-4h0m-17 7h0m-5 5h0m-28-6h0m-21 2h0m-11-1h0m-11 3h0m-4 1h0m-17-8h0m-3 5h0m-9-3h0m-44-5h0m-40 6h0m-36-6h0m-2 2h0m-34 0h0m-19 3h0m-16 3h0m-475 4h0m-2-10h0m-18 11h0m-38-6h0m-11 0h0m-7-5h0m-27 9h0m-23-12h0m12 21h0m42-3h0m2 4h0m7 8h0m5 0h0m58-4h0m3-10h0m491 7h0m19-8h0m48 6h0m3 2h0m1 4h0m2 1h0m88-12h0m16 6h0m1-4h0m51 1h0m21 9h0m6-4h0m10-1h0m2 2h0m13-8h0m46 10h0m33-5h0m10-7h0m6 3h0m1-3h0m17 6h0m10 15h0m-10 10h0m-39-9h0m-39 7h0m-17-7h0m-45-5h0m-97 13h0m-23-14h0m-32 4h0m-25 3h0m-24 1h0m-28 4h0m-10-7h0m-18-3h0m-470 9h0m-66-11h0m-20 1h0m-2 13h0m-5-4h0m-49 1h0m19 13h0m134 5h0m422-4h0m36-9h0m76 15h0m19-9h0m28-2h0m40-2h0m68 7h0m7 5h0m15-3h0m59-4h0m97 21h0m-25-10h0m-3 12h0m-141-14h0m-45 2h0m-3 4h0m-29 6h0m-23-8h0m-6-3h0m-72 11h0m-583-3h0m-11-9h0m-9 13h0m-14-5h0m-33 20h0m24-9h0m534 7h0m22-6h0m13-2h0m0 6h0m10 3h0m1 1h0m40-7h0m2-4h0m14 7h0m62 2h0m10-5h0m14-5h0m17 4h0m34 1h0m59 9h0m98-4h0m9 14h0m-53-2h0m-6 6h0m-42 0h0m-43-6h0m-4 2h0m-36 7h0m-22-8h0m-3 8h0m-6-4h0m-42-1h0m-2-7h0m0 6h0m-40 1h0m-30-10h0m-25 5h0m-14 8h0m-5 1h0m-41-14h0m-9 3h0m-476 5h0m-19 1h0m-10 3h0m-22 1h0m-22 11h0m25 6h0m8-10h0m67 10h0m115-2h0m367 0h0m19-8h0m35 10h0m29-5h0m23-6h0m22 12h0m5-3h0m24-11h0m28 12h0m51 2h0m10-4h0m5 1h0m8 0h0m9 3h0m3-9h0m2-2h0m46 1h0m15 10h0m9-15h0m7 11h0m44-7h0m-17 27h0m-89-6h0m-59 3h0m-16-3h0m-16-2h0m-5 5h0m-29 3h0m-19-14h0m-43 9h0m-35 3h0m-31-13h0m-15 0h0m-7 5h0m-56-5h0m-409 15h0m-66-13h0m-8 2h0m-10-1h0m-43-2h0m-2 8h0m55 12h0m6-3h0m3 11h0m12-9h0m3 5h0m2-3h0m3 9h0m1 0h0m5-13h0m3 1h0m3 5h0m3-8h0m2 2h0m5 9h0m0 2h0m5-9h0m1-1h0m2 11h0m1 0h0m1-7h0m3 4h0m4-11h0m8 1h0m0 12h0m1-12h0m2-1h0m2 3h0m6 7h0m5-6h0m2 11h0m13-9h0m5-3h0m1 10h0m3-12h0m10 4h0m0 10h0m1-8h0m15 2h0m0 3h0m15-4h0m5 6h0m6 1h0m27 0h0m16-5h0m7 2h0m28 1h0m5 1h0m5-3h0m2 3h0m5-2h0m34 0h0m238 1h0m1-3h0m23 2h0m16-8h0m53 4h0m7 4h0m24 3h0m6-4h0m6-2h0m40 5h0m31-7h0m42-1h0m7-2h0m35 6h0m84-4h0m5 4h0m27 13h0m-16 1h0m-13-8h0m-98 9h0m-69 0h0m-35 5h0m-63-6h0m-24 6h0m-42-11h0m-2 9h0m-54-2h0m-235-10h0m-6 0h0m-1 0h0m-24 1h0m-15 3h0m-9-1h0m-3-2h0m-12 1h0m-10 0h0m-1 2h0m-12-2h0m-1-1h0m-1 4h0m-6-2h0m-12-3h0m-3 5h0m-20-1h0m-12 5h0m-1-5h0m-17 1h0m-15-4h0m-1 5h0m-12 1h0m-3 0h0m-12 1h0m-5-7h0m0 3h0m0 6h0m-4 0h0m-3-5h0m0 4h0m-2-4h0m-15-1h0m-3 7h0m-1-9h0m-8 0h0m-5 7h0m-9-9h0m-35 3h0m-13 0h0m-32 7h0m752 7h0m3-1h0m11 1h0m-174 42h0m3-9h0m2 3h0m2 9h0m9-1h0m1 1h0m29-2h0m14-4h0m0 6h0m17-1h0m1 1h0m4 1h0m13-10h0m8 7h0m42-2h0m5 0h0m45-8h0m145 9h0m38 19h0m-65-2h0m-19 1h0m-20 2h0m-8-12h0m-15 2h0m-11-1h0m-1 2h0m-4 5h0m-6 1h0m-6-7h0m0 3h0m-3 5h0m-2-7h0m-12 1h0m-16-5h0m-4 1h0m-4 3h0m-7-3h0m-1 4h0m-10-6h0m-6 5h0m-2 8h0m-3-10h0m-8 0h0m0 2h0m-8 2h0m-1 3h0m-2-11h0m-20 15h0m-7-2h0m-1-5h0m-27-3h0m-3 1h0m-24 7h0m-5-7h0m-25 0h0m-3 1h0m-1-7h0m0 6h0m-17 0h0m-1-2h0m-8 2h0m-31 6h0m-2-2h0m-417 20h0m35-14h0m23 15h0m342-1h0m7-9h0m24 7h0m1 2h0m13-9h0m4 6h0m22-10h0m6 10h0m4 2h0m3-13h0m10 9h0m2-7h0m5 9h0m1-9h0m6 11h0m23-1h0m18-4h0m0 4h0m11-7h0m7 7h0m0 2h0m8-11h0m4 3h0m6 2h0m7 5h0m11-11h0m3 13h0m1-1h0m2-7h0m2 1h0m7 3h0m2-8h0m5 1h0m4 2h0m2-2h0m4 6h0m2-7h0m7-3h0m7 5h0m5 4h0m10 2h0m2 0h0m2-1h0m3 5h0m7-13h0m1 8h0m1-4h0m13 6h0m4-12h0m9 1h0m0 7h0m1-8h0m4 8h0m7 1h0m14 3h0m3-10h0m1 12h0m9-10h0m2-1h0m7 5h0m5 4h0m11-2h0m7-1h0m3-3h0m12 4h0m5-3h0m1-1h0m11-4h0m15 2h0m4 6h0m39 3h0m1-10h0m0 10h0m-2 3h0m-6 1h0m-5-1h0m-6 14h0m-17-1h0m-14-10h0m-16 0h0m-7 5h0m-13-1h0m-18-2h0m-2-4h0m-9 9h0m-6-4h0m-3 7h0m-5-11h0m-6 13h0m-4-14h0m-10 4h0m-49 10h0m-8-10h0m-7 4h0m-4-8h0m-19 8h0m-12-9h0m-12 7h0m-9 6h0m-11-9h0m-20 4h0m-8 7h0m-5-10h0m0 3h0m-3-8h0m-7 13h0m-19-10h0m-1 8h0m-9-3h0m-9 1h0m-3-8h0m-20 14h0m-12-14h0m-2 3h0m-9 6h0m-7 2h0m-32-5h0m-5-1h0m-31 6h0m-178-4h0m-1 3h0m0 1h0m-7-7h0m0 5h0m-6 5h0m-4-6h0m-3 5h0m-2-8h0m-3 2h0m-14 7h0m-2 0h0m-11-1h0m-3 0h0m-3 0h0m-1-2h0m-8 3h0m-2-8h0m-6 7h0m-13-2h0m-2-1h0m-6-3h0m-2 4h0m-5 3h0m-10-4h0m-3-3h0m-4-1h0m-2 3h0m-1 1h0m0 3h0m-3-5h0m-6 0h0m-7-8h0m-4 0h0m-2 8h0m-8-9h0m-2 5h0m-4 9h0m-3-2h0m-1-7h0m-1 1h0m-10-6h0m-5 2h0m-3 11h0m-1-13h0m-2 9h0m-2-3h0m-2 9h0m-14-9h0m-6 7h0m-13-2h0m-2 1h0m-9 0h0m-10-11h0m-11 1h0m-4 1h0m-3 10h0m-2 0h0m-2 0h0m-6-12h0m-7 4h0m-2 7h0m-3-4h0m-2 7h0m-3-9h0m-2-3h0m-2 0h0m-3 6h0m-5 0h0m-4-4h0m-1 5h0m-5-4h0m-2 9h0m-1-9h0m-8-1h0m-1-5h0m-7 7h0m0 7h0m-2-11h0m-2 7h0m-1 1h0m-5 2h0m-3 0h0m-10-9h0m-3 8h0m-9 4h0m11 10h0m9-10h0m5 5h0m1-2h0m0 7h0m9-3h0m4-3h0m2-2h0m4 8h0m3-4h0m16-6h0m2 1h0m0 14h0m7-9h0m9-3h0m3 0h0m11 11h0m4 0h0m2-11h0m2 8h0m5-9h0m3 6h0m4 2h0m1-5h0m0 8h0m6 2h0m1-8h0m4 1h0m1-7h0m11 1h0m1 6h0m1 0h0m1-6h0m2 3h0m2-1h0m0 8h0m3 3h0m2-2h0m4-10h0m3 9h0m2-1h0m3-11h0m6 14h0m8-4h0m16-10h0m7 4h0m10 4h0m6 0h0m2-6h0m3 9h0m3-6h0m1 8h0m7-6h0m4-1h0m6-5h0m2 14h0m4-8h0m7 5h0m5-11h0m10 8h0m8-9h0m3 4h0m4 4h0m10-1h0m3-5h0m0 4h0m11-2h0m1-1h0m3 9h0m2 3h0m4-6h0m8 1h0m11 3h0m3-9h0m2-2h0m6 10h0m3-2h0m8-7h0m212 11h0m8-3h0m18-3h0m2-8h0m13 4h0m1 2h0m3 5h0m12-11h0m35 8h0m2-3h0m6-4h0m97 8h0m1-7h0m11 9h0m29-5h0m4-3h0m3 8h0m9-5h0m15 8h0m33-13h0m6 5h0m2-1h0m5-3h0m12 6h0m52-7h0m5-1h0m7 1h0m9 14h0m33-3h0m-120 10h0m-25-6h0m-8 2h0m-34-2h0m-112 9h0m-48 1h0m-15-7h0m-9 0h0m-13 9h0m-3 3h0m-8-4h0m-21-5h0m-247-5h0m-5 2h0m-8-3h0m-5 5h0m-6 6h0m-35-2h0m-18-8h0m-4 5h0m-33 6h0m-7-11h0m-6 10h0m-9-3h0m-6 4h0m-20-2h0m-7-1h0m-2-5h0m-22-4h0m-2 1h0m-4 4h0m-8-3h0m-6-1h0m-1 11h0m-7 2h0m-13 0h0m-3-9h0m-6 6h0m-2 0h0m-8-6h0m-6-5h0m0 13h0m-11-9h0m-12-1h0m-11 12h0m-3 0h0m-9-8h0m-6-4h0m-17 5h0m-2-6h0m0 5h0m-7 0h0m-7 2h0m9 9h0m8 12h0m9-6h0m2-6h0m8 7h0m16-5h0m5 4h0m13-6h0m2 0h0m6 8h0m8 2h0m20-3h0m48-8h0m7 14h0m10-9h0m17-5h0m17 8h0m1 1h0m11 4h0m0-1h0m1-9h0m17 1h0m39-2h0m10 6h0m9-6h0m32-2h0m241 0h0m22 8h0m18 6h0m12-13h0m91 2h0m2 2h0m4-5h0m2 11h0m11-8h0m6-4h0m16 6h0m5-2h0m-41 27h0m-548-14h0m-13 8h0m-34-4h0m-72 6h0m-5-4h0m-13 5h0m-19-5h0m-2-3h0m220 20h0m464 3h0m-678 25h0m1008 151h0m0 2h0m-4-5h0m-20 0h0m-33-3h0m-2 6h0m-26 0h0m-6 0h0m-42-4h0m-15-2h0m-22 0h0m-13 0h0m-80 5h0m-2-3h0m-97 13h0m9 0h0m49 2h0m0 4h0m12-7h0m5 0h0m21 8h0m32 3h0m55 1h0m18-4h0m14-2h0m2-4h0m11 4h0m42 4h0m16 0h0m20-11h0m54 28h0m-29-6h0m-14-1h0m-11 5h0m-7-4h0m-14 1h0m-17-3h0m-15 8h0m-16-12h0m-4 9h0m-52-1h0m-39 1h0m-19-8h0m-16 1h0m-4 10h0m-16 0h0m-19-1h0m-28-12h0m-66 12h0m-21-1h0m-279 0h0m24 10h0m299 0h0m45 4h0m8-5h0m43-1h0m26 3h0m5 3h0m3-9h0m39 5h0m41-4h0m13 11h0m10-4h0m15 0h0m53-4h0m20 9h0m5-11h0m19 7h0m25 9h0m-8 12h0m-37-13h0m0 12h0m-17-14h0m-34 10h0m-37-7h0m-17 12h0m-15-2h0m-17-5h0m-18-5h0m-6 7h0m-1 1h0m-6-2h0m-8-5h0m-4 1h0m-19 3h0m-5 4h0m-6-12h0m-21 0h0m-16 12h0m-23-3h0m-8 0h0m-18 1h0m-20-4h0m-9-5h0m-4 9h0m-72 19h0m39-6h0m35-7h0m5 15h0m8-9h0m1 7h0m1-1h0m3-10h0m31-1h0m4 8h0m1 2h0m4 3h0m11-3h0m7-9h0m8 8h0m18-6h0m3-2h0m4 11h0m2-5h0m6-8h0m5 15h0m6-12h0m4 0h0m48 5h0m20 1h0m6-7h0m16 2h0m13 8h0m7 1h0m5-11h0m7 2h0m8-2h0m9 6h0m58-2h0m7 0h0m1 3h0m19 5h0m4-13h0m10 9h0m-16 13h0m-14-6h0m-2 5h0m-1-6h0m-1 2h0m-4 8h0m-25-3h0m0 1h0m-2-2h0m-17-1h0m-1 0h0m-2 10h0m-6-6h0m-2-6h0m-7 7h0m-26 0h0m-5 1h0m-7-2h0m0 6h0m-4 0h0m-5-12h0m-3 2h0m-4 8h0m-2 1h0m-3-9h0m-3 3h0m-14 3h0m-11-10h0m-1 6h0m-15-2h0m-1 9h0m-14-11h0m-5 11h0m-16-7h0m-7 4h0m-15-7h0m-15 8h0m-3-3h0m-2-3h0m-1-1h0m-28 1h0m-7 0h0m-4 3h0m-6 0h0m-13-1h0m-10 6h0m-9-3h0m-8-11h0m-30 13h0m-25-1h0m-3-4h0m-1 7h0m-5-5h0m-21 2h0m-207-4h0m-162 22h0m372-13h0m7 3h0m4 8h0m26-3h0m0 3h0m15-9h0m38 10h0m24-11h0m2 8h0m16-4h0m19 5h0m4 1h0m51-8h0m12 10h0m4 0h0m4 0h0m15-5h0m0 1h0m8-7h0m14 11h0m11-12h0m7-2h0m39 0h0m9 3h0m1 7h0m1 4h0m12-13h0m8-1h0m94 28h0m-20-4h0m-78-7h0m-19 12h0m-94-9h0m-34 4h0m-10-2h0m-12-2h0m0 11h0m-40-13h0m-2 4h0m-2-5h0m-1 8h0m-4 2h0m-24-3h0m-1 4h0m-6 2h0m-12-10h0m-41 8h0m-5 2h0m-1-13h0m-24 8h0m0 6h0m-242-1h0m-23 1h0m-135-7h0m-76 20h0m19-9h0m3 4h0m44 1h0m0 2h0m0 5h0m2-9h0m11 7h0m5-7h0m0 2h0m1 4h0m1 3h0m1-1h0m4-4h0m7 3h0m1-5h0m5 3h0m2-6h0m2 7h0m3-10h0m4 10h0m5-1h0m1-6h0m2-4h0m2 13h0m3-1h0m3-5h0m2 5h0m3-11h0m4 1h0m3 1h0m2 8h0m16-5h0m1-7h0m5 4h0m0 3h0m2-1h0m2 5h0m5 1h0m6-1h0m1-3h0m2-7h0m4 2h0m1 10h0m0 1h0m5-1h0m3-13h0m10 8h0m1 4h0m1 0h0m3-7h0m2 10h0m2-11h0m4 1h0m5 4h0m8-7h0m0 3h0m2 4h0m4 3h0m2-11h0m12 8h0m217-8h0m61 12h0m16-4h0m16-6h0m11 11h0m2-5h0m12 6h0m25 0h0m34-10h0m13-2h0m71-3h0m27 4h0m22 2h0m50-1h0m28-5h0m33 3h0m-1 13h0m-43 7h0m-272 0h0m-43-3h0m-22 4h0m-13 7h0m-22-1h0m-303-13h0m-12-1h0m-5 5h0m-9 0h0m0 1h0m-26-2h0m-6 1h0m-19-1h0m0 1h0m-1 3h0m-2-6h0m-7 2h0m0 2h0m-10-2h0m-1 5h0m-53-8h0m34 29h0m5-7h0m8-3h0m416-2h0m15 1h0m82 6h0m14 3h0m82-5h0m5 0h0m164 0h0m-379 13h0m-3 1h0m-390-4h0m-5 9h0m-13 4h0m-1-7h0m-73 24h0m8-2h0m3-3h0m10 0h0m31-7h0m3 12h0m4-10h0m2-1h0m4 5h0m49-5h0m623 6h0m9 3h0m92 11h0m-360 7h0m-400-2h0m-9 0h0m-23 1h0m-12-3h0m-1 3h0m-2-11h0m-8 6h0m-27-9h0m-11 4h0m-16 2h0m-33 13h0m11 11h0m9-14h0m0 1h0m8 2h0m3 2h0m3 7h0m2 3h0m10-1h0m2-9h0m1-2h0m12 1h0m2-3h0m12 3h0m7 2h0m3 5h0m16-8h0m3 0h0m5 12h0m4-3h0m19-7h0m434 21h0m-42-6h0m-15 5h0m-5-2h0m-361-1h0m-18 3h0m-14-7h0m-1 10h0m-4-3h0m-1-7h0m-48 8h0m-2-6h0m-2 11h0m-4-13h0m0 4h0m-1 4h0m-4-9h0m-1 4h0m-1 7h0m-9-2h0m-12-5h0m-4-2h0m-10 5h0m-11 3h0m-10-5h0m-8 12h0m2 8h0m12-8h0m15 8h0m2-5h0m28 10h0m17-12h0m0 10h0m6-1h0m13-4h0m5 2h0m8-7h0m6 1h0m1 8h0m4-1h0m6-2h0m5 1h0m1 5h0m4-6h0m15 1h0m1-10h0m0 14h0m536-4h0m-523 9h0m-41-1h0m-88 0h0m-34 1h0"/></g>
<rect x="84.4" y="75.2" width="196.4" height="2.7" fill="#000"/>
<rect x="378.6" y="71.7" width="195.7" height="2.7" fill="#000"/>
<path d="M74.6 73.8L78.0 79.6L71.2 79.6Z" fill="none" stroke="#000" stroke-width="1"/>
<path d="M74.6 83.7L78.0 89.5L71.2 89.5Z" fill="none" stroke="#ff0000" stroke-width="1"/>
<path d="M74.6 136.0L78.0 141.8L71.2 141.8Z" fill="none" stroke="#48c000" stroke-width="1"/>
<path d="M369.5 20.9L372.9 26.7L366.1 26.7Z" fill="none" stroke="#48c000" stroke-width="1"/>
<path d="M369.5 73.5L372.9 79.3L366.1 79.3Z" fill="none" stroke="#000" stroke-width="1"/>
<path d="M369.5 107.5L372.9 113.3L366.1 113.3Z" fill="none" stroke="#ff0000" stroke-width="1"/>
<path d="M74.6 300.5L78.0 306.3L71.2 306.3Z" fill="none" stroke="#48c000" stroke-width="1"/>
<path d="M369.5 277.5L372.9 283.3L366.1 283.3Z" fill="none" stroke="#48c000" stroke-width="1"/>
<path d="M58.50 2.30v3.8M58.50 150.80v-3.8M60.50 2.30v1.8M60.50 150.80v-1.8M63.50 2.30v1.8M63.50 150.80v-1.8M66.50 2.30v1.8M66.50 150.80v-1.8M69.50 2.30v1.8M69.50 150.80v-1.8M71.50 2.30v1.8M71.50 150.80v-1.8M74.50 2.30v1.8M74.50 150.80v-1.8M77.50 2.30v1.8M77.50 150.80v-1.8M80.50 2.30v1.8M80.50 150.80v-1.8M82.50 2.30v1.8M82.50 150.80v-1.8M85.50 2.30v1.8M85.50 150.80v-1.8M88.50 2.30v1.8M88.50 150.80v-1.8M91.50 2.30v1.8M91.50 150.80v-1.8M93.50 2.30v1.8M93.50 150.80v-1.8M96.50 2.30v1.8M96.50 150.80v-1.8M99.50 2.30v1.8M99.50 150.80v-1.8M102.50 2.30v1.8M102.50 150.80v-1.8M104.50 2.30v1.8M104.50 150.80v-1.8M107.50 2.30v1.8M107.50 150.80v-1.8M110.50 2.30v1.8M110.50 150.80v-1.8M113.50 2.30v3.8M113.50 150.80v-3.8M116.50 2.30v1.8M116.50 150.80v-1.8M118.50 2.30v1.8M118.50 150.80v-1.8M121.50 2.30v1.8M121.50 150.80v-1.8M124.50 2.30v1.8M124.50 150.80v-1.8M127.50 2.30v1.8M127.50 150.80v-1.8M129.50 2.30v1.8M129.50 150.80v-1.8M132.50 2.30v1.8M132.50 150.80v-1.8M135.50 2.30v1.8M135.50 150.80v-1.8M138.50 2.30v1.8M138.50 150.80v-1.8M140.50 2.30v1.8M140.50 150.80v-1.8M143.50 2.30v1.8M143.50 150.80v-1.8M146.50 2.30v1.8M146.50 150.80v-1.8M149.50 2.30v1.8M149.50 150.80v-1.8M151.50 2.30v1.8M151.50 150.80v-1.8M154.50 2.30v1.8M154.50 150.80v-1.8M157.50 2.30v1.8M157.50 150.80v-1.8M160.50 2.30v1.8M160.50 150.80v-1.8M163.50 2.30v1.8M163.50 150.80v-1.8M165.50 2.30v1.8M165.50 150.80v-1.8M168.50 2.30v3.8M168.50 150.80v-3.8M171.50 2.30v1.8M171.50 150.80v-1.8M174.50 2.30v1.8M174.50 150.80v-1.8M176.50 2.30v1.8M176.50 150.80v-1.8M179.50 2.30v1.8M179.50 150.80v-1.8M182.50 2.30v1.8M182.50 150.80v-1.8M185.50 2.30v1.8M185.50 150.80v-1.8M187.50 2.30v1.8M187.50 150.80v-1.8M190.50 2.30v1.8M190.50 150.80v-1.8M193.50 2.30v1.8M193.50 150.80v-1.8M196.50 2.30v1.8M196.50 150.80v-1.8M198.50 2.30v1.8M198.50 150.80v-1.8M201.50 2.30v1.8M201.50 150.80v-1.8M204.50 2.30v1.8M204.50 150.80v-1.8M207.50 2.30v1.8M207.50 150.80v-1.8M210.50 2.30v1.8M210.50 150.80v-1.8M212.50 2.30v1.8M212.50 150.80v-1.8M215.50 2.30v1.8M215.50 150.80v-1.8M218.50 2.30v1.8M218.50 150.80v-1.8M221.50 2.30v1.8M221.50 150.80v-1.8M223.50 2.30v3.8M223.50 150.80v-3.8M226.50 2.30v1.8M226.50 150.80v-1.8M229.50 2.30v1.8M229.50 150.80v-1.8M232.50 2.30v1.8M232.50 150.80v-1.8M234.50 2.30v1.8M234.50 150.80v-1.8M237.50 2.30v1.8M237.50 150.80v-1.8M240.50 2.30v1.8M240.50 150.80v-1.8M243.50 2.30v1.8M243.50 150.80v-1.8M245.50 2.30v1.8M245.50 150.80v-1.8M248.50 2.30v1.8M248.50 150.80v-1.8M251.50 2.30v1.8M251.50 150.80v-1.8M254.50 2.30v1.8M254.50 150.80v-1.8M257.50 2.30v1.8M257.50 150.80v-1.8M259.50 2.30v1.8M259.50 150.80v-1.8M262.50 2.30v1.8M262.50 150.80v-1.8M265.50 2.30v1.8M265.50 150.80v-1.8M268.50 2.30v1.8M268.50 150.80v-1.8M270.50 2.30v1.8M270.50 150.80v-1.8M273.50 2.30v1.8M273.50 150.80v-1.8M276.50 2.30v1.8M276.50 150.80v-1.8M279.50 2.30v3.8M279.50 150.80v-3.8M281.50 2.30v1.8M281.50 150.80v-1.8M284.50 2.30v1.8M284.50 150.80v-1.8M287.50 2.30v1.8M287.50 150.80v-1.8M290.50 2.30v1.8M290.50 150.80v-1.8M292.50 2.30v1.8M292.50 150.80v-1.8M295.50 2.30v1.8M295.50 150.80v-1.8M298.50 2.30v1.8M298.50 150.80v-1.8M301.50 2.30v1.8M301.50 150.80v-1.8M304.50 2.30v1.8M304.50 150.80v-1.8M306.50 2.30v1.8M306.50 150.80v-1.8M309.50 2.30v1.8M309.50 150.80v-1.8M312.50 2.30v1.8M312.50 150.80v-1.8M315.50 2.30v1.8M315.50 150.80v-1.8M317.50 2.30v1.8M317.50 150.80v-1.8M320.50 2.30v1.8M320.50 150.80v-1.8M323.50 2.30v1.8M323.50 150.80v-1.8M326.50 2.30v1.8M326.50 150.80v-1.8M328.50 2.30v1.8M328.50 150.80v-1.8M331.50 2.30v1.8M331.50 150.80v-1.8M334.50 2.30v3.8M334.50 150.80v-3.8M58.00 150.50h2.8M334.45 150.50h-2.8M58.00 146.50h2.8M334.45 146.50h-2.8M58.00 143.50h5.8M334.45 143.50h-5.8M58.00 140.50h2.8M334.45 140.50h-2.8M58.00 136.50h2.8M334.45 136.50h-2.8M58.00 133.50h2.8M334.45 133.50h-2.8M58.00 130.50h2.8M334.45 130.50h-2.8M58.00 126.50h2.8M334.45 126.50h-2.8M58.00 123.50h2.8M334.45 123.50h-2.8M58.00 119.50h2.8M334.45 119.50h-2.8M58.00 116.50h2.8M334.45 116.50h-2.8M58.00 113.50h2.8M334.45 113.50h-2.8M58.00 109.50h5.8M334.45 109.50h-5.8M58.00 106.50h2.8M334.45 106.50h-2.8M58.00 103.50h2.8M334.45 103.50h-2.8M58.00 99.50h2.8M334.45 99.50h-2.8M58.00 96.50h2.8M334.45 96.50h-2.8M58.00 93.50h2.8M334.45 93.50h-2.8M58.00 89.50h2.8M334.45 89.50h-2.8M58.00 86.50h2.8M334.45 86.50h-2.8M58.00 83.50h2.8M334.45 83.50h-2.8M58.00 79.50h2.8M334.45 79.50h-2.8M58.00 76.50h5.8M334.45 76.50h-5.8M58.00 73.50h2.8M334.45 73.50h-2.8M58.00 69.50h2.8M334.45 69.50h-2.8M58.00 66.50h2.8M334.45 66.50h-2.8M58.00 63.50h2.8M334.45 63.50h-2.8M58.00 59.50h2.8M334.45 59.50h-2.8M58.00 56.50h2.8M334.45 56.50h-2.8M58.00 53.50h2.8M334.45 53.50h-2.8M58.00 49.50h2.8M334.45 49.50h-2.8M58.00 46.50h2.8M334.45 46.50h-2.8M58.00 43.50h5.8M334.45 43.50h-5.8M58.00 39.50h2.8M334.45 39.50h-2.8M58.00 36.50h2.8M334.45 36.50h-2.8M58.00 33.50h2.8M334.45 33.50h-2.8M58.00 29.50h2.8M334.45 29.50h-2.8M58.00 26.50h2.8M334.45 26.50h-2.8M58.00 23.50h2.8M334.45 23.50h-2.8M58.00 19.50h2.8M334.45 19.50h-2.8M58.00 16.50h2.8M334.45 16.50h-2.8M58.00 13.50h2.8M334.45 13.50h-2.8M58.00 9.50h5.8M334.45 9.50h-5.8M58.00 6.50h2.8M334.45 6.50h-2.8M58.00 3.50h2.8M334.45 3.50h-2.8" stroke="#000" stroke-width="1.2" fill="none"/>
<rect x="58.00" y="2.30" width="276.45" height="148.50" stroke="#000" stroke-width="2" fill="none"/>
<path d="M58.50 157.00v3.8M58.50 305.50v-3.8M60.50 157.00v1.8M60.50 305.50v-1.8M63.50 157.00v1.8M63.50 305.50v-1.8M66.50 157.00v1.8M66.50 305.50v-1.8M69.50 157.00v1.8M69.50 305.50v-1.8M71.50 157.00v1.8M71.50 305.50v-1.8M74.50 157.00v1.8M74.50 305.50v-1.8M77.50 157.00v1.8M77.50 305.50v-1.8M80.50 157.00v1.8M80.50 305.50v-1.8M82.50 157.00v1.8M82.50 305.50v-1.8M85.50 157.00v1.8M85.50 305.50v-1.8M88.50 157.00v1.8M88.50 305.50v-1.8M91.50 157.00v1.8M91.50 305.50v-1.8M93.50 157.00v1.8M93.50 305.50v-1.8M96.50 157.00v1.8M96.50 305.50v-1.8M99.50 157.00v1.8M99.50 305.50v-1.8M102.50 157.00v1.8M102.50 305.50v-1.8M104.50 157.00v1.8M104.50 305.50v-1.8M107.50 157.00v1.8M107.50 305.50v-1.8M110.50 157.00v1.8M110.50 305.50v-1.8M113.50 157.00v3.8M113.50 305.50v-3.8M116.50 157.00v1.8M116.50 305.50v-1.8M118.50 157.00v1.8M118.50 305.50v-1.8M121.50 157.00v1.8M121.50 305.50v-1.8M124.50 157.00v1.8M124.50 305.50v-1.8M127.50 157.00v1.8M127.50 305.50v-1.8M129.50 157.00v1.8M129.50 305.50v-1.8M132.50 157.00v1.8M132.50 305.50v-1.8M135.50 157.00v1.8M135.50 305.50v-1.8M138.50 157.00v1.8M138.50 305.50v-1.8M140.50 157.00v1.8M140.50 305.50v-1.8M143.50 157.00v1.8M143.50 305.50v-1.8M146.50 157.00v1.8M146.50 305.50v-1.8M149.50 157.00v1.8M149.50 305.50v-1.8M151.50 157.00v1.8M151.50 305.50v-1.8M154.50 157.00v1.8M154.50 305.50v-1.8M157.50 157.00v1.8M157.50 305.50v-1.8M160.50 157.00v1.8M160.50 305.50v-1.8M163.50 157.00v1.8M163.50 305.50v-1.8M165.50 157.00v1.8M165.50 305.50v-1.8M168.50 157.00v3.8M168.50 305.50v-3.8M171.50 157.00v1.8M171.50 305.50v-1.8M174.50 157.00v1.8M174.50 305.50v-1.8M176.50 157.00v1.8M176.50 305.50v-1.8M179.50 157.00v1.8M179.50 305.50v-1.8M182.50 157.00v1.8M182.50 305.50v-1.8M185.50 157.00v1.8M185.50 305.50v-1.8M187.50 157.00v1.8M187.50 305.50v-1.8M190.50 157.00v1.8M190.50 305.50v-1.8M193.50 157.00v1.8M193.50 305.50v-1.8M196.50 157.00v1.8M196.50 305.50v-1.8M198.50 157.00v1.8M198.50 305.50v-1.8M201.50 157.00v1.8M201.50 305.50v-1.8M204.50 157.00v1.8M204.50 305.50v-1.8M207.50 157.00v1.8M207.50 305.50v-1.8M210.50 157.00v1.8M210.50 305.50v-1.8M212.50 157.00v1.8M212.50 305.50v-1.8M215.50 157.00v1.8M215.50 305.50v-1.8M218.50 157.00v1.8M218.50 305.50v-1.8M221.50 157.00v1.8M221.50 305.50v-1.8M223.50 157.00v3.8M223.50 305.50v-3.8M226.50 157.00v1.8M226.50 305.50v-1.8M229.50 157.00v1.8M229.50 305.50v-1.8M232.50 157.00v1.8M232.50 305.50v-1.8M234.50 157.00v1.8M234.50 305.50v-1.8M237.50 157.00v1.8M237.50 305.50v-1.8M240.50 157.00v1.8M240.50 305.50v-1.8M243.50 157.00v1.8M243.50 305.50v-1.8M245.50 157.00v1.8M245.50 305.50v-1.8M248.50 157.00v1.8M248.50 305.50v-1.8M251.50 157.00v1.8M251.50 305.50v-1.8M254.50 157.00v1.8M254.50 305.50v-1.8M257.50 157.00v1.8M257.50 305.50v-1.8M259.50 157.00v1.8M259.50 305.50v-1.8M262.50 157.00v1.8M262.50 305.50v-1.8M265.50 157.00v1.8M265.50 305.50v-1.8M268.50 157.00v1.8M268.50 305.50v-1.8M270.50 157.00v1.8M270.50 305.50v-1.8M273.50 157.00v1.8M273.50 305.50v-1.8M276.50 157.00v1.8M276.50 305.50v-1.8M279.50 157.00v3.8M279.50 305.50v-3.8M281.50 157.00v1.8M281.50 305.50v-1.8M284.50 157.00v1.8M284.50 305.50v-1.8M287.50 157.00v1.8M287.50 305.50v-1.8M290.50 157.00v1.8M290.50 305.50v-1.8M292.50 157.00v1.8M292.50 305.50v-1.8M295.50 157.00v1.8M295.50 305.50v-1.8M298.50 157.00v1.8M298.50 305.50v-1.8M301.50 157.00v1.8M301.50 305.50v-1.8M304.50 157.00v1.8M304.50 305.50v-1.8M306.50 157.00v1.8M306.50 305.50v-1.8M309.50 157.00v1.8M309.50 305.50v-1.8M312.50 157.00v1.8M312.50 305.50v-1.8M315.50 157.00v1.8M315.50 305.50v-1.8M317.50 157.00v1.8M317.50 305.50v-1.8M320.50 157.00v1.8M320.50 305.50v-1.8M323.50 157.00v1.8M323.50 305.50v-1.8M326.50 157.00v1.8M326.50 305.50v-1.8M328.50 157.00v1.8M328.50 305.50v-1.8M331.50 157.00v1.8M331.50 305.50v-1.8M334.50 157.00v3.8M334.50 305.50v-3.8M58.00 305.50h5.8M334.45 305.50h-5.8M58.00 294.50h2.8M334.45 294.50h-2.8M58.00 287.50h2.8M334.45 287.50h-2.8M58.00 283.50h2.8M334.45 283.50h-2.8M58.00 279.50h2.8M334.45 279.50h-2.8M58.00 276.50h2.8M334.45 276.50h-2.8M58.00 274.50h2.8M334.45 274.50h-2.8M58.00 271.50h2.8M334.45 271.50h-2.8M58.00 270.50h2.8M334.45 270.50h-2.8M58.00 268.50h5.8M334.45 268.50h-5.8M58.00 257.50h2.8M334.45 257.50h-2.8M58.00 250.50h2.8M334.45 250.50h-2.8M58.00 246.50h2.8M334.45 246.50h-2.8M58.00 242.50h2.8M334.45 242.50h-2.8M58.00 239.50h2.8M334.45 239.50h-2.8M58.00 237.50h2.8M334.45 237.50h-2.8M58.00 234.50h2.8M334.45 234.50h-2.8M58.00 232.50h2.8M334.45 232.50h-2.8M58.00 231.50h5.8M334.45 231.50h-5.8M58.00 220.50h2.8M334.45 220.50h-2.8M58.00 213.50h2.8M334.45 213.50h-2.8M58.00 208.50h2.8M334.45 208.50h-2.8M58.00 205.50h2.8M334.45 205.50h-2.8M58.00 202.50h2.8M334.45 202.50h-2.8M58.00 199.50h2.8M334.45 199.50h-2.8M58.00 197.50h2.8M334.45 197.50h-2.8M58.00 195.50h2.8M334.45 195.50h-2.8M58.00 194.50h5.8M334.45 194.50h-5.8M58.00 182.50h2.8M334.45 182.50h-2.8M58.00 176.50h2.8M334.45 176.50h-2.8M58.00 171.50h2.8M334.45 171.50h-2.8M58.00 168.50h2.8M334.45 168.50h-2.8M58.00 165.50h2.8M334.45 165.50h-2.8M58.00 162.50h2.8M334.45 162.50h-2.8M58.00 160.50h2.8M334.45 160.50h-2.8M58.00 158.50h2.8M334.45 158.50h-2.8M58.00 157.50h5.8M334.45 157.50h-5.8" stroke="#000" stroke-width="1.2" fill="none"/>
<rect x="58.00" y="157.00" width="276.45" height="148.50" stroke="#000" stroke-width="2" fill="none"/>
<path d="M58.50 312.00v3.8M58.50 460.20v-3.8M60.50 312.00v1.8M60.50 460.20v-1.8M63.50 312.00v1.8M63.50 460.20v-1.8M66.50 312.00v1.8M66.50 460.20v-1.8M69.50 312.00v1.8M69.50 460.20v-1.8M71.50 312.00v1.8M71.50 460.20v-1.8M74.50 312.00v1.8M74.50 460.20v-1.8M77.50 312.00v1.8M77.50 460.20v-1.8M80.50 312.00v1.8M80.50 460.20v-1.8M82.50 312.00v1.8M82.50 460.20v-1.8M85.50 312.00v1.8M85.50 460.20v-1.8M88.50 312.00v1.8M88.50 460.20v-1.8M91.50 312.00v1.8M91.50 460.20v-1.8M93.50 312.00v1.8M93.50 460.20v-1.8M96.50 312.00v1.8M96.50 460.20v-1.8M99.50 312.00v1.8M99.50 460.20v-1.8M102.50 312.00v1.8M102.50 460.20v-1.8M104.50 312.00v1.8M104.50 460.20v-1.8M107.50 312.00v1.8M107.50 460.20v-1.8M110.50 312.00v1.8M110.50 460.20v-1.8M113.50 312.00v3.8M113.50 460.20v-3.8M116.50 312.00v1.8M116.50 460.20v-1.8M118.50 312.00v1.8M118.50 460.20v-1.8M121.50 312.00v1.8M121.50 460.20v-1.8M124.50 312.00v1.8M124.50 460.20v-1.8M127.50 312.00v1.8M127.50 460.20v-1.8M129.50 312.00v1.8M129.50 460.20v-1.8M132.50 312.00v1.8M132.50 460.20v-1.8M135.50 312.00v1.8M135.50 460.20v-1.8M138.50 312.00v1.8M138.50 460.20v-1.8M140.50 312.00v1.8M140.50 460.20v-1.8M143.50 312.00v1.8M143.50 460.20v-1.8M146.50 312.00v1.8M146.50 460.20v-1.8M149.50 312.00v1.8M149.50 460.20v-1.8M151.50 312.00v1.8M151.50 460.20v-1.8M154.50 312.00v1.8M154.50 460.20v-1.8M157.50 312.00v1.8M157.50 460.20v-1.8M160.50 312.00v1.8M160.50 460.20v-1.8M163.50 312.00v1.8M163.50 460.20v-1.8M165.50 312.00v1.8M165.50 460.20v-1.8M168.50 312.00v3.8M168.50 460.20v-3.8M171.50 312.00v1.8M171.50 460.20v-1.8M174.50 312.00v1.8M174.50 460.20v-1.8M176.50 312.00v1.8M176.50 460.20v-1.8M179.50 312.00v1.8M179.50 460.20v-1.8M182.50 312.00v1.8M182.50 460.20v-1.8M185.50 312.00v1.8M185.50 460.20v-1.8M187.50 312.00v1.8M187.50 460.20v-1.8M190.50 312.00v1.8M190.50 460.20v-1.8M193.50 312.00v1.8M193.50 460.20v-1.8M196.50 312.00v1.8M196.50 460.20v-1.8M198.50 312.00v1.8M198.50 460.20v-1.8M201.50 312.00v1.8M201.50 460.20v-1.8M204.50 312.00v1.8M204.50 460.20v-1.8M207.50 312.00v1.8M207.50 460.20v-1.8M210.50 312.00v1.8M210.50 460.20v-1.8M212.50 312.00v1.8M212.50 460.20v-1.8M215.50 312.00v1.8M215.50 460.20v-1.8M218.50 312.00v1.8M218.50 460.20v-1.8M221.50 312.00v1.8M221.50 460.20v-1.8M223.50 312.00v3.8M223.50 460.20v-3.8M226.50 312.00v1.8M226.50 460.20v-1.8M229.50 312.00v1.8M229.50 460.20v-1.8M232.50 312.00v1.8M232.50 460.20v-1.8M234.50 312.00v1.8M234.50 460.20v-1.8M237.50 312.00v1.8M237.50 460.20v-1.8M240.50 312.00v1.8M240.50 460.20v-1.8M243.50 312.00v1.8M243.50 460.20v-1.8M245.50 312.00v1.8M245.50 460.20v-1.8M248.50 312.00v1.8M248.50 460.20v-1.8M251.50 312.00v1.8M251.50 460.20v-1.8M254.50 312.00v1.8M254.50 460.20v-1.8M257.50 312.00v1.8M257.50 460.20v-1.8M259.50 312.00v1.8M259.50 460.20v-1.8M262.50 312.00v1.8M262.50 460.20v-1.8M265.50 312.00v1.8M265.50 460.20v-1.8M268.50 312.00v1.8M268.50 460.20v-1.8M270.50 312.00v1.8M270.50 460.20v-1.8M273.50 312.00v1.8M273.50 460.20v-1.8M276.50 312.00v1.8M276.50 460.20v-1.8M279.50 312.00v3.8M279.50 460.20v-3.8M281.50 312.00v1.8M281.50 460.20v-1.8M284.50 312.00v1.8M284.50 460.20v-1.8M287.50 312.00v1.8M287.50 460.20v-1.8M290.50 312.00v1.8M290.50 460.20v-1.8M292.50 312.00v1.8M292.50 460.20v-1.8M295.50 312.00v1.8M295.50 460.20v-1.8M298.50 312.00v1.8M298.50 460.20v-1.8M301.50 312.00v1.8M301.50 460.20v-1.8M304.50 312.00v1.8M304.50 460.20v-1.8M306.50 312.00v1.8M306.50 460.20v-1.8M309.50 312.00v1.8M309.50 460.20v-1.8M312.50 312.00v1.8M312.50 460.20v-1.8M315.50 312.00v1.8M315.50 460.20v-1.8M317.50 312.00v1.8M317.50 460.20v-1.8M320.50 312.00v1.8M320.50 460.20v-1.8M323.50 312.00v1.8M323.50 460.20v-1.8M326.50 312.00v1.8M326.50 460.20v-1.8M328.50 312.00v1.8M328.50 460.20v-1.8M331.50 312.00v1.8M331.50 460.20v-1.8M334.50 312.00v3.8M334.50 460.20v-3.8M58.00 460.50h5.8M334.45 460.50h-5.8M58.00 450.50h2.8M334.45 450.50h-2.8M58.00 441.50h2.8M334.45 441.50h-2.8M58.00 432.50h2.8M334.45 432.50h-2.8M58.00 423.50h5.8M334.45 423.50h-5.8M58.00 413.50h2.8M334.45 413.50h-2.8M58.00 404.50h2.8M334.45 404.50h-2.8M58.00 395.50h2.8M334.45 395.50h-2.8M58.00 386.50h5.8M334.45 386.50h-5.8M58.00 376.50h2.8M334.45 376.50h-2.8M58.00 367.50h2.8M334.45 367.50h-2.8M58.00 358.50h2.8M334.45 358.50h-2.8M58.00 349.50h5.8M334.45 349.50h-5.8M58.00 339.50h2.8M334.45 339.50h-2.8M58.00 330.50h2.8M334.45 330.50h-2.8M58.00 321.50h2.8M334.45 321.50h-2.8M58.00 312.50h5.8M334.45 312.50h-5.8" stroke="#000" stroke-width="1.2" fill="none"/>
<rect x="58.00" y="312.00" width="276.45" height="148.20" stroke="#000" stroke-width="2" fill="none"/>
<path d="M352.50 2.30v3.8M352.50 150.80v-3.8M355.50 2.30v1.8M355.50 150.80v-1.8M358.50 2.30v1.8M358.50 150.80v-1.8M361.50 2.30v1.8M361.50 150.80v-1.8M364.50 2.30v1.8M364.50 150.80v-1.8M366.50 2.30v1.8M366.50 150.80v-1.8M369.50 2.30v1.8M369.50 150.80v-1.8M372.50 2.30v1.8M372.50 150.80v-1.8M375.50 2.30v1.8M375.50 150.80v-1.8M377.50 2.30v1.8M377.50 150.80v-1.8M380.50 2.30v1.8M380.50 150.80v-1.8M383.50 2.30v1.8M383.50 150.80v-1.8M386.50 2.30v1.8M386.50 150.80v-1.8M388.50 2.30v1.8M388.50 150.80v-1.8M391.50 2.30v1.8M391.50 150.80v-1.8M394.50 2.30v1.8M394.50 150.80v-1.8M397.50 2.30v1.8M397.50 150.80v-1.8M399.50 2.30v1.8M399.50 150.80v-1.8M402.50 2.30v1.8M402.50 150.80v-1.8M405.50 2.30v1.8M405.50 150.80v-1.8M408.50 2.30v3.8M408.50 150.80v-3.8M411.50 2.30v1.8M411.50 150.80v-1.8M413.50 2.30v1.8M413.50 150.80v-1.8M416.50 2.30v1.8M416.50 150.80v-1.8M419.50 2.30v1.8M419.50 150.80v-1.8M422.50 2.30v1.8M422.50 150.80v-1.8M424.50 2.30v1.8M424.50 150.80v-1.8M427.50 2.30v1.8M427.50 150.80v-1.8M430.50 2.30v1.8M430.50 150.80v-1.8M433.50 2.30v1.8M433.50 150.80v-1.8M435.50 2.30v1.8M435.50 150.80v-1.8M438.50 2.30v1.8M438.50 150.80v-1.8M441.50 2.30v1.8M441.50 150.80v-1.8M444.50 2.30v1.8M444.50 150.80v-1.8M446.50 2.30v1.8M446.50 150.80v-1.8M449.50 2.30v1.8M449.50 150.80v-1.8M452.50 2.30v1.8M452.50 150.80v-1.8M455.50 2.30v1.8M455.50 150.80v-1.8M458.50 2.30v1.8M458.50 150.80v-1.8M460.50 2.30v1.8M460.50 150.80v-1.8M463.50 2.30v3.8M463.50 150.80v-3.8M466.50 2.30v1.8M466.50 150.80v-1.8M469.50 2.30v1.8M469.50 150.80v-1.8M471.50 2.30v1.8M471.50 150.80v-1.8M474.50 2.30v1.8M474.50 150.80v-1.8M477.50 2.30v1.8M477.50 150.80v-1.8M480.50 2.30v1.8M480.50 150.80v-1.8M482.50 2.30v1.8M482.50 150.80v-1.8M485.50 2.30v1.8M485.50 150.80v-1.8M488.50 2.30v1.8M488.50 150.80v-1.8M491.50 2.30v1.8M491.50 150.80v-1.8M493.50 2.30v1.8M493.50 150.80v-1.8M496.50 2.30v1.8M496.50 150.80v-1.8M499.50 2.30v1.8M499.50 150.80v-1.8M502.50 2.30v1.8M502.50 150.80v-1.8M504.50 2.30v1.8M504.50 150.80v-1.8M507.50 2.30v1.8M507.50 150.80v-1.8M510.50 2.30v1.8M510.50 150.80v-1.8M513.50 2.30v1.8M513.50 150.80v-1.8M516.50 2.30v1.8M516.50 150.80v-1.8M518.50 2.30v3.8M518.50 150.80v-3.8M521.50 2.30v1.8M521.50 150.80v-1.8M524.50 2.30v1.8M524.50 150.80v-1.8M527.50 2.30v1.8M527.50 150.80v-1.8M529.50 2.30v1.8M529.50 150.80v-1.8M532.50 2.30v1.8M532.50 150.80v-1.8M535.50 2.30v1.8M535.50 150.80v-1.8M538.50 2.30v1.8M538.50 150.80v-1.8M540.50 2.30v1.8M540.50 150.80v-1.8M543.50 2.30v1.8M543.50 150.80v-1.8M546.50 2.30v1.8M546.50 150.80v-1.8M549.50 2.30v1.8M549.50 150.80v-1.8M551.50 2.30v1.8M551.50 150.80v-1.8M554.50 2.30v1.8M554.50 150.80v-1.8M557.50 2.30v1.8M557.50 150.80v-1.8M560.50 2.30v1.8M560.50 150.80v-1.8M563.50 2.30v1.8M563.50 150.80v-1.8M565.50 2.30v1.8M565.50 150.80v-1.8M568.50 2.30v1.8M568.50 150.80v-1.8M571.50 2.30v1.8M571.50 150.80v-1.8M574.50 2.30v3.8M574.50 150.80v-3.8M576.50 2.30v1.8M576.50 150.80v-1.8M579.50 2.30v1.8M579.50 150.80v-1.8M582.50 2.30v1.8M582.50 150.80v-1.8M585.50 2.30v1.8M585.50 150.80v-1.8M587.50 2.30v1.8M587.50 150.80v-1.8M590.50 2.30v1.8M590.50 150.80v-1.8M593.50 2.30v1.8M593.50 150.80v-1.8M596.50 2.30v1.8M596.50 150.80v-1.8M598.50 2.30v1.8M598.50 150.80v-1.8M601.50 2.30v1.8M601.50 150.80v-1.8M604.50 2.30v1.8M604.50 150.80v-1.8M607.50 2.30v1.8M607.50 150.80v-1.8M610.50 2.30v1.8M610.50 150.80v-1.8M612.50 2.30v1.8M612.50 150.80v-1.8M615.50 2.30v1.8M615.50 150.80v-1.8M618.50 2.30v1.8M618.50 150.80v-1.8M621.50 2.30v1.8M621.50 150.80v-1.8M623.50 2.30v1.8M623.50 150.80v-1.8M626.50 2.30v1.8M626.50 150.80v-1.8M629.50 2.30v3.8M629.50 150.80v-3.8M352.95 150.50h2.8M629.40 150.50h-2.8M352.95 146.50h2.8M629.40 146.50h-2.8M352.95 143.50h5.8M629.40 143.50h-5.8M352.95 140.50h2.8M629.40 140.50h-2.8M352.95 136.50h2.8M629.40 136.50h-2.8M352.95 133.50h2.8M629.40 133.50h-2.8M352.95 130.50h2.8M629.40 130.50h-2.8M352.95 126.50h2.8M629.40 126.50h-2.8M352.95 123.50h2.8M629.40 123.50h-2.8M352.95 119.50h2.8M629.40 119.50h-2.8M352.95 116.50h2.8M629.40 116.50h-2.8M352.95 113.50h2.8M629.40 113.50h-2.8M352.95 109.50h5.8M629.40 109.50h-5.8M352.95 106.50h2.8M629.40 106.50h-2.8M352.95 103.50h2.8M629.40 103.50h-2.8M352.95 99.50h2.8M629.40 99.50h-2.8M352.95 96.50h2.8M629.40 96.50h-2.8M352.95 93.50h2.8M629.40 93.50h-2.8M352.95 89.50h2.8M629.40 89.50h-2.8M352.95 86.50h2.8M629.40 86.50h-2.8M352.95 83.50h2.8M629.40 83.50h-2.8M352.95 79.50h2.8M629.40 79.50h-2.8M352.95 76.50h5.8M629.40 76.50h-5.8M352.95 73.50h2.8M629.40 73.50h-2.8M352.95 69.50h2.8M629.40 69.50h-2.8M352.95 66.50h2.8M629.40 66.50h-2.8M352.95 63.50h2.8M629.40 63.50h-2.8M352.95 59.50h2.8M629.40 59.50h-2.8M352.95 56.50h2.8M629.40 56.50h-2.8M352.95 53.50h2.8M629.40 53.50h-2.8M352.95 49.50h2.8M629.40 49.50h-2.8M352.95 46.50h2.8M629.40 46.50h-2.8M352.95 43.50h5.8M629.40 43.50h-5.8M352.95 39.50h2.8M629.40 39.50h-2.8M352.95 36.50h2.8M629.40 36.50h-2.8M352.95 33.50h2.8M629.40 33.50h-2.8M352.95 29.50h2.8M629.40 29.50h-2.8M352.95 26.50h2.8M629.40 26.50h-2.8M352.95 23.50h2.8M629.40 23.50h-2.8M352.95 19.50h2.8M629.40 19.50h-2.8M352.95 16.50h2.8M629.40 16.50h-2.8M352.95 13.50h2.8M629.40 13.50h-2.8M352.95 9.50h5.8M629.40 9.50h-5.8M352.95 6.50h2.8M629.40 6.50h-2.8M352.95 3.50h2.8M629.40 3.50h-2.8" stroke="#000" stroke-width="1.2" fill="none"/>
<rect x="352.95" y="2.30" width="276.45" height="148.50" stroke="#000" stroke-width="2" fill="none"/>
<path d="M352.50 157.00v3.8M352.50 305.50v-3.8M355.50 157.00v1.8M355.50 305.50v-1.8M358.50 157.00v1.8M358.50 305.50v-1.8M361.50 157.00v1.8M361.50 305.50v-1.8M364.50 157.00v1.8M364.50 305.50v-1.8M366.50 157.00v1.8M366.50 305.50v-1.8M369.50 157.00v1.8M369.50 305.50v-1.8M372.50 157.00v1.8M372.50 305.50v-1.8M375.50 157.00v1.8M375.50 305.50v-1.8M377.50 157.00v1.8M377.50 305.50v-1.8M380.50 157.00v1.8M380.50 305.50v-1.8M383.50 157.00v1.8M383.50 305.50v-1.8M386.50 157.00v1.8M386.50 305.50v-1.8M388.50 157.00v1.8M388.50 305.50v-1.8M391.50 157.00v1.8M391.50 305.50v-1.8M394.50 157.00v1.8M394.50 305.50v-1.8M397.50 157.00v1.8M397.50 305.50v-1.8M399.50 157.00v1.8M399.50 305.50v-1.8M402.50 157.00v1.8M402.50 305.50v-1.8M405.50 157.00v1.8M405.50 305.50v-1.8M408.50 157.00v3.8M408.50 305.50v-3.8M411.50 157.00v1.8M411.50 305.50v-1.8M413.50 157.00v1.8M413.50 305.50v-1.8M416.50 157.00v1.8M416.50 305.50v-1.8M419.50 157.00v1.8M419.50 305.50v-1.8M422.50 157.00v1.8M422.50 305.50v-1.8M424.50 157.00v1.8M424.50 305.50v-1.8M427.50 157.00v1.8M427.50 305.50v-1.8M430.50 157.00v1.8M430.50 305.50v-1.8M433.50 157.00v1.8M433.50 305.50v-1.8M435.50 157.00v1.8M435.50 305.50v-1.8M438.50 157.00v1.8M438.50 305.50v-1.8M441.50 157.00v1.8M441.50 305.50v-1.8M444.50 157.00v1.8M444.50 305.50v-1.8M446.50 157.00v1.8M446.50 305.50v-1.8M449.50 157.00v1.8M449.50 305.50v-1.8M452.50 157.00v1.8M452.50 305.50v-1.8M455.50 157.00v1.8M455.50 305.50v-1.8M458.50 157.00v1.8M458.50 305.50v-1.8M460.50 157.00v1.8M460.50 305.50v-1.8M463.50 157.00v3.8M463.50 305.50v-3.8M466.50 157.00v1.8M466.50 305.50v-1.8M469.50 157.00v1.8M469.50 305.50v-1.8M471.50 157.00v1.8M471.50 305.50v-1.8M474.50 157.00v1.8M474.50 305.50v-1.8M477.50 157.00v1.8M477.50 305.50v-1.8M480.50 157.00v1.8M480.50 305.50v-1.8M482.50 157.00v1.8M482.50 305.50v-1.8M485.50 157.00v1.8M485.50 305.50v-1.8M488.50 157.00v1.8M488.50 305.50v-1.8M491.50 157.00v1.8M491.50 305.50v-1.8M493.50 157.00v1.8M493.50 305.50v-1.8M496.50 157.00v1.8M496.50 305.50v-1.8M499.50 157.00v1.8M499.50 305.50v-1.8M502.50 157.00v1.8M502.50 305.50v-1.8M504.50 157.00v1.8M504.50 305.50v-1.8M507.50 157.00v1.8M507.50 305.50v-1.8M510.50 157.00v1.8M510.50 305.50v-1.8M513.50 157.00v1.8M513.50 305.50v-1.8M516.50 157.00v1.8M516.50 305.50v-1.8M518.50 157.00v3.8M518.50 305.50v-3.8M521.50 157.00v1.8M521.50 305.50v-1.8M524.50 157.00v1.8M524.50 305.50v-1.8M527.50 157.00v1.8M527.50 305.50v-1.8M529.50 157.00v1.8M529.50 305.50v-1.8M532.50 157.00v1.8M532.50 305.50v-1.8M535.50 157.00v1.8M535.50 305.50v-1.8M538.50 157.00v1.8M538.50 305.50v-1.8M540.50 157.00v1.8M540.50 305.50v-1.8M543.50 157.00v1.8M543.50 305.50v-1.8M546.50 157.00v1.8M546.50 305.50v-1.8M549.50 157.00v1.8M549.50 305.50v-1.8M551.50 157.00v1.8M551.50 305.50v-1.8M554.50 157.00v1.8M554.50 305.50v-1.8M557.50 157.00v1.8M557.50 305.50v-1.8M560.50 157.00v1.8M560.50 305.50v-1.8M563.50 157.00v1.8M563.50 305.50v-1.8M565.50 157.00v1.8M565.50 305.50v-1.8M568.50 157.00v1.8M568.50 305.50v-1.8M571.50 157.00v1.8M571.50 305.50v-1.8M574.50 157.00v3.8M574.50 305.50v-3.8M576.50 157.00v1.8M576.50 305.50v-1.8M579.50 157.00v1.8M579.50 305.50v-1.8M582.50 157.00v1.8M582.50 305.50v-1.8M585.50 157.00v1.8M585.50 305.50v-1.8M587.50 157.00v1.8M587.50 305.50v-1.8M590.50 157.00v1.8M590.50 305.50v-1.8M593.50 157.00v1.8M593.50 305.50v-1.8M596.50 157.00v1.8M596.50 305.50v-1.8M598.50 157.00v1.8M598.50 305.50v-1.8M601.50 157.00v1.8M601.50 305.50v-1.8M604.50 157.00v1.8M604.50 305.50v-1.8M607.50 157.00v1.8M607.50 305.50v-1.8M610.50 157.00v1.8M610.50 305.50v-1.8M612.50 157.00v1.8M612.50 305.50v-1.8M615.50 157.00v1.8M615.50 305.50v-1.8M618.50 157.00v1.8M618.50 305.50v-1.8M621.50 157.00v1.8M621.50 305.50v-1.8M623.50 157.00v1.8M623.50 305.50v-1.8M626.50 157.00v1.8M626.50 305.50v-1.8M629.50 157.00v3.8M629.50 305.50v-3.8M352.95 305.50h5.8M629.40 305.50h-5.8M352.95 294.50h2.8M629.40 294.50h-2.8M352.95 287.50h2.8M629.40 287.50h-2.8M352.95 283.50h2.8M629.40 283.50h-2.8M352.95 279.50h2.8M629.40 279.50h-2.8M352.95 276.50h2.8M629.40 276.50h-2.8M352.95 274.50h2.8M629.40 274.50h-2.8M352.95 271.50h2.8M629.40 271.50h-2.8M352.95 270.50h2.8M629.40 270.50h-2.8M352.95 268.50h5.8M629.40 268.50h-5.8M352.95 257.50h2.8M629.40 257.50h-2.8M352.95 250.50h2.8M629.40 250.50h-2.8M352.95 246.50h2.8M629.40 246.50h-2.8M352.95 242.50h2.8M629.40 242.50h-2.8M352.95 239.50h2.8M629.40 239.50h-2.8M352.95 237.50h2.8M629.40 237.50h-2.8M352.95 234.50h2.8M629.40 234.50h-2.8M352.95 232.50h2.8M629.40 232.50h-2.8M352.95 231.50h5.8M629.40 231.50h-5.8M352.95 220.50h2.8M629.40 220.50h-2.8M352.95 213.50h2.8M629.40 213.50h-2.8M352.95 208.50h2.8M629.40 208.50h-2.8M352.95 205.50h2.8M629.40 205.50h-2.8M352.95 202.50h2.8M629.40 202.50h-2.8M352.95 199.50h2.8M629.40 199.50h-2.8M352.95 197.50h2.8M629.40 197.50h-2.8M352.95 195.50h2.8M629.40 195.50h-2.8M352.95 194.50h5.8M629.40 194.50h-5.8M352.95 182.50h2.8M629.40 182.50h-2.8M352.95 176.50h2.8M629.40 176.50h-2.8M352.95 171.50h2.8M629.40 171.50h-2.8M352.95 168.50h2.8M629.40 168.50h-2.8M352.95 165.50h2.8M629.40 165.50h-2.8M352.95 162.50h2.8M629.40 162.50h-2.8M352.95 160.50h2.8M629.40 160.50h-2.8M352.95 158.50h2.8M629.40 158.50h-2.8M352.95 157.50h5.8M629.40 157.50h-5.8" stroke="#000" stroke-width="1.2" fill="none"/>
<rect x="352.95" y="157.00" width="276.45" height="148.50" stroke="#000" stroke-width="2" fill="none"/>
<path d="M352.50 312.00v3.8M352.50 460.20v-3.8M355.50 312.00v1.8M355.50 460.20v-1.8M358.50 312.00v1.8M358.50 460.20v-1.8M361.50 312.00v1.8M361.50 460.20v-1.8M364.50 312.00v1.8M364.50 460.20v-1.8M366.50 312.00v1.8M366.50 460.20v-1.8M369.50 312.00v1.8M369.50 460.20v-1.8M372.50 312.00v1.8M372.50 460.20v-1.8M375.50 312.00v1.8M375.50 460.20v-1.8M377.50 312.00v1.8M377.50 460.20v-1.8M380.50 312.00v1.8M380.50 460.20v-1.8M383.50 312.00v1.8M383.50 460.20v-1.8M386.50 312.00v1.8M386.50 460.20v-1.8M388.50 312.00v1.8M388.50 460.20v-1.8M391.50 312.00v1.8M391.50 460.20v-1.8M394.50 312.00v1.8M394.50 460.20v-1.8M397.50 312.00v1.8M397.50 460.20v-1.8M399.50 312.00v1.8M399.50 460.20v-1.8M402.50 312.00v1.8M402.50 460.20v-1.8M405.50 312.00v1.8M405.50 460.20v-1.8M408.50 312.00v3.8M408.50 460.20v-3.8M411.50 312.00v1.8M411.50 460.20v-1.8M413.50 312.00v1.8M413.50 460.20v-1.8M416.50 312.00v1.8M416.50 460.20v-1.8M419.50 312.00v1.8M419.50 460.20v-1.8M422.50 312.00v1.8M422.50 460.20v-1.8M424.50 312.00v1.8M424.50 460.20v-1.8M427.50 312.00v1.8M427.50 460.20v-1.8M430.50 312.00v1.8M430.50 460.20v-1.8M433.50 312.00v1.8M433.50 460.20v-1.8M435.50 312.00v1.8M435.50 460.20v-1.8M438.50 312.00v1.8M438.50 460.20v-1.8M441.50 312.00v1.8M441.50 460.20v-1.8M444.50 312.00v1.8M444.50 460.20v-1.8M446.50 312.00v1.8M446.50 460.20v-1.8M449.50 312.00v1.8M449.50 460.20v-1.8M452.50 312.00v1.8M452.50 460.20v-1.8M455.50 312.00v1.8M455.50 460.20v-1.8M458.50 312.00v1.8M458.50 460.20v-1.8M460.50 312.00v1.8M460.50 460.20v-1.8M463.50 312.00v3.8M463.50 460.20v-3.8M466.50 312.00v1.8M466.50 460.20v-1.8M469.50 312.00v1.8M469.50 460.20v-1.8M471.50 312.00v1.8M471.50 460.20v-1.8M474.50 312.00v1.8M474.50 460.20v-1.8M477.50 312.00v1.8M477.50 460.20v-1.8M480.50 312.00v1.8M480.50 460.20v-1.8M482.50 312.00v1.8M482.50 460.20v-1.8M485.50 312.00v1.8M485.50 460.20v-1.8M488.50 312.00v1.8M488.50 460.20v-1.8M491.50 312.00v1.8M491.50 460.20v-1.8M493.50 312.00v1.8M493.50 460.20v-1.8M496.50 312.00v1.8M496.50 460.20v-1.8M499.50 312.00v1.8M499.50 460.20v-1.8M502.50 312.00v1.8M502.50 460.20v-1.8M504.50 312.00v1.8M504.50 460.20v-1.8M507.50 312.00v1.8M507.50 460.20v-1.8M510.50 312.00v1.8M510.50 460.20v-1.8M513.50 312.00v1.8M513.50 460.20v-1.8M516.50 312.00v1.8M516.50 460.20v-1.8M518.50 312.00v3.8M518.50 460.20v-3.8M521.50 312.00v1.8M521.50 460.20v-1.8M524.50 312.00v1.8M524.50 460.20v-1.8M527.50 312.00v1.8M527.50 460.20v-1.8M529.50 312.00v1.8M529.50 460.20v-1.8M532.50 312.00v1.8M532.50 460.20v-1.8M535.50 312.00v1.8M535.50 460.20v-1.8M538.50 312.00v1.8M538.50 460.20v-1.8M540.50 312.00v1.8M540.50 460.20v-1.8M543.50 312.00v1.8M543.50 460.20v-1.8M546.50 312.00v1.8M546.50 460.20v-1.8M549.50 312.00v1.8M549.50 460.20v-1.8M551.50 312.00v1.8M551.50 460.20v-1.8M554.50 312.00v1.8M554.50 460.20v-1.8M557.50 312.00v1.8M557.50 460.20v-1.8M560.50 312.00v1.8M560.50 460.20v-1.8M563.50 312.00v1.8M563.50 460.20v-1.8M565.50 312.00v1.8M565.50 460.20v-1.8M568.50 312.00v1.8M568.50 460.20v-1.8M571.50 312.00v1.8M571.50 460.20v-1.8M574.50 312.00v3.8M574.50 460.20v-3.8M576.50 312.00v1.8M576.50 460.20v-1.8M579.50 312.00v1.8M579.50 460.20v-1.8M582.50 312.00v1.8M582.50 460.20v-1.8M585.50 312.00v1.8M585.50 460.20v-1.8M587.50 312.00v1.8M587.50 460.20v-1.8M590.50 312.00v1.8M590.50 460.20v-1.8M593.50 312.00v1.8M593.50 460.20v-1.8M596.50 312.00v1.8M596.50 460.20v-1.8M598.50 312.00v1.8M598.50 460.20v-1.8M601.50 312.00v1.8M601.50 460.20v-1.8M604.50 312.00v1.8M604.50 460.20v-1.8M607.50 312.00v1.8M607.50 460.20v-1.8M610.50 312.00v1.8M610.50 460.20v-1.8M612.50 312.00v1.8M612.50 460.20v-1.8M615.50 312.00v1.8M615.50 460.20v-1.8M618.50 312.00v1.8M618.50 460.20v-1.8M621.50 312.00v1.8M621.50 460.20v-1.8M623.50 312.00v1.8M623.50 460.20v-1.8M626.50 312.00v1.8M626.50 460.20v-1.8M629.50 312.00v3.8M629.50 460.20v-3.8M352.95 460.50h5.8M629.40 460.50h-5.8M352.95 450.50h2.8M629.40 450.50h-2.8M352.95 441.50h2.8M629.40 441.50h-2.8M352.95 432.50h2.8M629.40 432.50h-2.8M352.95 423.50h5.8M629.40 423.50h-5.8M352.95 413.50h2.8M629.40 413.50h-2.8M352.95 404.50h2.8M629.40 404.50h-2.8M352.95 395.50h2.8M629.40 395.50h-2.8M352.95 386.50h5.8M629.40 386.50h-5.8M352.95 376.50h2.8M629.40 376.50h-2.8M352.95 367.50h2.8M629.40 367.50h-2.8M352.95 358.50h2.8M629.40 358.50h-2.8M352.95 349.50h5.8M629.40 349.50h-5.8M352.95 339.50h2.8M629.40 339.50h-2.8M352.95 330.50h2.8M629.40 330.50h-2.8M352.95 321.50h2.8M629.40 321.50h-2.8M352.95 312.50h5.8M629.40 312.50h-5.8" stroke="#000" stroke-width="1.2" fill="none"/>
<rect x="352.95" y="312.00" width="276.45" height="148.20" stroke="#000" stroke-width="2" fill="none"/>
<text x="54.00" y="14.72" font-size="12" text-anchor="end" >180</text>
<text x="54.00" y="48.14" font-size="12" text-anchor="end" >90</text>
<text x="54.00" y="81.55" font-size="12" text-anchor="end" >0</text>
<text x="54.00" y="114.96" font-size="12" text-anchor="end" >90</text>
<text x="54.00" y="148.38" font-size="12" text-anchor="end" >180</text>
<path d="M31.8 111.16h7.6M24.6 144.57h7.4" stroke="#000" stroke-width="1.3"/>
<text x="54.00" y="165.80" font-size="12" text-anchor="end" >1</text>
<text x="54" y="199.20" font-size="12" text-anchor="end">10<tspan font-size="7.5" dy="-4.8" dx="5.5">1</tspan></text>
<path d="M44 191.00h5.4" stroke="#000" stroke-width="1.1"/>
<text x="54" y="236.20" font-size="12" text-anchor="end">10<tspan font-size="7.5" dy="-4.8" dx="5.5">2</tspan></text>
<path d="M44 228.00h5.4" stroke="#000" stroke-width="1.1"/>
<text x="54" y="273.40" font-size="12" text-anchor="end">10<tspan font-size="7.5" dy="-4.8" dx="5.5">3</tspan></text>
<path d="M44 265.20h5.4" stroke="#000" stroke-width="1.1"/>
<text x="54" y="306.40" font-size="12" text-anchor="end">10<tspan font-size="7.5" dy="-4.8" dx="5.5">4</tspan></text>
<path d="M44 298.20h5.4" stroke="#000" stroke-width="1.1"/>
<text x="54.00" y="320.60" font-size="12" text-anchor="end" >80</text>
<text x="54.00" y="354.60" font-size="12" text-anchor="end" >60</text>
<text x="54.00" y="391.10" font-size="12" text-anchor="end" >40</text>
<text x="54.00" y="429.10" font-size="12" text-anchor="end" >20</text>
<text x="54.00" y="460.60" font-size="12" text-anchor="end" >0</text>
<text x="58.00" y="478.30" font-size="12" text-anchor="middle" >0</text>
<text x="113.29" y="478.30" font-size="12" text-anchor="middle" >10</text>
<text x="168.58" y="478.30" font-size="12" text-anchor="middle" >20</text>
<text x="223.87" y="478.30" font-size="12" text-anchor="middle" >30</text>
<text x="279.16" y="478.30" font-size="12" text-anchor="middle" >40</text>
<text x="334.45" y="478.30" font-size="12" text-anchor="middle" >50</text>
<text x="196.22" y="493" font-size="12.3" text-anchor="middle" letter-spacing="0.55" word-spacing="1.5">Semi−Major Axis [R<tspan font-size="8" dy="2.5">U</tspan><tspan dy="-2.5">]</tspan></text>
<text x="352.95" y="478.30" font-size="12" text-anchor="middle" >0</text>
<text x="408.24" y="478.30" font-size="12" text-anchor="middle" >10</text>
<text x="463.53" y="478.30" font-size="12" text-anchor="middle" >20</text>
<text x="518.82" y="478.30" font-size="12" text-anchor="middle" >30</text>
<text x="574.11" y="478.30" font-size="12" text-anchor="middle" >40</text>
<text x="629.40" y="478.30" font-size="12" text-anchor="middle" >50</text>
<text x="491.17" y="493" font-size="12.3" text-anchor="middle" letter-spacing="0.55" word-spacing="1.5">Semi−Major Axis [R<tspan font-size="8" dy="2.5">U</tspan><tspan dy="-2.5">]</tspan></text>
<text transform="translate(12.2,77.4) rotate(-90)" font-size="12.5" text-anchor="middle" letter-spacing="0.8" word-spacing="1.5">Ω [deg]</text>
<text transform="translate(19.2,231.8) rotate(-90)" font-size="12.5" text-anchor="middle">e</text>
<text transform="translate(29.1,386.7) rotate(-90)" font-size="12.5" text-anchor="middle" letter-spacing="0.8" word-spacing="1.5">i [deg]</text>
</svg>
</body></html>
